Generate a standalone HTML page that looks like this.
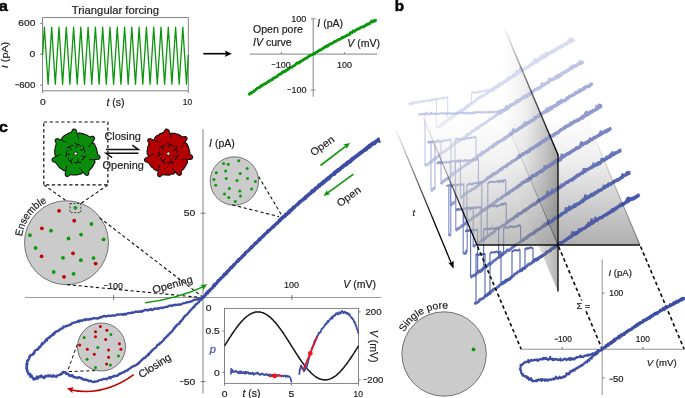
<!DOCTYPE html>
<html lang="en"><head><meta charset="utf-8"><title>Figure</title>
<style>
html,body{margin:0;padding:0;background:#fff;}
body{width:685px;height:398px;overflow:hidden;}
svg{display:block;font-family:"Liberation Sans","DejaVu Sans",sans-serif;}
</style></head><body>
<svg width="685" height="398" viewBox="0 0 685 398">
<rect width="685" height="398" fill="#fff"/>
<g id="panel-b">
<defs>
<linearGradient id="gfloor" gradientUnits="userSpaceOnUse" x1="0" y1="115" x2="0" y2="245">
<stop offset="0" stop-color="#7a7a7a" stop-opacity="0"/><stop offset="0.35" stop-color="#7a7a7a" stop-opacity="0.12"/><stop offset="1" stop-color="#7a7a7a" stop-opacity="0.6"/></linearGradient>
<linearGradient id="gvert" gradientUnits="userSpaceOnUse" x1="503" y1="0" x2="558" y2="0">
<stop offset="0" stop-color="#6e6e6e" stop-opacity="0"/><stop offset="0.4" stop-color="#6e6e6e" stop-opacity="0.1"/><stop offset="0.75" stop-color="#6e6e6e" stop-opacity="0.34"/><stop offset="1" stop-color="#6e6e6e" stop-opacity="0.58"/></linearGradient>
<linearGradient id="gedge" gradientUnits="userSpaceOnUse" x1="0" y1="117" x2="0" y2="245">
<stop offset="0" stop-color="#000" stop-opacity="0.05"/><stop offset="0.45" stop-color="#000" stop-opacity="0.35"/><stop offset="0.7" stop-color="#000" stop-opacity="0.9"/><stop offset="1" stop-color="#000" stop-opacity="1"/></linearGradient>
<linearGradient id="gedge2" gradientUnits="userSpaceOnUse" x1="0" y1="117" x2="0" y2="245">
<stop offset="0" stop-color="#000" stop-opacity="0"/><stop offset="1" stop-color="#000" stop-opacity="0.45"/></linearGradient>
<linearGradient id="gtop" gradientUnits="userSpaceOnUse" x1="503" y1="0" x2="558" y2="0">
<stop offset="0" stop-color="#000" stop-opacity="0"/><stop offset="0.45" stop-color="#000" stop-opacity="0.55"/><stop offset="1" stop-color="#000" stop-opacity="1"/></linearGradient>
<linearGradient id="gtarr" gradientUnits="userSpaceOnUse" x1="0" y1="125" x2="0" y2="225">
<stop offset="0" stop-color="#000" stop-opacity="0"/><stop offset="1" stop-color="#000" stop-opacity="1"/></linearGradient>
<linearGradient id="gwhite" gradientUnits="userSpaceOnUse" x1="430" y1="0" x2="560" y2="0">
<stop offset="0" stop-color="#fff" stop-opacity="0.45"/><stop offset="1" stop-color="#fff" stop-opacity="0"/></linearGradient>
</defs>
<line x1="436.4" y1="128.2" x2="436.4" y2="99" stroke="#d6dbf0" stroke-width="1.1" opacity="0.95"/>
<line x1="447.7" y1="97.2" x2="447.7" y2="119.9" stroke="#d6dbf0" stroke-width="1.1" opacity="0.95"/>
<line x1="471.6" y1="103.5" x2="471.6" y2="92.9" stroke="#d6dbf0" stroke-width="1.1" opacity="0.95"/>
<path d="M492.2 90 L491.6 90.8 L491.1 90.6 L490.5 90.4 L490 90.8 L489.4 91.5 L488.9 92 L488.3 92.4 L487.7 92.2 L487.2 92.8 L486.6 93.8 L486.1 93.9 L485.5 94.2 L484.9 94.3 L484.4 94.8 L483.8 95.6 L483.3 95.7 L482.7 95.8 L482.2 96.5 L481.6 96.6 L481 96.3 L480.5 97.1 L479.9 97.7 L479.4 97.3 L478.8 97.7 L478.2 98.5 L477.7 98.8 L477.1 98.8 L476.6 99.6 L476 100.7 L475.5 101 L474.9 100.9 L474.3 101.5 L473.8 102.3 L473.2 102.5 L472.7 102.8 L472.1 103.6 L471.6 103.7 L471 103.5 L470.4 104.1 L469.9 104.8 L469.3 105.4 L468.8 105.3 L468.2 105.2 L467.6 105.7 L467.1 105.7 L466.5 106.4 L466 107.5 L465.4 107.6 L464.9 108.3 L464.3 109.2 L463.7 109.3 L463.2 109.6 L462.6 110.1 L462.1 109.9 L461.5 110.2 L461 111.2 L460.4 110.8 L459.8 111.1 L459.3 112 L458.7 112.5 L458.2 112.9 L457.6 113 L457 113.6 L456.5 113.8 L455.9 114.2 L455.4 114.9 L454.8 115.2 L454.3 115.5 L453.7 116.1 L453.1 116.8 L452.6 116.8 L452 117.2 L451.5 118.1 L450.9 118.8 L450.4 118.3 L449.8 118.4 L449.2 119.5 L448.7 119.6 L448.1 119.5 L447.6 120.3 L447 120.7 L446.4 120.8 L445.9 122 L445.3 121.8 L444.8 121.6 L444.2 122.1 L443.7 122.7 L443.1 124 L442.5 125 L442 124.3 L441.4 123.9 L440.9 125.1 L440.3 126.2 L439.7 126.5 L439.2 126.2 L438.6 126.5 L438.1 127.2 L437.5 127.4 L437 127.6 L436.4 128.2" fill="none" stroke="#d6dbf0" stroke-width="2.7" stroke-linejoin="round" opacity="0.92"/>
<path d="M436.4 99 L435.8 98.7 L435.3 98.7 L434.7 99.6 L434.2 99.8 L433.6 99 L433.1 99.6 L432.5 100.3 L431.9 100.7 L431.4 100.6 L430.8 99.9 L430.3 99.5 L429.7 100.2 L429.2 101.6 L428.6 101 L428 100 L427.5 100.6 L426.9 100.6 L426.4 100.4 L425.8 100.7 L425.3 100.9 L424.7 101.5 L424.2 101.5 L423.6 101.6 L423 101.5 L422.5 101.4 L421.9 101 L421.4 100.5 L420.8 101.5 L420.3 101.9 L419.7 101.9 L419.1 102.4 L418.6 102.7 L418 102.9 L417.5 102.9 L416.9 102.7 L416.4 102.2 L415.8 102.1 L415.2 102.3 L414.7 102.3 L414.1 102.3 L413.6 102.8 L413 103.1 L412.5 103.1 L411.9 102.5 L411.3 102.7 L410.8 103.5 L410.2 104 L409.7 104.2 L409.3 103.7 L409.8 103.2 L410.4 103.9 L411 104.3 L411.5 104.1 L412.1 104.5 L412.6 103.5 L413.2 102.9 L413.7 103.2 L414.3 103.2 L414.9 103.1 L415.4 102.9 L416 102.7 L416.5 102 L417.1 101.8 L417.6 102 L418.2 102 L418.7 102 L419.3 102 L419.9 102.4 L420.4 102.2 L421 101.9 L421.5 101.7 L422.1 101.4 L422.6 101.2 L423.2 101.1 L423.8 101.2 L424.3 101.3 L424.9 101.2 L425.4 100.7 L426 100.7 L426.5 100.8 L427.1 100.2 L427.7 100.3 L428.2 100.2 L428.8 100.3 L429.3 100.2 L429.9 99.7 L430.4 99.5 L431 100.2 L431.6 100.3 L432.1 99.5 L432.7 99.4 L433.2 99.1 L433.8 99.6 L434.3 99.5 L434.9 99 L435.5 99.6 L436 98.9 L436.6 98.7 L437.1 99.4 L437.7 99.3 L438.2 99 L438.8 99.1 L439.3 98.9 L439.9 98.6 L440.5 98.5 L441 98.5 L441.6 98.1 L442.1 98.1 L442.7 98.1 L443.2 97.4 L443.8 97.6 L444.4 98.4 L444.9 98.5 L445.5 97.7 L446 97.5 L446.6 97.4 L447.1 97.1 L447.7 97.2" fill="none" stroke="#d6dbf0" stroke-width="1.9" stroke-linejoin="round" opacity="0.92"/>
<path d="M447.7 119.9 L448.3 119.2 L448.8 118.7 L449.4 118 L450 117.8 L450.5 118.1 L451.1 118.5 L451.7 117.8 L452.3 117.3 L452.8 116.8 L453.4 115.4 L454 115.2 L454.5 115.5 L455.1 114.9 L455.7 114.5 L456.2 114.4 L456.8 113.6 L457.4 112.6 L457.9 112.4 L458.5 112.4 L459.1 111.9 L459.6 111.9 L460.2 112.2 L460.8 111.3 L461.4 110.6 L461.9 110.7 L462.5 110.3 L463.1 109.9 L463.6 109.2 L464.2 108.7 L464.8 109 L465.3 108.7 L465.9 107.4 L466.5 107 L467 107.2 L467.6 106.7 L468.2 105.7 L468.8 105.7 L469.3 105.1 L469.9 104.4 L470.5 104.4 L471 103.5 L471.6 103.5" fill="none" stroke="#d6dbf0" stroke-width="2.7" stroke-linejoin="round" opacity="0.92"/>
<path d="M471.6 92.9 L472.2 93.1 L472.7 92.2 L473.3 92 L473.9 92.6 L474.5 92.9 L475 92.8 L475.6 92.5 L476.2 92.5 L476.8 92.3 L477.3 92.4 L477.9 92.5 L478.5 92.1 L479 92.1 L479.6 91.6 L480.2 91.1 L480.8 91.8 L481.3 92 L481.9 91.4 L482.5 91.3 L483 91.1 L483.6 91 L484.2 90.8 L484.8 90.7 L485.3 90.4 L485.9 90.6 L486.5 90.8 L487 89.8 L487.6 89.8 L488.2 90.1 L488.8 90.1 L489.3 89.8 L489.9 89.8 L490.5 91.2 L491.1 90.5 L491.6 89.4 L492.2 89.6" fill="none" stroke="#d6dbf0" stroke-width="1.9" stroke-linejoin="round" opacity="0.92"/>
<path d="M490.2 90 L490.7 90.4 L491.3 90.4 L491.8 90.4 L492.3 89.8 L492.8 89 L493.4 89.8 L493.9 89.2 L494.4 87.6 L494.9 87.5 L495.5 87.4 L496 87.4 L496.5 87.1 L497 86.2 L497.6 85.9 L498.1 86.6 L498.6 86.6 L499.1 84.5 L499.7 83.7 L500.2 84 L500.7 83.9 L501.2 83.8 L501.8 83.9 L502.3 83.9 L502.8 83.2 L503.3 82.6 L503.9 82 L504.4 81.7 L504.9 81.8 L505.4 81.5 L506 80.6 L506.5 80.5 L507 80.3 L507.5 79.6 L508.1 78.9 L508.6 78.4 L509.1 78.1 L509.6 77.1 L510.2 77.3 L510.7 78 L511.2 77.3 L511.7 77.1 L512.3 77 L512.8 76.4 L513.3 75.2 L513.8 74.6 L514.4 75.2 L514.9 75.5 L515.4 75.6 L515.9 75.2 L516.5 73.9 L517 71.2 L517.5 72.6 L518 73 L518.6 72.8 L519.1 72.4 L519.6 71.8 L520.1 71.1 L520.7 68.1 L521.2 70.8 L521.7 70.5 L522.2 70.4 L522.8 69.9 L523.3 69.6 L523.8 69.3 L524.3 69.1 L524.9 68.9 L525.4 68.2 L525.9 67.5 L526.4 67.9 L527 67.7 L527.5 67.1 L528 67 L528.5 66.1 L529.1 65.5 L529.6 65.3 L530.1 65.3 L530.6 65.2 L531.2 64.4 L531.7 63.7 L532.2 63.7 L532.7 64.1 L533.3 63 L533.8 62.3 L534.3 62.6 L534.8 62.3 L535.4 62 L535.9 60.3 L536.4 61.9 L536.9 61.6 L537.5 60.9 L538 60.6 L538.5 59.9 L539 59.7 L539.6 59.5 L540.1 58.8 L540.6 58.5 L541.1 58.4 L541.7 58.3 L542.2 58 L542.7 57.3 L543.2 57.5 L543.8 57.6 L544.3 57.3 L544.8 56.8 L545.3 56.1 L545.9 55.4 L546.4 52.7 L546.9 55.2 L547.4 55 L548 53.9 L548.5 53.5 L549 53.2 L549.5 53 L550.1 52.7 L550.6 52 L551.1 52.1 L551.6 52.1 L552.2 51.3 L552.7 51.2 L553.2 52.1 L553.7 51.1 L554.3 50.7 L554.8 50.6 L555.3 49.6 L555.8 49.4 L556.4 48.8 L556.9 49 L557.4 49.3 L557.9 48.3 L558.5 47.8 L559 47.2 L559.5 46.9 L560 47.3 L560.6 46.6 L561.1 45.9 L561.6 46.1 L562.1 46.3 L562.7 46.4 L563.2 45.6 L563.7 44.6 L564.2 44.6 L564.8 44.4 L565.3 43.9 L565.8 44 L566.3 44.4 L566.9 43.8 L567.4 42.9 L567.9 42.7 L568.4 41.8 L569 41.4 L569.5 41.3 L570 39.3 L570.5 42 L571.1 41 L571.6 40.4 L572.1 39.3 L572.6 39.3 L573.2 40.3 L573.7 39.5" fill="none" stroke="#d6dbf0" stroke-width="3.0" stroke-linejoin="round"/>
<line x1="425" y1="165.7" x2="425" y2="113.8" stroke="#bdc4e4" stroke-width="1.1" opacity="0.95"/>
<path d="M501.6 111.7 L501 112.3 L500.5 111.7 L499.9 112.2 L499.4 112.9 L498.8 113.4 L498.3 113.7 L497.7 114.3 L497.2 114.8 L496.6 115 L496 115.4 L495.5 115.6 L494.9 116.5 L494.4 117 L493.8 116.9 L493.3 116.8 L492.7 117.7 L492.2 118.7 L491.6 118.6 L491.1 118.8 L490.5 119 L489.9 118.9 L489.4 119.4 L488.8 120.2 L488.3 120.9 L487.7 120.9 L487.2 121.4 L486.6 122.3 L486.1 122.5 L485.5 123 L484.9 123.2 L484.4 123.2 L483.8 123.8 L483.3 124.2 L482.7 124.7 L482.2 124.7 L481.6 125.3 L481.1 125.8 L480.5 125.7 L480 125.9 L479.4 126.5 L478.8 127.7 L478.3 128.3 L477.7 128.5 L477.2 128 L476.6 127.9 L476.1 128.6 L475.5 129 L475 129.9 L474.4 130.6 L473.8 130.6 L473.3 131.1 L472.7 131.2 L472.2 131.1 L471.6 131.6 L471.1 132.4 L470.5 133.2 L470 133.6 L469.4 134.2 L468.9 134 L468.3 133.8 L467.7 134.7 L467.2 134.8 L466.6 135 L466.1 136.2 L465.5 137.1 L465 137.5 L464.4 137.5 L463.9 137.5 L463.3 138.2 L462.7 138.6 L462.2 138.7 L461.6 139.7 L461.1 139.8 L460.5 139.6 L460 140.1 L459.4 140.9 L458.9 141.4 L458.3 141.7 L457.7 142.1 L457.2 142 L456.6 141.9 L456.1 142.9 L455.5 143.2 L455 143.2 L454.4 143.5 L453.9 144 L453.3 144.7 L452.8 145.1 L452.2 145.6 L451.6 146.9 L451.1 147.2 L450.5 147.4 L450 148 L449.4 147.6 L448.9 147.8 L448.3 148.3 L447.8 149 L447.2 149.4 L446.6 149.9 L446.1 150.9 L445.5 150.2 L445 150.7 L444.4 152.2 L443.9 152.1 L443.3 152.4 L442.8 152.5 L442.2 152.6 L441.7 153.1 L441.1 153.6 L440.5 153.9 L440 153.3 L439.4 154.4 L438.9 156.4 L438.3 156.5 L437.8 156.4 L437.2 157.1 L436.7 157.1 L436.1 157.7 L435.5 158.7 L435 158.6 L434.4 158.6 L433.9 159.5 L433.3 159.3 L432.8 160.1 L432.2 161.6 L431.7 161.2 L431.1 161.6 L430.6 162.3 L430 162.1 L429.4 163 L428.9 163.5 L428.3 163.6 L427.8 164.4 L427.2 165.1 L426.7 165.3 L426.1 164.9 L425.6 164.5 L425 165.7" fill="none" stroke="#bdc4e4" stroke-width="2.7" stroke-linejoin="round" opacity="0.92"/>
<path d="M425 113.8 L424.4 113.7 L423.9 113.7 L423.3 114.3 L422.8 114.4 L422.2 113.8 L421.7 114.1 L421.1 114.5 L420.6 114.2 L420 113.8 L419.4 114.2 L418.9 114.4 L418.9 114.6 L419.4 114.3 L420 114.2 L420.5 114.2 L421.1 114.2 L421.6 114.3 L422.2 113.9 L422.8 113.9 L423.3 114.3 L423.9 115 L424.4 114.7 L425 114 L425.5 114.6 L426.1 113.9 L426.6 112.8 L427.2 113.1 L427.7 113.6 L428.3 114.7 L428.9 114.9 L429.4 114.5 L430 114.3 L430.5 113.1 L431.1 112.4 L431.6 113.5 L432.2 114.3 L432.7 113.5 L433.3 113.8 L433.9 113.7 L434.4 113.7 L435 114.6 L435.5 114 L436.1 113.2 L436.6 113.7 L437.2 113.7 L437.7 113.6 L438.3 113.6 L438.9 113.6 L439.4 114 L440 113.5 L440.5 113.2 L441.1 113.4 L441.6 113.1 L442.2 112.9 L442.7 113.4 L443.3 113.6 L443.9 113.3 L444.4 113.7 L445 113.9 L445.5 113 L446.1 113.5 L446.6 114.4 L447.2 113.9 L447.7 113.1 L448.3 113.1 L448.8 113.2 L449.4 113 L450 113.7 L450.5 114 L451.1 113.5 L451.6 113.5 L452.2 113.4 L452.7 113.5 L453.3 113.8 L453.8 113.4 L454.4 113.1 L455 114 L455.5 114.1 L456.1 113.2 L456.6 113.7 L457.2 113.8 L457.7 112.8 L458.3 113 L458.8 113 L459.4 112.6 L460 113 L460.5 113.1 L461.1 112.7 L461.6 112.6 L462.2 112.6 L462.7 113.1 L463.3 113.1 L463.8 112.5 L464.4 113.4 L465 113.4 L465.5 113.2 L466.1 113.8 L466.6 113.2 L467.2 112.3 L467.7 112.5 L468.3 113.2 L468.8 113.3 L469.4 113.1 L469.9 113.2 L470.5 113.6 L471.1 112.8 L471.6 112.8 L472.2 113.2 L472.7 112.5 L473.3 112.4 L473.8 113.1 L474.4 113.5 L474.9 112.3 L475.5 112 L476.1 112.5 L476.6 112.4 L477.2 112.3 L477.7 111.9 L478.3 112.3 L478.8 112.5 L479.4 112 L479.9 112.1 L480.5 112 L481.1 112.4 L481.6 112.8 L482.2 112.3 L482.7 111.9 L483.3 111.9 L483.8 112.5 L484.4 112.7 L484.9 112.4 L485.5 112.3 L486.1 112.1 L486.6 112.2 L487.2 111.7 L487.7 112.1 L488.3 112.5 L488.8 111.8 L489.4 112.4 L489.9 112.6 L490.5 112.2 L491 111.9 L491.6 111.4 L492.2 111.6 L492.7 112.5 L493.3 112.1 L493.8 112.2 L494.4 112.1 L494.9 111.4 L495.5 111.9 L496 112.1 L496.6 112.2 L497.2 111.9 L497.7 111.4 L498.3 111 L498.8 110.9 L499.4 111.1 L499.9 111.1 L500.5 111.5 L501 111.7 L501.6 111" fill="none" stroke="#bdc4e4" stroke-width="1.9" stroke-linejoin="round" opacity="0.92"/>
<path d="M499.6 112.5 L500.1 111 L500.7 113.2 L501.2 112.1 L501.7 110.9 L502.2 110.6 L502.8 111.1 L503.3 110.9 L503.8 110 L504.3 109.7 L504.9 110 L505.4 109.2 L505.9 108.4 L506.4 106.6 L507 108.5 L507.5 109.2 L508 108.4 L508.5 107.5 L509.1 107 L509.6 106.1 L510.1 105.6 L510.6 105.5 L511.2 104.7 L511.7 104.5 L512.2 104.5 L512.7 104.5 L513.3 104.5 L513.8 104.1 L514.3 103.2 L514.8 103 L515.4 102.9 L515.9 102.8 L516.4 102.2 L516.9 100.6 L517.5 100.4 L518 101.6 L518.5 101.6 L519 100.5 L519.6 100.3 L520.1 100.1 L520.6 99.7 L521.1 99 L521.7 98.6 L522.2 98.4 L522.7 97.9 L523.2 97.1 L523.8 97 L524.3 97.4 L524.8 97.2 L525.3 96.7 L525.9 96.3 L526.4 96.7 L526.9 96.2 L527.4 95.4 L528 95.6 L528.5 95 L529 94.1 L529.5 94.1 L530.1 94.2 L530.6 93.6 L531.1 92.9 L531.6 92.5 L532.2 91.7 L532.7 91.7 L533.2 91.6 L533.7 90.4 L534.3 90.1 L534.8 89.8 L535.3 89.2 L535.8 89.4 L536.4 89.1 L536.9 89.1 L537.4 88.6 L537.9 88 L538.5 88.3 L539 88.4 L539.5 88.2 L540 87.5 L540.6 86.9 L541.1 86.5 L541.6 86.5 L542.1 83.8 L542.7 85.4 L543.2 85.3 L543.7 84.9 L544.2 84.5 L544.8 84.8 L545.3 84.3 L545.8 83.4 L546.3 83.4 L546.9 83.2 L547.4 82.9 L547.9 82.5 L548.4 82.4 L549 81.4 L549.5 79 L550 80.6 L550.5 80.3 L551.1 80 L551.6 79.3 L552.1 79.4 L552.6 79.8 L553.2 79.7 L553.7 79 L554.2 79 L554.7 78.3 L555.3 76.8 L555.8 76.7 L556.3 76.9 L556.8 77.1 L557.4 77.6 L557.9 75.1 L558.4 76.3 L558.9 76.9 L559.5 76 L560 75.3 L560.5 75.5 L561 75.1 L561.6 73.9 L562.1 73.6 L562.6 73 L563.1 72.8 L563.7 72.9 L564.2 72.5 L564.7 72.4 L565.2 71.6 L565.8 71.6 L566.3 71.3 L566.8 70.9 L567.3 70.4 L567.9 69.9 L568.4 69.8 L568.9 69.4 L569.4 69.2 L570 68.2 L570.5 67.7 L571 68.1 L571.5 68.4 L572.1 67.6 L572.6 66.4 L573.1 66.3 L573.6 66.6 L574.2 66.3 L574.7 65.8 L575.2 66 L575.7 66.3 L576.3 65.9 L576.8 65 L577.3 64.5 L577.8 64.4 L578.4 63.7 L578.9 63.7 L579.4 63.9 L579.9 63.1 L580.5 63.3 L581 63.4 L581.5 62.9 L582 62.7 L582.6 62.4 L583.1 61.3" fill="none" stroke="#bdc4e4" stroke-width="3.0" stroke-linejoin="round"/>
<line x1="441" y1="184.1" x2="441" y2="141" stroke="#a5aed8" stroke-width="1.1" opacity="0.95"/>
<line x1="435" y1="142.1" x2="435" y2="187.2" stroke="#a5aed8" stroke-width="1.1" opacity="0.95"/>
<line x1="431" y1="190.4" x2="431" y2="141.8" stroke="#a5aed8" stroke-width="1.1" opacity="0.95"/>
<line x1="451" y1="140" x2="451" y2="175.7" stroke="#a5aed8" stroke-width="1.1" opacity="0.95"/>
<line x1="455" y1="172.7" x2="455" y2="139.9" stroke="#a5aed8" stroke-width="1.1" opacity="0.95"/>
<line x1="476" y1="137.1" x2="476" y2="158.5" stroke="#a5aed8" stroke-width="1.1" opacity="0.95"/>
<path d="M511 134.1 L510.4 134.8 L509.9 135.3 L509.3 135 L508.8 135.6 L508.2 136.2 L507.7 136.3 L507.1 136.3 L506.6 136.5 L506 137 L505.4 137.1 L504.9 137.1 L504.3 138.5 L503.8 139.4 L503.2 139.2 L502.7 140 L502.1 140.2 L501.6 140.4 L501 140.4 L500.4 140.7 L499.9 141.3 L499.3 141.8 L498.8 142.4 L498.2 142.2 L497.7 141.9 L497.1 142.4 L496.6 143.6 L496 144.4 L495.4 144.7 L494.9 144.3 L494.3 143.7 L493.8 144.5 L493.2 145.6 L492.7 146 L492.1 146.6 L491.6 147.1 L491 147 L490.4 147.2 L489.9 148 L489.3 148.7 L488.8 149 L488.2 150 L487.7 150.4 L487.1 150.1 L486.6 150.2 L486 150.4 L485.4 151.3 L484.9 152 L484.3 152.2 L483.8 152.5 L483.2 152.9 L482.7 152.6 L482.1 151.9 L481.6 153.6 L481 155.3 L480.4 155 L479.9 154.5 L479.3 154.5 L478.8 155.9 L478.2 155.8 L477.7 155.7 L477.1 157.2 L476.6 157.8 L476 158.1 L475.4 158.4 L474.9 159.3 L474.3 159.4 L473.8 158.6 L473.2 159.4 L472.7 160.7 L472.1 161 L471.6 161.3 L471 161.5 L470.4 161.2 L469.9 162.2 L469.3 163.5 L468.8 163.9 L468.2 163.7 L467.7 163.2 L467.1 163.4 L466.6 164.1 L466 165 L465.4 165.7 L464.9 165.4 L464.3 165.7 L463.8 166.6 L463.2 166.9 L462.7 167.3 L462.1 167.6 L461.6 168.2 L461 168.7 L460.4 169 L459.9 169.2 L459.3 169.6 L458.8 170.2 L458.2 169.8 L457.7 170.4 L457.1 171.4 L456.6 171.9 L456 172.4 L455.4 172.4 L454.9 173 L454.3 173.4 L453.8 173.6 L453.2 173.4 L452.7 174.6 L452.1 175 L451.6 174.7 L451 175.9 L450.4 176.5 L449.9 176.9 L449.3 177.4 L448.8 178 L448.2 178.3 L447.7 179.2 L447.1 179.2 L446.6 178.8 L446 179.4 L445.4 179.6 L444.9 180.2 L444.3 181.2 L443.8 181.3 L443.2 181 L442.7 181.9 L442.1 182.7 L441.6 183.5 L441 184.1" fill="none" stroke="#a5aed8" stroke-width="2.7" stroke-linejoin="round" opacity="0.92"/>
<path d="M441 141 L440.3 141.1 L439.7 140.6 L439 140.8 L438.3 141.2 L437.7 141.2 L437 141.2 L436.3 141.9 L435.7 142.3 L435 142.1" fill="none" stroke="#a5aed8" stroke-width="1.9" stroke-linejoin="round" opacity="0.92"/>
<path d="M435 187.2 L434.3 188.1 L433.7 188.6 L433 189 L432.3 189.9 L431.7 190.5 L431 190.4" fill="none" stroke="#a5aed8" stroke-width="2.7" stroke-linejoin="round" opacity="0.92"/>
<path d="M431 141.8 L430.4 141.7 L429.9 141.7 L429.3 142.3 L428.7 142.5 L428.2 142 L428.4 141.8 L429 142 L429.5 142.3 L430.1 142.5 L430.7 142.3 L431.2 141.5 L431.8 142 L432.3 142.4 L432.9 142 L433.5 142 L434 141.5 L434.6 141.2 L435.2 141.6 L435.7 141.9 L436.3 141.8 L436.9 140.4 L437.4 140.3 L438 141.3 L438.6 141.8 L439.1 141.8 L439.7 142.1 L440.3 142.3 L440.8 141.9 L441.4 141.7 L442 140.8 L442.5 140.7 L443.1 141.3 L443.7 140.8 L444.2 140.7 L444.8 140.9 L445.3 140.6 L445.9 140.3 L446.5 140.3 L447 140.4 L447.6 140.3 L448.2 140.3 L448.7 139.8 L449.3 139.5 L449.9 139.5 L450.4 139.4 L451 140" fill="none" stroke="#a5aed8" stroke-width="1.9" stroke-linejoin="round" opacity="0.92"/>
<path d="M451 175.7 L451.7 175.8 L452.3 174.9 L453 174.2 L453.7 173.6 L454.3 172.7 L455 172.7" fill="none" stroke="#a5aed8" stroke-width="2.7" stroke-linejoin="round" opacity="0.92"/>
<path d="M455 139.9 L455.6 139.4 L456.1 139.1 L456.7 139.3 L457.3 138.6 L457.8 138.6 L458.4 138.9 L459 139.4 L459.5 139.3 L460.1 139.4 L460.7 139.4 L461.2 139.4 L461.8 139.7 L462.4 139.2 L462.9 139.2 L463.5 139.3 L464.1 139.4 L464.6 139.6 L465.2 139 L465.8 138 L466.4 137.2 L466.9 137.4 L467.5 138.5 L468.1 138.7 L468.6 138.4 L469.2 138.1 L469.8 137.8 L470.3 137.8 L470.9 138 L471.5 137.5 L472 137.6 L472.6 137.6 L473.2 137.3 L473.7 137.5 L474.3 137.4 L474.9 137.2 L475.4 136.9 L476 137.1" fill="none" stroke="#a5aed8" stroke-width="1.9" stroke-linejoin="round" opacity="0.92"/>
<path d="M476 158.5 L476.6 157.1 L477.1 156.7 L477.7 156.1 L478.3 155.1 L478.8 155 L479.4 155.5 L480 154.7 L480.5 154.2 L481.1 153.9 L481.6 153.5 L482.2 153.6 L482.8 153.4 L483.3 153 L483.9 152.2 L484.5 152 L485 151.7 L485.6 151.1 L486.2 151.1 L486.7 150.5 L487.3 149.5 L487.9 149.4 L488.4 149 L489 148.2 L489.5 147.8 L490.1 148 L490.7 147.9 L491.2 146.5 L491.8 146.4 L492.4 147.4 L492.9 147.3 L493.5 146.1 L494.1 145.2 L494.6 145.1 L495.2 145 L495.8 144.5 L496.3 143.5 L496.9 143.3 L497.5 143.5 L498 142.4 L498.6 141.7 L499.1 141.9 L499.7 141.6 L500.3 141.3 L500.8 141.2 L501.4 140.8 L502 140.1 L502.5 139.2 L503.1 139 L503.7 139.5 L504.2 139.6 L504.8 138.7 L505.4 137.7 L505.9 137.8 L506.5 137.9 L507 137.2 L507.6 136.6 L508.2 135.8 L508.7 135.4 L509.3 135 L509.9 134.4 L510.4 134.3 L511 133.8" fill="none" stroke="#a5aed8" stroke-width="2.7" stroke-linejoin="round" opacity="0.92"/>
<path d="M509 135.2 L509.5 135.1 L510.1 134.5 L510.6 134.3 L511.1 134.3 L511.6 134.1 L512.2 133.2 L512.7 132.6 L513.2 129.7 L513.7 131.8 L514.3 131.1 L514.8 131 L515.3 130.8 L515.8 131.2 L516.4 131.1 L516.9 130 L517.4 129.6 L517.9 129.9 L518.5 129.4 L519 128.4 L519.5 128.1 L520 127.7 L520.6 127.6 L521.1 127.7 L521.6 126.9 L522.1 126.2 L522.7 126.8 L523.2 126.3 L523.7 125.4 L524.2 125 L524.8 123.8 L525.3 123.7 L525.8 124.6 L526.3 124.2 L526.9 122.9 L527.4 122.7 L527.9 123 L528.4 122.9 L529 122.8 L529.5 122.1 L530 121.6 L530.5 120.8 L531.1 120.7 L531.6 121 L532.1 120.6 L532.6 120.6 L533.2 119.8 L533.7 119.1 L534.2 118.5 L534.7 117.6 L535.3 117.5 L535.8 117.9 L536.3 117.2 L536.8 117.1 L537.4 117.1 L537.9 116.7 L538.4 116.1 L538.9 115.1 L539.5 115.2 L540 115.6 L540.5 115 L541 114.4 L541.6 114 L542.1 113.7 L542.6 113.3 L543.1 112.4 L543.7 112.5 L544.2 112.3 L544.7 111.6 L545.2 111.7 L545.8 111.6 L546.3 110.8 L546.8 108.8 L547.3 111.2 L547.9 110.7 L548.4 110.6 L548.9 109.8 L549.4 108 L550 108.1 L550.5 109.2 L551 107 L551.5 108.2 L552.1 107.5 L552.6 107.4 L553.1 106.5 L553.6 105.9 L554.2 106 L554.7 106.4 L555.2 106 L555.7 105.7 L556.3 105.6 L556.8 104.2 L557.3 104.6 L557.8 104.5 L558.4 102.1 L558.9 101.9 L559.4 103.5 L559.9 102.3 L560.5 102.5 L561 102.6 L561.5 101.5 L562 100.8 L562.6 100.8 L563.1 101.1 L563.6 100.8 L564.1 100.4 L564.7 100.7 L565.2 100.6 L565.7 100.2 L566.2 99.9 L566.8 98.6 L567.3 98.3 L567.8 98.6 L568.3 97.8 L568.9 97.1 L569.4 96.3 L569.9 96 L570.4 96.2 L571 95.8 L571.5 95.3 L572 95.1 L572.5 95.3 L573.1 95.1 L573.6 94.5 L574.1 94.7 L574.6 94.3 L575.2 93.8 L575.7 93.3 L576.2 92.9 L576.7 92.9 L577.3 92.6 L577.8 92.1 L578.3 91.4 L578.8 91.1 L579.4 91 L579.9 91.1 L580.4 91.2 L580.9 90.2 L581.5 89.8 L582 89.8 L582.5 89.4 L583 89.1 L583.6 88.2 L584.1 88.3 L584.6 88.7 L585.1 87.6 L585.7 86.6 L586.2 86.5 L586.7 86.4 L587.2 86.2 L587.8 86.4 L588.3 86.7 L588.8 86.1 L589.3 85.8 L589.9 86 L590.4 85.1 L590.9 83.9 L591.4 84 L592 84.4 L592.5 84.6" fill="none" stroke="#a5aed8" stroke-width="3.0" stroke-linejoin="round"/>
<line x1="460.4" y1="197.9" x2="460.4" y2="161.1" stroke="#8e99cd" stroke-width="1.1" opacity="0.95"/>
<line x1="450.4" y1="162.2" x2="450.4" y2="205.6" stroke="#8e99cd" stroke-width="1.1" opacity="0.95"/>
<line x1="455.4" y1="202.1" x2="455.4" y2="161.6" stroke="#8e99cd" stroke-width="1.1" opacity="0.95"/>
<line x1="478.4" y1="159.6" x2="478.4" y2="184.3" stroke="#8e99cd" stroke-width="1.1" opacity="0.95"/>
<path d="M520.4 156.3 L519.8 156.5 L519.3 157.2 L518.7 157.6 L518.2 157.4 L517.6 158.2 L517.1 159 L516.5 158.9 L516 159.4 L515.4 159.6 L514.8 160.3 L514.3 160.9 L513.7 160.8 L513.2 161.2 L512.6 161.2 L512.1 161.1 L511.5 161.8 L511 162.7 L510.4 163.4 L509.8 163.8 L509.3 163.4 L508.7 163.8 L508.2 164.8 L507.6 165.3 L507.1 165.5 L506.5 165.2 L506 165.9 L505.4 166.4 L504.8 166.6 L504.3 166.7 L503.7 167.1 L503.2 167.8 L502.6 168.2 L502.1 169.4 L501.5 169.8 L501 169.3 L500.4 169 L499.8 169.5 L499.3 170.3 L498.7 171.1 L498.2 171.3 L497.6 171.7 L497.1 172.2 L496.5 172.7 L496 173.4 L495.4 173.6 L494.8 173.5 L494.3 173.3 L493.7 173.2 L493.2 174 L492.6 174.4 L492.1 175.1 L491.5 176.2 L491 176.4 L490.4 176.3 L489.8 176.6 L489.3 177.2 L488.7 177.6 L488.2 178.1 L487.6 178.7 L487.1 179.1 L486.5 179.6 L486 179.9 L485.4 180.1 L484.8 181 L484.3 181.4 L483.7 181.4 L483.2 181.9 L482.6 181.9 L482.1 182.1 L481.5 182.4 L481 182.9 L480.4 183.4 L479.8 183.6 L479.3 184.6 L478.7 185.1 L478.2 185.5 L477.6 186 L477.1 186.3 L476.5 186.4 L476 186.6 L475.4 188 L474.8 188.6 L474.3 188.5 L473.7 188.7 L473.2 189 L472.6 189 L472.1 188.9 L471.5 189.8 L471 190.7 L470.4 190.8 L469.8 190.9 L469.3 191.3 L468.7 191.7 L468.2 191.9 L467.6 191.9 L467.1 192.6 L466.5 192.9 L466 193 L465.4 193.8 L464.8 194.2 L464.3 194.9 L463.7 195.5 L463.2 195.8 L462.6 196 L462.1 196.2 L461.5 197.1 L461 197.8 L460.4 197.9" fill="none" stroke="#8e99cd" stroke-width="2.7" stroke-linejoin="round" opacity="0.92"/>
<path d="M460.4 161.1 L459.8 161.6 L459.3 161.5 L458.7 161.1 L458.1 161.4 L457.6 161.3 L457 160.8 L456.5 161.1 L455.9 161.6 L455.3 161.5 L454.8 161.5 L454.2 161.5 L453.6 161.2 L453.1 161.4 L452.5 161.1 L452 161.1 L451.4 161.2 L450.8 161.2 L450.3 161.9 L449.7 162 L449.1 161.6 L448.6 161.9 L448 162 L447.5 161.8 L446.9 161.8 L446.3 162.4 L445.8 162.8 L445.2 162.5 L444.6 162 L444.1 162.1 L443.5 162.1 L443 162.1 L442.4 162.2 L441.8 162.7 L441.3 162.6 L440.7 162.4 L440.1 163.2 L439.6 162.3 L439 162 L438.5 163.1 L437.9 163.6 L437.5 162.6 L438 162.1 L438.6 162.2 L439.1 162 L439.7 162.1 L440.3 163 L440.8 163.2 L441.4 162.5 L442 162.3 L442.5 162.5 L443.1 162.8 L443.6 162.2 L444.2 162.4 L444.8 162.3 L445.3 161.7 L445.9 162.2 L446.5 162.8 L447 162.5 L447.6 162 L448.1 162.4 L448.7 162.5 L449.3 162.4 L449.8 162.5 L450.4 162.2" fill="none" stroke="#8e99cd" stroke-width="1.9" stroke-linejoin="round" opacity="0.92"/>
<path d="M450.4 205.6 L451 205.3 L451.6 204.2 L452.3 203 L452.9 203.6 L453.5 203.6 L454.1 202.4 L454.8 202 L455.4 202.1" fill="none" stroke="#8e99cd" stroke-width="2.7" stroke-linejoin="round" opacity="0.92"/>
<path d="M455.4 161.6 L456 161.2 L456.5 161.2 L457.1 161.6 L457.7 161.2 L458.3 160.7 L458.8 161.2 L459.4 160.9 L460 160.1 L460.6 160.6 L461.1 161.1 L461.7 160.8 L462.3 160.8 L462.9 160.5 L463.4 161.3 L464 161.3 L464.6 160.2 L465.2 160 L465.8 159.9 L466.3 160.8 L466.9 160.9 L467.5 160.6 L468 160.4 L468.6 160.7 L469.2 160.9 L469.8 159.9 L470.3 160 L470.9 160.2 L471.5 160.1 L472.1 160.3 L472.6 160.1 L473.2 160.1 L473.8 159.6 L474.4 159.1 L474.9 159.6 L475.5 160 L476.1 159.8 L476.7 159.6 L477.2 158.8 L477.8 158.5 L478.4 159.6" fill="none" stroke="#8e99cd" stroke-width="1.9" stroke-linejoin="round" opacity="0.92"/>
<path d="M478.4 184.3 L479 183.9 L479.5 183.9 L480.1 183.6 L480.6 183.3 L481.2 182.7 L481.8 182.2 L482.3 182 L482.9 181.9 L483.4 181.4 L484 181.5 L484.6 181.2 L485.1 180.3 L485.7 179.6 L486.2 179.5 L486.8 179 L487.4 177.8 L487.9 177.4 L488.5 177.7 L489 177.3 L489.6 177.1 L490.2 177.1 L490.7 175.8 L491.3 175.3 L491.8 176 L492.4 175.4 L493 174 L493.5 174.1 L494.1 174.5 L494.6 174.3 L495.2 173.4 L495.8 172.7 L496.3 172.6 L496.9 172.5 L497.4 172.7 L498 171.9 L498.6 171.2 L499.1 170.8 L499.7 170.2 L500.2 169.6 L500.8 168.8 L501.4 168.8 L501.9 168.4 L502.5 168.2 L503 167.9 L503.6 167.3 L504.2 167 L504.7 166.5 L505.3 166.2 L505.8 166.3 L506.4 166.8 L507 165.7 L507.5 164.5 L508.1 164.4 L508.6 163.7 L509.2 163.4 L509.8 163.1 L510.3 162.6 L510.9 162.9 L511.4 161.9 L512 161.2 L512.6 161.6 L513.1 160.8 L513.7 160.5 L514.2 160.5 L514.8 159.9 L515.4 159.8 L515.9 159.1 L516.5 158.5 L517 158.5 L517.6 157.6 L518.2 157.2 L518.7 157.1 L519.3 157 L519.8 156.3 L520.4 155.6" fill="none" stroke="#8e99cd" stroke-width="2.7" stroke-linejoin="round" opacity="0.92"/>
<path d="M518.4 157.6 L518.9 157.1 L519.5 156.6 L520 156 L520.5 156.2 L521 155.8 L521.6 155.3 L522.1 154.2 L522.6 153.6 L523.1 154.3 L523.7 154.5 L524.2 153.4 L524.7 153.3 L525.2 153 L525.8 152.1 L526.3 151.6 L526.8 151.9 L527.3 152.6 L527.9 151.5 L528.4 150.7 L528.9 150.9 L529.4 151.2 L530 149.8 L530.5 148.8 L531 149.4 L531.5 148.5 L532.1 148.1 L532.6 148.3 L533.1 148.1 L533.6 147.5 L534.2 147.1 L534.7 146.7 L535.2 146.4 L535.7 146.3 L536.3 145.7 L536.8 144.8 L537.3 145.1 L537.8 145.6 L538.4 145 L538.9 144.1 L539.4 143.4 L539.9 143.8 L540.5 143.8 L541 142.7 L541.5 142.1 L542 142.1 L542.6 141.7 L543.1 141 L543.6 141.1 L544.1 141.3 L544.7 140.5 L545.2 139.5 L545.7 139 L546.2 139.2 L546.8 139.3 L547.3 138.8 L547.8 138.6 L548.3 138.4 L548.9 137.5 L549.4 136.2 L549.9 135.8 L550.4 135.8 L551 135.8 L551.5 136.1 L552 136.3 L552.5 135.8 L553.1 134.7 L553.6 135.1 L554.1 135.2 L554.6 134.1 L555.2 133.6 L555.7 132.9 L556.2 132.9 L556.7 133.1 L557.3 133.1 L557.8 133 L558.3 132.4 L558.8 132.1 L559.4 131.4 L559.9 130.6 L560.4 130.3 L560.9 129.7 L561.5 129.4 L562 129.4 L562.5 129.3 L563 129.1 L563.6 127.9 L564.1 127.6 L564.6 128.4 L565.1 127.4 L565.7 126.4 L566.2 126.7 L566.7 126.2 L567.2 125.7 L567.8 125.8 L568.3 125.2 L568.8 125 L569.3 125.2 L569.9 124.4 L570.4 124 L570.9 124.4 L571.4 124 L572 123.5 L572.5 123.4 L573 122.9 L573.5 122.7 L574.1 121.1 L574.6 121.6 L575.1 121.4 L575.6 121.6 L576.2 121.4 L576.7 120.6 L577.2 120.2 L577.7 120.5 L578.3 120.1 L578.8 119.8 L579.3 119.8 L579.8 119.1 L580.4 118.6 L580.9 118.2 L581.4 118 L581.9 117.8 L582.5 116.9 L583 116.6 L583.5 116.5 L584 116.3 L584.6 116.2 L585.1 115.4 L585.6 113.3 L586.1 114.9 L586.7 112.1 L587.2 114.5 L587.7 114.9 L588.2 114.9 L588.8 113.8 L589.3 113.3 L589.8 112.1 L590.3 113.1 L590.9 111.8 L591.4 111.4 L591.9 111.6 L592.4 112 L593 111.1 L593.5 110.6 L594 110.8 L594.5 110.3 L595.1 110 L595.6 109.4 L596.1 109.6 L596.6 109.3 L597.2 108.9 L597.7 108.6 L598.2 107.8 L598.7 107.5 L599.3 105.1 L599.8 106.9 L600.3 107.2 L600.8 106.5 L601.4 105.3 L601.9 105.3" fill="none" stroke="#8e99cd" stroke-width="3.0" stroke-linejoin="round"/>
<line x1="455.8" y1="230.6" x2="455.8" y2="184.9" stroke="#7885c2" stroke-width="1.1" opacity="0.95"/>
<line x1="450.8" y1="185.9" x2="450.8" y2="234.8" stroke="#7885c2" stroke-width="1.1" opacity="0.95"/>
<line x1="448.8" y1="235.7" x2="448.8" y2="185.9" stroke="#7885c2" stroke-width="1.1" opacity="0.95"/>
<line x1="463.8" y1="183.8" x2="463.8" y2="224.2" stroke="#7885c2" stroke-width="1.1" opacity="0.95"/>
<line x1="466.8" y1="222.2" x2="466.8" y2="184.7" stroke="#7885c2" stroke-width="1.1" opacity="0.95"/>
<line x1="481.8" y1="182.3" x2="481.8" y2="211.6" stroke="#7885c2" stroke-width="1.1" opacity="0.95"/>
<line x1="487.8" y1="207.4" x2="487.8" y2="182.9" stroke="#7885c2" stroke-width="1.1" opacity="0.95"/>
<line x1="505.8" y1="180.7" x2="505.8" y2="194.8" stroke="#7885c2" stroke-width="1.1" opacity="0.95"/>
<path d="M529.8 177.3 L529.2 178.4 L528.7 179.6 L528.1 180.7 L527.6 181.2 L527 180.2 L526.5 179.4 L525.9 180.3 L525.3 181.8 L524.8 181.6 L524.2 181.4 L523.7 182.2 L523.1 182.7 L522.6 183.2 L522 183.7 L521.5 184.5 L520.9 184.7 L520.3 185 L519.8 186 L519.2 185.8 L518.7 185.2 L518.1 186.1 L517.6 187.4 L517 187.6 L516.4 187.8 L515.9 188 L515.3 188.3 L514.8 188.6 L514.2 188.9 L513.7 189.6 L513.1 189.9 L512.6 190.6 L512 191.2 L511.4 190.9 L510.9 191.2 L510.3 191.3 L509.8 191.7 L509.2 193.5 L508.7 193.7 L508.1 193.4 L507.5 193.6 L507 194.1 L506.4 194.3 L505.9 194.7 L505.3 195.1 L504.8 195.2 L504.2 195.7 L503.6 196.2 L503.1 196 L502.5 197 L502 198 L501.4 197.2 L500.9 197.9 L500.3 198.8 L499.8 198.9 L499.2 199.5 L498.6 199.6 L498.1 198.8 L497.5 199.4 L497 200.8 L496.4 201.6 L495.9 201.6 L495.3 201.6 L494.7 202.4 L494.2 202.8 L493.6 203 L493.1 203.5 L492.5 203.7 L492 204.5 L491.4 204.9 L490.9 204.8 L490.3 205.4 L489.7 205.6 L489.2 206.2 L488.6 207.2 L488.1 207.8 L487.5 208.1 L487 207.9 L486.4 208.4 L485.8 208.5 L485.3 208.6 L484.7 209.6 L484.2 210.2 L483.6 210 L483.1 209.8 L482.5 211.1 L482 211.8 L481.4 211.1 L480.8 211.3 L480.3 212.2 L479.7 213.4 L479.2 213.8 L478.6 214.2 L478.1 214.7 L477.5 214.8 L476.9 215.5 L476.4 215.6 L475.8 215.8 L475.3 216.2 L474.7 216.3 L474.2 217 L473.6 217.4 L473 217.6 L472.5 218 L471.9 218.4 L471.4 218.9 L470.8 219.6 L470.3 220.2 L469.7 220.3 L469.2 221.2 L468.6 220.7 L468 220.2 L467.5 220.7 L466.9 221.4 L466.4 222.9 L465.8 223.5 L465.3 223.8 L464.7 223.7 L464.1 224.6 L463.6 225.4 L463 225.2 L462.5 225.1 L461.9 225.8 L461.4 226.4 L460.8 226.5 L460.3 227.2 L459.7 227.8 L459.1 227.9 L458.6 228.6 L458 229 L457.5 228.6 L456.9 229.5 L456.4 230.3 L455.8 230.6" fill="none" stroke="#7885c2" stroke-width="2.7" stroke-linejoin="round" opacity="0.92"/>
<path d="M455.8 184.9 L455.2 184.4 L454.5 184.9 L453.9 185.2 L453.3 184.9 L452.7 185.5 L452 185.7 L451.4 186.3 L450.8 185.9" fill="none" stroke="#7885c2" stroke-width="1.9" stroke-linejoin="round" opacity="0.92"/>
<path d="M450.8 234.8 L450.1 235.2 L449.5 234.8 L448.8 235.7" fill="none" stroke="#7885c2" stroke-width="2.7" stroke-linejoin="round" opacity="0.92"/>
<path d="M448.8 185.9 L448.2 185.8 L447.6 185.4 L447.1 185.9 L447.1 185.9 L447.7 185.8 L448.3 185.5 L448.8 185.4 L449.4 185.3 L450 184.7 L450.6 185.6 L451.1 186.2 L451.7 185.9 L452.3 185.4 L452.9 185 L453.4 185.2 L454 184.7 L454.6 184.9 L455.2 185.1 L455.7 184.8 L456.3 184.5 L456.9 184.8 L457.5 185.5 L458 185.2 L458.6 184.6 L459.2 184.3 L459.8 184.9 L460.3 185 L460.9 184.6 L461.5 184.7 L462.1 184.2 L462.6 184.6 L463.2 184.2 L463.8 183.8" fill="none" stroke="#7885c2" stroke-width="1.9" stroke-linejoin="round" opacity="0.92"/>
<path d="M463.8 224.2 L464.5 224.3 L465.3 223.7 L466 222.7 L466.8 222.2" fill="none" stroke="#7885c2" stroke-width="2.7" stroke-linejoin="round" opacity="0.92"/>
<path d="M466.8 184.7 L467.4 184.8 L468 184.5 L468.5 184.6 L469.1 184.1 L469.7 183.4 L470.3 183.8 L470.8 184 L471.4 184.3 L472 184.5 L472.6 184 L473.1 183.6 L473.7 183.4 L474.3 183.2 L474.9 183.1 L475.5 183.4 L476 183.4 L476.6 182.9 L477.2 183.1 L477.8 183 L478.3 182.8 L478.9 182.2 L479.5 182.4 L480.1 182.9 L480.6 182.8 L481.2 183 L481.8 182.3" fill="none" stroke="#7885c2" stroke-width="1.9" stroke-linejoin="round" opacity="0.92"/>
<path d="M481.8 211.6 L482.5 210.5 L483.1 210.2 L483.8 210.4 L484.5 209.6 L485.1 209.1 L485.8 209.2 L486.5 208.5 L487.1 207.3 L487.8 207.4" fill="none" stroke="#7885c2" stroke-width="2.7" stroke-linejoin="round" opacity="0.92"/>
<path d="M487.8 182.9 L488.4 183 L489 182.2 L489.5 182.1 L490.1 182 L490.7 182 L491.3 182.1 L491.9 181.7 L492.4 181.6 L493 181.8 L493.6 182 L494.2 182 L494.8 182.1 L495.3 181.9 L495.9 181.8 L496.5 181.5 L497.1 181.2 L497.7 181.6 L498.3 181 L498.8 180.8 L499.4 182.3 L500 181.6 L500.6 181 L501.2 181 L501.7 180.5 L502.3 181.6 L502.9 181.9 L503.5 181 L504.1 180.1 L504.6 179.8 L505.2 180.4 L505.8 180.7" fill="none" stroke="#7885c2" stroke-width="1.9" stroke-linejoin="round" opacity="0.92"/>
<path d="M505.8 194.8 L506.4 194.5 L506.9 194 L507.5 193 L508.1 193 L508.7 192.2 L509.2 191.8 L509.8 192.1 L510.4 191.2 L510.9 190.9 L511.5 190.4 L512.1 190.2 L512.7 189.8 L513.2 189.1 L513.8 189.1 L514.4 188.8 L514.9 188.6 L515.5 188.4 L516.1 187.3 L516.7 187.1 L517.2 187.2 L517.8 186.4 L518.4 185.7 L518.9 186 L519.5 185.4 L520.1 184.3 L520.7 184.3 L521.2 183.8 L521.8 182.6 L522.4 182 L522.9 182.6 L523.5 182.9 L524.1 182.6 L524.7 182.1 L525.2 181.2 L525.8 180.9 L526.4 181.3 L526.9 180.5 L527.5 180 L528.1 179.7 L528.7 179.1 L529.2 179 L529.8 178.1" fill="none" stroke="#7885c2" stroke-width="2.7" stroke-linejoin="round" opacity="0.92"/>
<path d="M527.8 179.5 L528.3 179.2 L528.9 179 L529.4 179 L529.9 178.5 L530.4 178.5 L531 178.2 L531.5 177.3 L532 175.9 L532.5 175.6 L533.1 176.1 L533.6 175.6 L534.1 175 L534.6 175.1 L535.2 175.4 L535.7 175.5 L536.2 175.2 L536.7 174 L537.3 173.4 L537.8 172.8 L538.3 172.6 L538.8 172.8 L539.4 172 L539.9 171.6 L540.4 171.3 L540.9 170.8 L541.5 171 L542 171.8 L542.5 171.3 L543 170.3 L543.6 169.8 L544.1 169 L544.6 169.3 L545.1 169 L545.7 166.7 L546.2 167.8 L546.7 167.5 L547.2 167.2 L547.8 166.8 L548.3 166.1 L548.8 165.6 L549.3 166.1 L549.9 165.4 L550.4 164.4 L550.9 164.9 L551.4 164.9 L552 164.4 L552.5 163.3 L553 162.6 L553.5 162.6 L554.1 161.8 L554.6 162 L555.1 162.5 L555.6 161.5 L556.2 160.5 L556.7 160.4 L557.2 160.4 L557.7 159.8 L558.3 160.3 L558.8 160.5 L559.3 159.4 L559.8 158.7 L560.4 159.2 L560.9 159.8 L561.4 158.5 L561.9 155 L562.5 155.2 L563 157 L563.5 156.1 L564 156.6 L564.6 156.2 L565.1 155.3 L565.6 154.8 L566.1 154.3 L566.7 154.7 L567.2 154.3 L567.7 153.4 L568.2 153.1 L568.8 153.8 L569.3 153.7 L569.8 152.6 L570.3 152.3 L570.9 152.3 L571.4 151.9 L571.9 150.9 L572.4 150.6 L573 150.8 L573.5 150.7 L574 150 L574.5 149.7 L575.1 149.7 L575.6 148.5 L576.1 148.7 L576.6 148.8 L577.2 148.2 L577.7 148 L578.2 147.9 L578.7 148 L579.3 147.6 L579.8 147.2 L580.3 146 L580.8 144.9 L581.4 142.7 L581.9 145.1 L582.4 144.9 L582.9 144.9 L583.5 144 L584 143.3 L584.5 143.1 L585 142.8 L585.6 142.8 L586.1 143 L586.6 143.1 L587.1 142.3 L587.7 141.4 L588.2 141.9 L588.7 142 L589.2 141.3 L589.8 139.9 L590.3 139.2 L590.8 139.7 L591.3 139.5 L591.9 139.8 L592.4 139.7 L592.9 138.9 L593.4 138.2 L594 137.4 L594.5 137.3 L595 137.1 L595.5 136.9 L596.1 136.9 L596.6 136.8 L597.1 136.7 L597.6 135.8 L598.2 135.3 L598.7 135.5 L599.2 135.6 L599.7 135.2 L600.3 134.4 L600.8 131.8 L601.3 133.7 L601.8 133.8 L602.4 133.1 L602.9 132.5 L603.4 132.4 L603.9 132.5 L604.5 131.8 L605 131.6 L605.5 131.5 L606 131.6 L606.6 131.8 L607.1 130.8 L607.6 129.8 L608.1 130.4 L608.7 130.5 L609.2 129.6 L609.7 129 L610.2 128.5 L610.8 128.6 L611.3 128.5" fill="none" stroke="#7885c2" stroke-width="3.0" stroke-linejoin="round"/>
<line x1="473.2" y1="246.9" x2="473.2" y2="208" stroke="#6473b9" stroke-width="1.1" opacity="0.95"/>
<line x1="463.2" y1="208.9" x2="463.2" y2="253.8" stroke="#6473b9" stroke-width="1.1" opacity="0.95"/>
<line x1="467.2" y1="250.4" x2="467.2" y2="208.4" stroke="#6473b9" stroke-width="1.1" opacity="0.95"/>
<line x1="481.2" y1="206.7" x2="481.2" y2="240.8" stroke="#6473b9" stroke-width="1.1" opacity="0.95"/>
<line x1="487.2" y1="235.8" x2="487.2" y2="206.5" stroke="#6473b9" stroke-width="1.1" opacity="0.95"/>
<line x1="506.2" y1="203.4" x2="506.2" y2="222.4" stroke="#6473b9" stroke-width="1.1" opacity="0.95"/>
<path d="M539.2 200.2 L538.6 200.2 L538.1 200.5 L537.5 201.9 L537 202.5 L536.4 203 L535.8 202.9 L535.3 203.4 L534.7 204.6 L534.2 204.1 L533.6 203.7 L533 204.2 L532.5 204.9 L531.9 205.5 L531.4 205.1 L530.8 205.6 L530.3 206.7 L529.7 206.5 L529.1 207.3 L528.6 207.9 L528 208.3 L527.5 209 L526.9 208.9 L526.3 209.5 L525.8 210.2 L525.2 210 L524.7 209.6 L524.1 210 L523.5 211.1 L523 211.6 L522.4 212.3 L521.9 212.9 L521.3 212.7 L520.7 213.2 L520.2 213.2 L519.6 213.4 L519.1 213.9 L518.5 213.5 L517.9 213.6 L517.4 214.9 L516.8 215.8 L516.3 215.9 L515.7 215.9 L515.1 216.2 L514.6 217.3 L514 217.9 L513.5 217.8 L512.9 218.7 L512.4 219.2 L511.8 219 L511.2 219.8 L510.7 219.7 L510.1 219.9 L509.6 220.5 L509 220.5 L508.4 221 L507.9 221.7 L507.3 222.3 L506.8 222.8 L506.2 223.2 L505.6 223.9 L505.1 224.8 L504.5 225 L504 225.1 L503.4 225.1 L502.8 224.9 L502.3 225.6 L501.7 226.4 L501.2 226.9 L500.6 226.7 L500 227.6 L499.5 228.2 L498.9 227.8 L498.4 228.9 L497.8 228.8 L497.3 228.7 L496.7 228.9 L496.1 229 L495.6 229.5 L495 230.3 L494.5 231.5 L493.9 231.7 L493.3 232.4 L492.8 233.4 L492.2 233.4 L491.7 233.3 L491.1 233.6 L490.5 233.9 L490 234.8 L489.4 235.4 L488.9 235.3 L488.3 235.6 L487.7 236.3 L487.2 236.6 L486.6 236.9 L486.1 237.5 L485.5 238.2 L484.9 239 L484.4 238.5 L483.8 238.5 L483.3 239.6 L482.7 239.9 L482.1 240.3 L481.6 241 L481 241.3 L480.5 241.6 L479.9 241.9 L479.4 242.5 L478.8 242.4 L478.2 242.3 L477.7 242.9 L477.1 244.1 L476.6 244.9 L476 244.9 L475.4 245.3 L474.9 245.4 L474.3 245.5 L473.8 246.4 L473.2 246.9" fill="none" stroke="#6473b9" stroke-width="2.7" stroke-linejoin="round" opacity="0.92"/>
<path d="M473.2 208 L472.6 207.9 L472.1 207.9 L471.5 208 L470.9 208.6 L470.3 209.4 L469.8 208.6 L469.2 208 L468.6 208.7 L468.1 208.4 L467.5 208 L466.9 208.2 L466.3 207.7 L465.8 208.1 L465.2 208.9 L464.6 208.8 L464.1 208.9 L463.5 209 L462.9 209.8 L462.3 209.9 L461.8 209.4 L461.2 209.3 L460.6 209.2 L460.1 209.3 L459.5 209.2 L458.9 209.1 L458.3 209 L457.8 209.4 L457.2 210 L456.6 210.1 L456.3 209.7 L456.9 209.5 L457.5 208.9 L458.1 209 L458.6 209.8 L459.2 209.5 L459.8 209.8 L460.3 209.5 L460.9 209.4 L461.5 209.3 L462.1 209.1 L462.6 209.1 L463.2 208.9" fill="none" stroke="#6473b9" stroke-width="1.9" stroke-linejoin="round" opacity="0.92"/>
<path d="M463.2 253.8 L463.9 253.4 L464.5 253.2 L465.2 253.7 L465.9 252.9 L466.5 250.9 L467.2 250.4" fill="none" stroke="#6473b9" stroke-width="2.7" stroke-linejoin="round" opacity="0.92"/>
<path d="M467.2 208.4 L467.8 208.2 L468.4 207.9 L469 207.5 L469.5 207.7 L470.1 208 L470.7 208.3 L471.3 208.8 L471.9 208.1 L472.5 207.6 L473 207.8 L473.6 208.1 L474.2 207.5 L474.8 207.2 L475.4 208.2 L476 208.1 L476.5 207.6 L477.1 207.5 L477.7 207 L478.3 207.2 L478.9 207.6 L479.5 207.3 L480 207.4 L480.6 207.6 L481.2 206.7" fill="none" stroke="#6473b9" stroke-width="1.9" stroke-linejoin="round" opacity="0.92"/>
<path d="M481.2 240.8 L481.9 240.3 L482.5 239.5 L483.2 239.5 L483.9 239.3 L484.5 238.4 L485.2 237.8 L485.9 237.5 L486.5 237.1 L487.2 235.8" fill="none" stroke="#6473b9" stroke-width="2.7" stroke-linejoin="round" opacity="0.92"/>
<path d="M487.2 206.5 L487.8 207 L488.4 206.4 L488.9 206.5 L489.5 206.8 L490.1 206.2 L490.7 206 L491.2 205.6 L491.8 206.1 L492.4 206.2 L493 205.6 L493.5 206 L494.1 206.5 L494.7 205.6 L495.3 204.9 L495.8 205.4 L496.4 205.9 L497 206.7 L497.6 206 L498.1 205.3 L498.7 205.5 L499.3 205.7 L499.9 205.2 L500.4 205.1 L501 204.9 L501.6 203.7 L502.2 203.4 L502.7 204.3 L503.3 204.9 L503.9 204.1 L504.5 203.2 L505 203.8 L505.6 203.3 L506.2 203.4" fill="none" stroke="#6473b9" stroke-width="1.9" stroke-linejoin="round" opacity="0.92"/>
<path d="M506.2 222.4 L506.8 222.9 L507.3 222.7 L507.9 222.5 L508.5 221.5 L509 221.1 L509.6 221.1 L510.2 220.7 L510.8 220 L511.3 219.1 L511.9 218.8 L512.5 218.9 L513 219 L513.6 218.6 L514.2 217.6 L514.7 217 L515.3 216.8 L515.9 216.6 L516.4 215.7 L517 215.9 L517.6 216.3 L518.1 215.3 L518.7 214 L519.3 214.1 L519.9 213.8 L520.4 213.9 L521 213.8 L521.6 212.8 L522.1 212 L522.7 211.3 L523.3 211.7 L523.8 211.5 L524.4 210.6 L525 210.8 L525.5 210.8 L526.1 209.6 L526.7 208.8 L527.3 208.4 L527.8 208.6 L528.4 208.1 L529 207.3 L529.5 206.9 L530.1 206.9 L530.7 206.7 L531.2 206.2 L531.8 206.1 L532.4 205.2 L532.9 204.9 L533.5 205 L534.1 204 L534.6 203.6 L535.2 204.7 L535.8 204 L536.4 202.7 L536.9 202 L537.5 201.5 L538.1 201.4 L538.6 201.1 L539.2 200.9" fill="none" stroke="#6473b9" stroke-width="2.7" stroke-linejoin="round" opacity="0.92"/>
<path d="M537.2 202.3 L537.7 201.3 L538.3 201 L538.8 200.7 L539.3 200.4 L539.8 200.4 L540.4 199.8 L540.9 199.7 L541.4 199 L541.9 198.8 L542.5 198.2 L543 198.1 L543.5 198.4 L544 197.5 L544.6 196.8 L545.1 196.8 L545.6 196.6 L546.1 196 L546.7 196 L547.2 195.6 L547.7 192.1 L548.2 193.5 L548.8 194.9 L549.3 194.4 L549.8 193.7 L550.3 193.4 L550.9 193.3 L551.4 193.4 L551.9 192.5 L552.4 191.7 L553 191.6 L553.5 191.5 L554 191.7 L554.5 191.1 L555.1 190.4 L555.6 190.4 L556.1 189.6 L556.6 188.6 L557.2 188.6 L557.7 188.5 L558.2 188.3 L558.7 187.8 L559.3 188 L559.8 187.6 L560.3 186.6 L560.8 186.9 L561.4 186.8 L561.9 186.2 L562.4 185.7 L562.9 185.6 L563.5 185.2 L564 184.8 L564.5 184.2 L565 183.6 L565.6 183.1 L566.1 182.4 L566.6 182.2 L567.1 182.6 L567.7 182.5 L568.2 181.9 L568.7 181.4 L569.2 180.9 L569.8 180.8 L570.3 180.2 L570.8 180.2 L571.3 179.7 L571.9 179.3 L572.4 180.3 L572.9 179.5 L573.4 178.3 L574 177.8 L574.5 177.4 L575 177 L575.5 176.9 L576.1 177 L576.6 175.9 L577.1 175.3 L577.6 175 L578.2 175 L578.7 175.5 L579.2 175.1 L579.7 174.1 L580.3 173.7 L580.8 173.8 L581.3 172.9 L581.8 172.8 L582.4 173.3 L582.9 172 L583.4 172 L583.9 169.3 L584.5 171.1 L585 171.7 L585.5 170.9 L586 169.6 L586.6 169.5 L587.1 169.4 L587.6 169.4 L588.1 169.3 L588.7 168.8 L589.2 168.5 L589.7 168.3 L590.2 167.9 L590.8 167.7 L591.3 167.7 L591.8 166.9 L592.3 167.2 L592.9 166.8 L593.4 166.1 L593.9 166 L594.4 165.5 L595 165.6 L595.5 165.5 L596 165.5 L596.5 164.6 L597.1 164.7 L597.6 164.8 L598.1 163.3 L598.6 162.5 L599.2 163.2 L599.7 163.8 L600.2 162.8 L600.7 162.2 L601.3 162.3 L601.8 159.3 L602.3 160.9 L602.8 160.5 L603.4 160.6 L603.9 160.3 L604.4 159.4 L604.9 159.3 L605.5 158.8 L606 158 L606.5 158.7 L607 158.7 L607.6 158 L608.1 157.7 L608.6 157.6 L609.1 157.3 L609.7 156 L610.2 155.8 L610.7 155.1 L611.2 154.1 L611.8 155.3 L612.3 154.2 L612.8 155 L613.3 154.4 L613.9 154.2 L614.4 154.3 L614.9 153.7 L615.4 152.8 L616 152.5 L616.5 152.5 L617 152.5 L617.5 152.1 L618.1 151.9 L618.6 151.4 L619.1 150.8 L619.6 150.7 L620.2 150 L620.7 150.4" fill="none" stroke="#6473b9" stroke-width="3.0" stroke-linejoin="round"/>
<line x1="470.6" y1="277.6" x2="470.6" y2="230.2" stroke="#5364b0" stroke-width="1.1" opacity="0.95"/>
<line x1="477.6" y1="229.4" x2="477.6" y2="272.7" stroke="#5364b0" stroke-width="1.1" opacity="0.95"/>
<line x1="483.6" y1="268" x2="483.6" y2="229.2" stroke="#5364b0" stroke-width="1.1" opacity="0.95"/>
<line x1="498.6" y1="228.2" x2="498.6" y2="257.2" stroke="#5364b0" stroke-width="1.1" opacity="0.95"/>
<line x1="503.6" y1="253.2" x2="503.6" y2="227.6" stroke="#5364b0" stroke-width="1.1" opacity="0.95"/>
<line x1="520.6" y1="225.7" x2="520.6" y2="242.1" stroke="#5364b0" stroke-width="1.1" opacity="0.95"/>
<path d="M548.6 223.2 L548 224.1 L547.5 223.6 L546.9 223.9 L546.4 225 L545.8 225.2 L545.3 225.9 L544.7 226.1 L544.1 226 L543.6 226.4 L543 226.6 L542.5 227 L541.9 226.8 L541.4 227.6 L540.8 228.4 L540.2 228.4 L539.7 229.1 L539.1 229.3 L538.6 229.6 L538 230 L537.5 229.8 L536.9 229.9 L536.3 231.2 L535.8 231.5 L535.2 231.1 L534.7 232.5 L534.1 233.6 L533.6 233.8 L533 233.8 L532.4 233.8 L531.9 234.4 L531.3 234.9 L530.8 235 L530.2 234.7 L529.7 234.8 L529.1 235.2 L528.5 236.3 L528 237.1 L527.4 236.9 L526.9 237.5 L526.3 237.9 L525.8 238.4 L525.2 238.6 L524.6 238.3 L524.1 239.4 L523.5 240.1 L523 239.8 L522.4 240.1 L521.9 240.5 L521.3 241.1 L520.7 241.9 L520.2 242 L519.6 242.2 L519.1 242.7 L518.5 243.4 L518 243.6 L517.4 243.6 L516.8 244.7 L516.3 244.6 L515.7 244.8 L515.2 245.6 L514.6 245.7 L514.1 246 L513.5 247 L512.9 247.5 L512.4 247.5 L511.8 247.7 L511.3 248.4 L510.7 249.2 L510.2 249.7 L509.6 250 L509 250.6 L508.5 250.3 L507.9 249.7 L507.4 249.9 L506.8 251 L506.3 251.4 L505.7 251.5 L505.1 252.9 L504.6 252.8 L504 252.8 L503.5 253.5 L502.9 254.4 L502.4 254.4 L501.8 254.6 L501.2 255.7 L500.7 256.1 L500.1 256.3 L499.6 257.1 L499 257.5 L498.5 257.5 L497.9 257.7 L497.3 258.3 L496.8 258.7 L496.2 259.1 L495.7 259.7 L495.1 260.2 L494.6 260.3 L494 260.4 L493.4 261.2 L492.9 261.7 L492.3 262.3 L491.8 262.7 L491.2 263.1 L490.7 264 L490.1 264.4 L489.5 263.8 L489 263.5 L488.4 264.4 L487.9 265.2 L487.3 265.5 L486.8 266 L486.2 266.7 L485.6 267.5 L485.1 267.2 L484.5 267.3 L484 268 L483.4 267.9 L482.9 268.6 L482.3 269.4 L481.7 269.7 L481.2 271 L480.6 271.6 L480.1 271.6 L479.5 271.5 L479 271.2 L478.4 272.1 L477.8 272.8 L477.3 272.8 L476.7 273.2 L476.2 273.7 L475.6 275 L475.1 275.3 L474.5 274.8 L473.9 275.4 L473.4 276 L472.8 276 L472.3 275.7 L471.7 276.3 L471.2 277.3 L470.6 277.6" fill="none" stroke="#5364b0" stroke-width="2.7" stroke-linejoin="round" opacity="0.92"/>
<path d="M470.6 230.2 L470 230.5 L469.4 230.2 L468.8 230.1 L468.3 230.8 L467.7 231 L467.1 230.5 L466.5 230.4 L465.9 230.9 L465.9 231.3 L466.5 230.7 L467 230.6 L467.6 231 L468.2 230.7 L468.8 231 L469.4 230.6 L470 230.1 L470.6 230.3 L471.2 230.7 L471.7 230.5 L472.3 229.8 L472.9 229.7 L473.5 230.2 L474.1 230.7 L474.7 230.4 L475.3 229.8 L475.8 229.9 L476.4 229.9 L477 229.6 L477.6 229.4" fill="none" stroke="#5364b0" stroke-width="1.9" stroke-linejoin="round" opacity="0.92"/>
<path d="M477.6 272.7 L478.3 271.8 L478.9 271.2 L479.6 270.8 L480.3 270.8 L480.9 271 L481.6 270.3 L482.3 269.8 L482.9 269.1 L483.6 268" fill="none" stroke="#5364b0" stroke-width="2.7" stroke-linejoin="round" opacity="0.92"/>
<path d="M483.6 229.2 L484.2 229.1 L484.8 229.3 L485.3 229.2 L485.9 228.6 L486.5 228.6 L487.1 228.9 L487.6 228.9 L488.2 229 L488.8 228.9 L489.4 228.5 L489.9 229.1 L490.5 229.5 L491.1 228.8 L491.7 228.1 L492.3 228 L492.8 228.3 L493.4 228.7 L494 229.3 L494.6 228.9 L495.1 228.1 L495.7 228 L496.3 227.9 L496.9 227.9 L497.4 227.4 L498 227.8 L498.6 228.2" fill="none" stroke="#5364b0" stroke-width="1.9" stroke-linejoin="round" opacity="0.92"/>
<path d="M498.6 257.2 L499.2 257.1 L499.9 256 L500.5 254.9 L501.1 255.3 L501.7 255.3 L502.4 254.1 L503 253.4 L503.6 253.2" fill="none" stroke="#5364b0" stroke-width="2.7" stroke-linejoin="round" opacity="0.92"/>
<path d="M503.6 227.6 L504.2 227.7 L504.8 227.7 L505.4 226.8 L505.9 227.3 L506.5 227.8 L507.1 227.7 L507.7 227.9 L508.3 227.8 L508.9 227.5 L509.5 226.6 L510 225.9 L510.6 226.5 L511.2 226.8 L511.8 226.8 L512.4 226.5 L513 226.6 L513.6 227.3 L514.2 227.1 L514.7 226.7 L515.3 226.6 L515.9 226.5 L516.5 226.4 L517.1 225.9 L517.7 225.8 L518.3 226 L518.8 225.4 L519.4 225.3 L520 225.8 L520.6 225.7" fill="none" stroke="#5364b0" stroke-width="1.9" stroke-linejoin="round" opacity="0.92"/>
<path d="M520.6 242.1 L521.2 241.4 L521.7 240.9 L522.3 240.9 L522.9 240.7 L523.5 239.7 L524 238.8 L524.6 238.7 L525.2 238.3 L525.7 238.7 L526.3 238.4 L526.9 236.9 L527.5 237 L528 236.7 L528.6 235.4 L529.2 235.1 L529.7 235.1 L530.3 234.6 L530.9 234 L531.5 233.5 L532 233.6 L532.6 233.4 L533.2 232.7 L533.7 232.1 L534.3 231.8 L534.9 231.7 L535.5 231.6 L536 230.7 L536.6 230.6 L537.2 230.4 L537.7 229.9 L538.3 229.5 L538.9 229 L539.5 228.9 L540 228.4 L540.6 228.3 L541.2 228 L541.7 227.5 L542.3 227 L542.9 226.2 L543.5 225.8 L544 225.1 L544.6 224 L545.2 224.2 L545.7 224.5 L546.3 224.7 L546.9 224.6 L547.5 224.1 L548 223.4 L548.6 222.8" fill="none" stroke="#5364b0" stroke-width="2.7" stroke-linejoin="round" opacity="0.92"/>
<path d="M546.6 224.4 L547.1 223.9 L547.7 223.1 L548.2 222.5 L548.7 222 L549.2 222 L549.8 222.1 L550.3 221.4 L550.8 221.2 L551.3 220.9 L551.9 220.8 L552.4 221.2 L552.9 220.7 L553.4 219.5 L554 218.6 L554.5 219.1 L555 219.3 L555.5 218 L556.1 217.8 L556.6 217.3 L557.1 216.5 L557.6 216.6 L558.2 216.3 L558.7 215.7 L559.2 216.2 L559.7 216.1 L560.3 215.1 L560.8 214.9 L561.3 213.9 L561.8 213.4 L562.4 213.6 L562.9 213.8 L563.4 213.3 L563.9 212.7 L564.5 212.4 L565 212.1 L565.5 211.1 L566 208.5 L566.6 211 L567.1 210.3 L567.6 209.3 L568.1 208.8 L568.7 209.5 L569.2 207.9 L569.7 209.5 L570.2 208.2 L570.8 208.3 L571.3 208.3 L571.8 207.6 L572.3 207.1 L572.9 206.8 L573.4 206.7 L573.9 206.8 L574.4 206.8 L575 206.5 L575.5 205.8 L576 205.3 L576.5 205 L577.1 204.3 L577.6 204.4 L578.1 204.4 L578.6 203.9 L579.2 203.2 L579.7 202.8 L580.2 202.8 L580.7 202.1 L581.3 201.4 L581.8 200.9 L582.3 201.3 L582.8 201.7 L583.4 200.8 L583.9 200.2 L584.4 199.6 L584.9 198.6 L585.5 195.7 L586 198 L586.5 198.2 L587 197.7 L587.6 197.7 L588.1 196.6 L588.6 197.3 L589.1 196.3 L589.7 195.8 L590.2 196.1 L590.7 195.4 L591.2 194.4 L591.8 195.1 L592.3 195.7 L592.8 194.6 L593.3 194.6 L593.9 194.7 L594.4 194.1 L594.9 193.5 L595.4 193.2 L596 193.3 L596.5 192.8 L597 191.9 L597.5 191.8 L598.1 190.6 L598.6 190.1 L599.1 190.6 L599.6 190.2 L600.2 190 L600.7 189.8 L601.2 189.6 L601.7 189.2 L602.3 188.8 L602.8 188.6 L603.3 188.1 L603.8 188 L604.4 187.3 L604.9 186.7 L605.4 187.1 L605.9 186.3 L606.5 185.7 L607 186.2 L607.5 186 L608 185 L608.6 183.8 L609.1 183.9 L609.6 184.5 L610.1 184.3 L610.7 184.6 L611.2 184.1 L611.7 183.2 L612.2 182.6 L612.8 182.3 L613.3 182.2 L613.8 182.1 L614.3 182 L614.9 181.2 L615.4 180.6 L615.9 180.9 L616.4 180.5 L617 180 L617.5 180.5 L618 180.2 L618.5 179.4 L619.1 179.3 L619.6 179.1 L620.1 178.3 L620.6 177.8 L621.2 177.9 L621.7 177.9 L622.2 177.7 L622.7 174.8 L623.3 176.2 L623.8 175.8 L624.3 175.7 L624.8 175.3 L625.4 175.2 L625.9 175.3 L626.4 174.4 L626.9 173 L627.5 172.4 L628 173.5 L628.5 173.8 L629 173.1 L629.6 172.7 L630.1 172.4" fill="none" stroke="#5364b0" stroke-width="3.0" stroke-linejoin="round"/>
<line x1="476" y1="302.8" x2="476" y2="254.8" stroke="#4658aa" stroke-width="1.1" opacity="0.95"/>
<line x1="485" y1="253.5" x2="485" y2="296.6" stroke="#4658aa" stroke-width="1.1" opacity="0.95"/>
<line x1="490" y1="292.5" x2="490" y2="253" stroke="#4658aa" stroke-width="1.1" opacity="0.95"/>
<line x1="501" y1="252.1" x2="501" y2="284.2" stroke="#4658aa" stroke-width="1.1" opacity="0.95"/>
<line x1="512" y1="276.7" x2="512" y2="251.1" stroke="#4658aa" stroke-width="1.1" opacity="0.95"/>
<line x1="520" y1="249.4" x2="520" y2="270.8" stroke="#4658aa" stroke-width="1.1" opacity="0.95"/>
<line x1="525" y1="267.4" x2="525" y2="248.4" stroke="#4658aa" stroke-width="1.1" opacity="0.95"/>
<line x1="533" y1="247.9" x2="533" y2="261.3" stroke="#4658aa" stroke-width="1.1" opacity="0.95"/>
<path d="M558 244.8 L557.4 245 L556.9 245.3 L556.3 245.5 L555.8 246.1 L555.2 246.9 L554.7 247.5 L554.1 247.3 L553.5 247.7 L553 248.7 L552.4 248.6 L551.9 248.8 L551.3 248.9 L550.8 249.1 L550.2 250 L549.7 250.8 L549.1 251.1 L548.5 251.8 L548 251.8 L547.4 251.8 L546.9 252.2 L546.3 253 L545.8 253.5 L545.2 253.6 L544.6 254.2 L544.1 254.5 L543.5 255.3 L543 255.4 L542.4 255.5 L541.9 256.6 L541.3 256.3 L540.8 256.5 L540.2 257.3 L539.6 257.7 L539.1 257.6 L538.5 257.8 L538 258.2 L537.4 258.4 L536.9 259.6 L536.3 260 L535.7 259.2 L535.2 259.2 L534.6 259.9 L534.1 261.1 L533.5 261.6 L533 261.2 L532.4 262.1 L531.9 263.1 L531.3 263.2 L530.7 263.3 L530.2 264 L529.6 264.6 L529.1 263.9 L528.5 264 L528 264.7 L527.4 265.4 L526.8 266.3 L526.3 266.5 L525.7 266.5 L525.2 267.8 L524.6 268.4 L524.1 267.9 L523.5 268.3 L523 268.5 L522.4 269 L521.8 270.1 L521.3 270.2 L520.7 270.6 L520.2 271.1 L519.6 271.2 L519.1 271.5 L518.5 271.5 L517.9 271.7 L517.4 272.4 L516.8 273.2 L516.3 273.4 L515.7 273.5 L515.2 273.6 L514.6 274.2 L514.1 275.1 L513.5 275.8 L512.9 275.8 L512.4 276.2 L511.8 277.4 L511.3 277.7 L510.7 278.2 L510.2 278.7 L509.6 278.9 L509 279 L508.5 279.4 L507.9 279.5 L507.4 279.6 L506.8 280.3 L506.3 280 L505.7 280.1 L505.2 281.5 L504.6 282.5 L504 282.9 L503.5 283.2 L502.9 282.3 L502.4 282.7 L501.8 283.9 L501.3 284 L500.7 284.5 L500.1 284.8 L499.6 285 L499 286.1 L498.5 286.9 L497.9 286.8 L497.4 286.9 L496.8 287.8 L496.3 288.5 L495.7 288.6 L495.1 288.5 L494.6 288.7 L494 289.2 L493.5 289.1 L492.9 290.2 L492.4 291.1 L491.8 291.1 L491.2 291.3 L490.7 292.1 L490.1 293.5 L489.6 293.8 L489 293.9 L488.5 293.7 L487.9 293.9 L487.4 294.7 L486.8 295.6 L486.2 295.9 L485.7 295.6 L485.1 296 L484.6 296.5 L484 297.4 L483.5 298.2 L482.9 298.3 L482.3 298.5 L481.8 299.1 L481.2 299.3 L480.7 299.2 L480.1 299.1 L479.6 300.2 L479 301.4 L478.5 301.7 L477.9 301.9 L477.3 302.7 L476.8 302.8 L476.2 303 L475.7 303.5 L475.1 303.4 L475.4 303 L476 302.8" fill="none" stroke="#4658aa" stroke-width="2.7" stroke-linejoin="round" opacity="0.92"/>
<path d="M476 254.8 L476.6 254.1 L477.2 254.4 L477.8 255.2 L478.4 255.2 L479 254.7 L479.6 254.5 L480.2 253.9 L480.8 253.6 L481.4 254.4 L482 254.6 L482.6 253.9 L483.2 254 L483.8 254.1 L484.4 254 L485 253.5" fill="none" stroke="#4658aa" stroke-width="1.9" stroke-linejoin="round" opacity="0.92"/>
<path d="M485 296.6 L485.6 296.2 L486.2 295.6 L486.9 294.9 L487.5 294.6 L488.1 294.5 L488.8 293.4 L489.4 292.5 L490 292.5" fill="none" stroke="#4658aa" stroke-width="2.7" stroke-linejoin="round" opacity="0.92"/>
<path d="M490 253 L490.6 252.8 L491.2 252.6 L491.7 252.1 L492.3 252.5 L492.9 252.5 L493.5 252.4 L494.1 252.3 L494.6 252.3 L495.2 252.3 L495.8 251.8 L496.4 251.4 L496.9 251.7 L497.5 252.3 L498.1 252.7 L498.7 253.3 L499.3 253 L499.8 251.7 L500.4 251.7 L501 252.1" fill="none" stroke="#4658aa" stroke-width="1.9" stroke-linejoin="round" opacity="0.92"/>
<path d="M501 284.2 L501.6 284.1 L502.2 283.3 L502.7 282.5 L503.3 282.9 L503.9 282.1 L504.5 281.4 L505.1 281.6 L505.6 281.6 L506.2 281.4 L506.8 280.3 L507.4 280.1 L507.9 279.7 L508.5 279.6 L509.1 279.8 L509.7 278.8 L510.3 278.1 L510.8 277.7 L511.4 276.8 L512 276.7" fill="none" stroke="#4658aa" stroke-width="2.7" stroke-linejoin="round" opacity="0.92"/>
<path d="M512 251.1 L512.6 251.2 L513.2 251.1 L513.8 250.6 L514.5 250.2 L515.1 250.3 L515.7 250.2 L516.3 249.9 L516.9 250.4 L517.5 250.6 L518.2 250.5 L518.8 250.1 L519.4 249.4 L520 249.4" fill="none" stroke="#4658aa" stroke-width="1.9" stroke-linejoin="round" opacity="0.92"/>
<path d="M520 270.8 L520.6 270.3 L521.2 270.5 L521.9 270.4 L522.5 269.2 L523.1 268.3 L523.8 268.4 L524.4 268.3 L525 267.4" fill="none" stroke="#4658aa" stroke-width="2.7" stroke-linejoin="round" opacity="0.92"/>
<path d="M525 248.4 L525.6 249.3 L526.2 248.5 L526.8 247.9 L527.5 248.9 L528.1 248.9 L528.7 248.2 L529.3 247.9 L529.9 247.4 L530.5 247.2 L531.2 247.8 L531.8 248 L532.4 247.9 L533 247.9" fill="none" stroke="#4658aa" stroke-width="1.9" stroke-linejoin="round" opacity="0.92"/>
<path d="M533 261.3 L533.6 261.3 L534.1 260.9 L534.7 260.3 L535.3 259.3 L535.8 259.4 L536.4 260 L537 260.1 L537.5 259.7 L538.1 259.1 L538.7 258.7 L539.2 257.7 L539.8 257.2 L540.4 256.6 L541 256.1 L541.5 256.1 L542.1 255.3 L542.7 255.3 L543.2 255.6 L543.8 255 L544.4 254.5 L544.9 254.5 L545.5 253.8 L546.1 252.5 L546.6 251.9 L547.2 252.1 L547.8 252.1 L548.3 251 L548.9 251 L549.5 251.2 L550 250.9 L550.6 250.8 L551.2 249.7 L551.8 249 L552.3 248.6 L552.9 247.9 L553.5 247.7 L554 247.7 L554.6 247.9 L555.2 247 L555.7 246.4 L556.3 246.4 L556.9 245.7 L557.4 245.7 L558 245.3" fill="none" stroke="#4658aa" stroke-width="2.7" stroke-linejoin="round" opacity="0.92"/>
<path d="M556 245.9 L556.5 245.9 L557.1 245.4 L557.6 244.5 L558.1 244.5 L558.6 244.5 L559.2 244.2 L559.7 243.2 L560.2 242.5 L560.7 242.9 L561.3 243.2 L561.8 242.4 L562.3 241.9 L562.8 242 L563.4 241.9 L563.9 241.2 L564.4 241 L564.9 240.8 L565.5 240.5 L566 240.5 L566.5 239.4 L567 238.6 L567.6 238.7 L568.1 238.8 L568.6 237.9 L569.1 237.1 L569.7 237.4 L570.2 237.4 L570.7 236.5 L571.2 235.7 L571.8 235.8 L572.3 232.5 L572.8 235.1 L573.3 235.3 L573.9 234.9 L574.4 233.4 L574.9 233.5 L575.4 234.3 L576 234.1 L576.5 233.7 L577 232.3 L577.5 232.2 L578.1 232.5 L578.6 232 L579.1 231.5 L579.6 230.8 L580.2 230.4 L580.7 230.7 L581.2 230.5 L581.7 229.6 L582.3 228.8 L582.8 228.6 L583.3 228.7 L583.8 228.3 L584.4 228.3 L584.9 228.1 L585.4 227.5 L585.9 227 L586.5 226.7 L587 226.5 L587.5 226.4 L588 225.8 L588.6 222.9 L589.1 224.9 L589.6 225.1 L590.1 224.2 L590.7 223.7 L591.2 223.6 L591.7 219.8 L592.2 222.2 L592.8 222.9 L593.3 222.3 L593.8 221.5 L594.3 221.7 L594.9 221.3 L595.4 220.3 L595.9 220.2 L596.4 220.4 L597 220.4 L597.5 219.7 L598 219.1 L598.5 218.9 L599.1 218.6 L599.6 218 L600.1 217.4 L600.6 217.6 L601.2 217.5 L601.7 217.9 L602.2 217.9 L602.7 216.4 L603.3 215.9 L603.8 215.9 L604.3 215.7 L604.8 215.4 L605.4 215.1 L605.9 214.6 L606.4 214.3 L606.9 214.8 L607.5 214.1 L608 213 L608.5 213 L609 213.2 L609.6 212.9 L610.1 212.6 L610.6 212 L611.1 211.2 L611.7 211.1 L612.2 211.1 L612.7 211.1 L613.2 211.1 L613.8 209.6 L614.3 209.1 L614.8 209.1 L615.3 207.9 L615.9 207.9 L616.4 208.2 L616.9 207.7 L617.4 207 L618 206.5 L618.5 206.5 L619 206 L619.5 205.8 L620.1 206 L620.6 205.6 L621.1 205.4 L621.6 205.1 L622.2 204.3 L622.7 203.7 L623.2 203.8 L623.7 204.1 L624.3 203.8 L624.8 203.1 L625.3 202.8 L625.8 202 L626.4 201.4 L626.9 201.5 L627.4 198.7 L627.9 201.2 L628.5 197.9 L629 200.3 L629.5 199.8 L630 200 L630.6 199.3 L631.1 198.5 L631.6 198.7 L632.1 199.2 L632.7 199.3 L633.2 199 L633.7 198.9 L634.2 198 L634.8 197.2 L635.3 196.7 L635.8 196.8 L636.3 197.1 L636.9 196.6 L637.4 196.3 L637.9 195.9 L638.4 195.5 L639 195.1 L639.5 195.1" fill="none" stroke="#4658aa" stroke-width="3.0" stroke-linejoin="round"/>
<polygon points="477,245 640,245 585,115.1 422,115.1" fill="url(#gfloor)" />
<polygon points="477,245 640,245 585,115.1 422,115.1" fill="url(#gwhite)" />
<polygon points="558,245 538.3,245 483.3,115.1 503,115.1" fill="url(#gvert)" opacity="0.35"/>
<polygon points="558,155 558,245 503,115.1 503,25.1" fill="url(#gvert)" />
<polygon points="558,245 558,291.6 538.3,245" fill="url(#gvert)" opacity="0.9"/>
<path d="M490.2 90.2 L490.7 90.4 L491.3 90.2 L491.8 90.7 L492.3 90 L492.8 89 L493.4 88.7 L493.9 87.5 L494.4 87 L494.9 87.3 L495.5 87.3 L496 86.9 L496.5 86.1 L497 86.2 L497.6 86.2 L498.1 85.4 L498.6 84.8 L499.1 84.7 L499.7 84.8 L500.2 85 L500.7 84 L501.2 83.6 L501.8 83.7 L502.3 83.1 L502.8 83 L503.3 82.3 L503.9 81.9 L504.4 81.4 L504.9 80.7 L505.4 80.5 L506 80.8 L506.5 81.3 L507 80.6 L507.5 80 L508.1 79.2 L508.6 79.3 L509.1 79.5 L509.6 78.9 L510.2 78.1 L510.7 77.4 L511.2 77 L511.7 77.2 L512.3 76.6 L512.8 75.9 L513.3 76.4 L513.8 76.3 L514.4 76 L514.9 75.5 L515.4 74.8 L515.9 74.7 L516.5 74.5 L517 73.8 L517.5 73.1 L518 72.2 L518.6 72.5 L519.1 72.5 L519.6 71.5 L520.1 71.5 L520.7 71.2 L521.2 70.1 L521.7 69.9 L522.2 70 L522.8 69.9 L523.3 69.8 L523.8 69.7 L524.3 69.1 L524.9 68.6 L525.4 68.3 L525.9 67.6 L526.4 67.5 L527 67.5 L527.5 67.6 L528 67.3 L528.5 66.2 L529.1 65.9 L529.6 65.7 L530.1 65.7 L530.6 64.9 L531.2 63.9 L531.7 63.9 L532.2 63.8 L532.7 63.6 L533.3 62.8 L533.8 61.9 L534.3 59.2 L534.8 62.9 L535.4 62.9 L535.9 62 L536.4 61.4 L536.9 60.9 L537.5 60 L538 60.3 L538.5 60.7 L539 59.9 L539.6 59.2 L540.1 56.9 L540.6 59.2 L541.1 58.5 L541.7 58.1 L542.2 55 L542.7 57.4 L543.2 56.9 L543.8 57 L544.3 56.7 L544.8 54.3 L545.3 56.1 L545.9 56.6 L546.4 55.9 L546.9 55.1 L547.4 54.7 L548 54 L548.5 53.6 L549 53.8 L549.5 53.4 L550.1 53.2 L550.6 52.7 L551.1 52.3 L551.6 51.7 L552.2 51.3 L552.7 51.3 L553.2 50.6 L553.7 50.4 L554.3 50.5 L554.8 50.1 L555.3 50.1 L555.8 49.7 L556.4 49.4 L556.9 49.6 L557.4 47.4 L557.9 48.7 L558.5 48.1 L559 47.5 L559.5 47.7 L560 47.4 L560.6 46.6 L561.1 45.7 L561.6 45.6 L562.1 45.7 L562.7 45.7 L563.2 45.4 L563.7 44.9 L564.2 44.4 L564.8 43.8 L565.3 43.5 L565.8 43.8 L566.3 44 L566.9 43.3 L567.4 43.1 L567.9 42.5 L568.4 42.1 L569 41.9 L569.5 41.4 L570 41.1 L570.5 40.5 L571.1 40.3 L571.6 40.7 L572.1 40.4 L572.6 39.8 L573.2 39.8 L573.7 39.4" fill="none" stroke="#d6dbf0" stroke-width="2.8" stroke-linejoin="round" opacity="0.8"/>
<path d="M499.6 113 L500.1 112.8 L500.7 112.1 L501.2 112.2 L501.7 110.4 L502.2 111.6 L502.8 110.7 L503.3 110.8 L503.8 109.8 L504.3 109.5 L504.9 110.5 L505.4 109.4 L505.9 109 L506.4 109.1 L507 108.5 L507.5 107.3 L508 106.7 L508.5 107 L509.1 106.7 L509.6 106.3 L510.1 106 L510.6 104.9 L511.2 104.6 L511.7 104.9 L512.2 104.6 L512.7 104.3 L513.3 104 L513.8 103.9 L514.3 104.1 L514.8 103.4 L515.4 103 L515.9 102.9 L516.4 101.7 L516.9 101 L517.5 101.2 L518 100.9 L518.5 100.5 L519 100.8 L519.6 100 L520.1 99.3 L520.6 99.3 L521.1 99.2 L521.7 99 L522.2 98.6 L522.7 97.9 L523.2 97.7 L523.8 97.1 L524.3 96.9 L524.8 95.7 L525.3 96 L525.9 95.3 L526.4 95.3 L526.9 94.7 L527.4 94.9 L528 95.4 L528.5 94.3 L529 93.6 L529.5 94.2 L530.1 94 L530.6 92.8 L531.1 91.7 L531.6 91.2 L532.2 91.9 L532.7 92.2 L533.2 91 L533.7 90.8 L534.3 90.8 L534.8 90 L535.3 89.7 L535.8 89.4 L536.4 89.8 L536.9 89.3 L537.4 88.3 L537.9 88.7 L538.5 89 L539 87.9 L539.5 87.8 L540 88.1 L540.6 86.7 L541.1 86.5 L541.6 86.2 L542.1 85.5 L542.7 85.3 L543.2 84.2 L543.7 84.5 L544.2 84.9 L544.8 84.3 L545.3 83.9 L545.8 83.6 L546.3 83.1 L546.9 82.5 L547.4 82.4 L547.9 82.4 L548.4 81.9 L549 81.3 L549.5 79.2 L550 80.4 L550.5 80.1 L551.1 79.9 L551.6 80.1 L552.1 79.8 L552.6 78.9 L553.2 78.9 L553.7 79 L554.2 78.8 L554.7 78.3 L555.3 78.5 L555.8 78.1 L556.3 77.2 L556.8 77.8 L557.4 77.1 L557.9 76.2 L558.4 76.3 L558.9 75.3 L559.5 74.6 L560 75 L560.5 74.4 L561 73.8 L561.6 74.2 L562.1 73.9 L562.6 73.4 L563.1 72.9 L563.7 72.4 L564.2 72.1 L564.7 71.8 L565.2 71.9 L565.8 71.7 L566.3 71.9 L566.8 71.7 L567.3 70.8 L567.9 71.1 L568.4 70.6 L568.9 69.4 L569.4 69.1 L570 68.7 L570.5 68.6 L571 69 L571.5 68.8 L572.1 66 L572.6 67.3 L573.1 67.3 L573.6 67.4 L574.2 66.8 L574.7 66 L575.2 66.2 L575.7 66.1 L576.3 65.6 L576.8 65.3 L577.3 64.7 L577.8 64.2 L578.4 64.5 L578.9 64.1 L579.4 63.4 L579.9 61.2 L580.5 63.2 L581 63.6 L581.5 62.9 L582 61.8 L582.6 62.4 L583.1 62.1" fill="none" stroke="#bdc4e4" stroke-width="2.8" stroke-linejoin="round" opacity="0.8"/>
<path d="M509 135.2 L509.5 134.5 L510.1 133.6 L510.6 133.3 L511.1 134.1 L511.6 133.8 L512.2 133.9 L512.7 133.3 L513.2 132.1 L513.7 131.8 L514.3 131.4 L514.8 131.2 L515.3 130.5 L515.8 130 L516.4 130.8 L516.9 130.7 L517.4 130 L517.9 129.3 L518.5 128.6 L519 128.9 L519.5 128.5 L520 127.8 L520.6 127.5 L521.1 127.3 L521.6 127.3 L522.1 127.3 L522.7 126.3 L523.2 124.9 L523.7 124.9 L524.2 125.2 L524.8 122.5 L525.3 125.2 L525.8 124.4 L526.3 124.4 L526.9 124.3 L527.4 122.8 L527.9 122.7 L528.4 123 L529 122.4 L529.5 121.5 L530 121 L530.5 121.2 L531.1 120.9 L531.6 120.7 L532.1 120.8 L532.6 120.8 L533.2 120.4 L533.7 119.6 L534.2 119.4 L534.7 119.2 L535.3 118.6 L535.8 118.1 L536.3 117 L536.8 116.1 L537.4 116.2 L537.9 116.4 L538.4 116 L538.9 116.2 L539.5 115.3 L540 114.2 L540.5 114.4 L541 114.8 L541.6 114.3 L542.1 113.6 L542.6 112.9 L543.1 112.7 L543.7 112.6 L544.2 112.5 L544.7 112.7 L545.2 112 L545.8 111.5 L546.3 111.4 L546.8 111.2 L547.3 111.3 L547.9 111 L548.4 110.4 L548.9 110.1 L549.4 109.4 L550 108.8 L550.5 108.8 L551 108.8 L551.5 108.8 L552.1 108.8 L552.6 107.7 L553.1 106.7 L553.6 106.1 L554.2 105.7 L554.7 105.4 L555.2 105.6 L555.7 106 L556.3 105 L556.8 104.5 L557.3 102.7 L557.8 104.9 L558.4 104.6 L558.9 103.8 L559.4 103.2 L559.9 103 L560.5 102.8 L561 100.1 L561.5 101.4 L562 101.5 L562.6 101.4 L563.1 100.6 L563.6 100.8 L564.1 100.5 L564.7 100.3 L565.2 99.7 L565.7 99.2 L566.2 98.9 L566.8 97.8 L567.3 97.6 L567.8 97.8 L568.3 97.6 L568.9 96.8 L569.4 97.1 L569.9 96.9 L570.4 96.2 L571 96.3 L571.5 95.8 L572 95.5 L572.5 95.6 L573.1 95.1 L573.6 94.9 L574.1 94.5 L574.6 93.5 L575.2 92.1 L575.7 93.2 L576.2 92.9 L576.7 92.9 L577.3 92.3 L577.8 92.2 L578.3 92.2 L578.8 90.8 L579.4 90.2 L579.9 89.6 L580.4 90.8 L580.9 90.3 L581.5 89.5 L582 89.4 L582.5 89.7 L583 88.7 L583.6 87.7 L584.1 87.8 L584.6 87.2 L585.1 86.9 L585.7 87.6 L586.2 87.2 L586.7 86.7 L587.2 86.4 L587.8 86.2 L588.3 86.4 L588.8 86.4 L589.3 85.9 L589.9 85.5 L590.4 85.3 L590.9 84.5 L591.4 84.6 L592 84.2 L592.5 83.5" fill="none" stroke="#a5aed8" stroke-width="2.8" stroke-linejoin="round" opacity="0.8"/>
<path d="M518.4 158.5 L518.9 155.4 L519.5 155.9 L520 155.8 L520.5 155.6 L521 155.9 L521.6 155.6 L522.1 154.8 L522.6 154.2 L523.1 153.8 L523.7 153.7 L524.2 153.5 L524.7 152.9 L525.2 152.5 L525.8 152.8 L526.3 152.6 L526.8 151.7 L527.3 151.5 L527.9 151.8 L528.4 151.3 L528.9 150.3 L529.4 149.4 L530 149.4 L530.5 149.2 L531 148.5 L531.5 148.7 L532.1 149.1 L532.6 148.7 L533.1 148.5 L533.6 148.2 L534.2 147.1 L534.7 146.8 L535.2 146.9 L535.7 146.3 L536.3 146.4 L536.8 146.1 L537.3 145.8 L537.8 145.3 L538.4 144.3 L538.9 143.8 L539.4 143.5 L539.9 142.9 L540.5 142.5 L541 142.7 L541.5 142.2 L542 141.2 L542.6 140.4 L543.1 141 L543.6 141 L544.1 140.9 L544.7 140.6 L545.2 140 L545.7 139.4 L546.2 138.7 L546.8 138.8 L547.3 138.9 L547.8 139.1 L548.3 138.9 L548.9 137.6 L549.4 137 L549.9 137 L550.4 136.5 L551 136.4 L551.5 136.8 L552 136.1 L552.5 135.6 L553.1 135.9 L553.6 134.9 L554.1 134.7 L554.6 135.2 L555.2 134.4 L555.7 134.1 L556.2 133.8 L556.7 133.2 L557.3 133 L557.8 132.1 L558.3 131.6 L558.8 131.5 L559.4 131 L559.9 130.3 L560.4 129.9 L560.9 129.6 L561.5 129.8 L562 129.3 L562.5 128.6 L563 128.7 L563.6 128 L564.1 128.1 L564.6 127.9 L565.1 127.7 L565.7 126.1 L566.2 127 L566.7 126.7 L567.2 126.5 L567.8 126.5 L568.3 125.8 L568.8 125.2 L569.3 125.6 L569.9 125.1 L570.4 122.7 L570.9 124.5 L571.4 123.5 L572 122.7 L572.5 122.3 L573 122 L573.5 121.8 L574.1 122.2 L574.6 122.1 L575.1 121.3 L575.6 120.7 L576.2 120.4 L576.7 119.9 L577.2 119.4 L577.7 120.2 L578.3 120.4 L578.8 119.1 L579.3 119 L579.8 119.4 L580.4 118.7 L580.9 117.9 L581.4 117.3 L581.9 116.6 L582.5 117.1 L583 118.4 L583.5 117.4 L584 115.5 L584.6 115.8 L585.1 116.4 L585.6 115.8 L586.1 114.3 L586.7 115 L587.2 114.3 L587.7 114.4 L588.2 113.9 L588.8 113.5 L589.3 113.2 L589.8 112.9 L590.3 112.7 L590.9 111.6 L591.4 111.3 L591.9 111.2 L592.4 110.6 L593 110.2 L593.5 110.4 L594 110.5 L594.5 109.9 L595.1 110 L595.6 110.1 L596.1 109.3 L596.6 105.8 L597.2 108.1 L597.7 108.4 L598.2 107.8 L598.7 107.8 L599.3 107.4 L599.8 106.8 L600.3 107 L600.8 106.9 L601.4 106.1 L601.9 106.1" fill="none" stroke="#8e99cd" stroke-width="2.8" stroke-linejoin="round" opacity="0.8"/>
<path d="M527.8 179.7 L528.3 179.4 L528.9 178.5 L529.4 178.3 L529.9 178.9 L530.4 178.9 L531 177.4 L531.5 176.4 L532 176.9 L532.5 176.9 L533.1 176.3 L533.6 175.9 L534.1 175.5 L534.6 174.9 L535.2 174.9 L535.7 174.6 L536.2 173.8 L536.7 174.3 L537.3 174.3 L537.8 173.5 L538.3 172.8 L538.8 172.3 L539.4 171.8 L539.9 171.5 L540.4 171.8 L540.9 171.4 L541.5 170.8 L542 170.7 L542.5 170.3 L543 169.7 L543.6 169.5 L544.1 169.3 L544.6 166.5 L545.1 168.2 L545.7 167.2 L546.2 167.2 L546.7 167.8 L547.2 167.1 L547.8 166.4 L548.3 166.4 L548.8 165.8 L549.3 165.6 L549.9 165.8 L550.4 165.5 L550.9 165.2 L551.4 164 L552 163.5 L552.5 163.7 L553 163.5 L553.5 163.6 L554.1 163.2 L554.6 162.5 L555.1 162.8 L555.6 162.5 L556.2 160.9 L556.7 160.9 L557.2 160.5 L557.7 160.4 L558.3 160.9 L558.8 160.4 L559.3 160.1 L559.8 158.2 L560.4 158.4 L560.9 157.7 L561.4 158 L561.9 157.8 L562.5 157.4 L563 156.9 L563.5 156.2 L564 156.2 L564.6 156.3 L565.1 155.9 L565.6 155 L566.1 154.2 L566.7 154.8 L567.2 154.7 L567.7 153.4 L568.2 153.2 L568.8 153.4 L569.3 153.1 L569.8 152.7 L570.3 152.7 L570.9 151.8 L571.4 151.5 L571.9 151.1 L572.4 150.7 L573 151 L573.5 150.6 L574 149.8 L574.5 149.4 L575.1 149.3 L575.6 149.2 L576.1 148.2 L576.6 147.2 L577.2 147.8 L577.7 148 L578.2 147.5 L578.7 147.3 L579.3 146.9 L579.8 146.4 L580.3 146.2 L580.8 146.2 L581.4 146 L581.9 143 L582.4 144.7 L582.9 144.4 L583.5 144.1 L584 143.5 L584.5 143.6 L585 143.5 L585.6 143.5 L586.1 143.4 L586.6 142.9 L587.1 142.2 L587.7 141.8 L588.2 141.5 L588.7 141.7 L589.2 141.6 L589.8 140.5 L590.3 138.5 L590.8 140.1 L591.3 139.8 L591.9 139.2 L592.4 139.2 L592.9 139.1 L593.4 138.5 L594 138 L594.5 138 L595 137.8 L595.5 137.9 L596.1 137.3 L596.6 136.5 L597.1 136.5 L597.6 135.8 L598.2 135.3 L598.7 135.1 L599.2 134.3 L599.7 133.8 L600.3 133.4 L600.8 133.9 L601.3 134.3 L601.8 133.8 L602.4 133.6 L602.9 133.2 L603.4 132.4 L603.9 131.8 L604.5 131.9 L605 130.6 L605.5 132 L606 131.2 L606.6 130.4 L607.1 130 L607.6 130.1 L608.1 130.4 L608.7 129.9 L609.2 129.4 L609.7 128.9 L610.2 128.5 L610.8 128.6 L611.3 128.2" fill="none" stroke="#7885c2" stroke-width="2.8" stroke-linejoin="round" opacity="0.8"/>
<path d="M537.2 201.5 L537.7 202.3 L538.3 201.6 L538.8 200.9 L539.3 200.6 L539.8 199.9 L540.4 200 L540.9 199.6 L541.4 199.2 L541.9 199.6 L542.5 199 L543 198.7 L543.5 197.9 L544 197.3 L544.6 197.4 L545.1 197.5 L545.6 197.2 L546.1 195.8 L546.7 196 L547.2 195.4 L547.7 194.7 L548.2 194.6 L548.8 194.5 L549.3 194.4 L549.8 193.9 L550.3 193.5 L550.9 192.6 L551.4 191.6 L551.9 192.1 L552.4 189.6 L553 191.3 L553.5 190.8 L554 191.1 L554.5 190.4 L555.1 190.5 L555.6 190.5 L556.1 189.3 L556.6 189.5 L557.2 189.3 L557.7 188.3 L558.2 188.2 L558.7 188.3 L559.3 188 L559.8 187.2 L560.3 186.2 L560.8 186.3 L561.4 184.7 L561.9 185 L562.4 184.6 L562.9 185.2 L563.5 184.8 L564 184.7 L564.5 184.4 L565 183.6 L565.6 182.9 L566.1 182.4 L566.6 182.5 L567.1 182.6 L567.7 182.4 L568.2 182.2 L568.7 181.1 L569.2 180.5 L569.8 180.8 L570.3 180.1 L570.8 179.8 L571.3 179.6 L571.9 179.4 L572.4 179.2 L572.9 178.9 L573.4 178.4 L574 178.3 L574.5 178.4 L575 178.2 L575.5 177.7 L576.1 176.7 L576.6 176.4 L577.1 176.1 L577.6 175.4 L578.2 175.2 L578.7 175.2 L579.2 174.7 L579.7 174.3 L580.3 173.8 L580.8 173.7 L581.3 173.2 L581.8 173.4 L582.4 173.5 L582.9 173 L583.4 172.2 L583.9 171.7 L584.5 171.8 L585 171.6 L585.5 171.6 L586 170.5 L586.6 170.2 L587.1 170 L587.6 169.7 L588.1 169.9 L588.7 168.7 L589.2 168.6 L589.7 168.7 L590.2 167.9 L590.8 167.3 L591.3 167.4 L591.8 166.9 L592.3 166.2 L592.9 166.9 L593.4 163.7 L593.9 165.8 L594.4 165.9 L595 165.8 L595.5 165.6 L596 164.2 L596.5 163.4 L597.1 164.3 L597.6 163.9 L598.1 163.8 L598.6 163.8 L599.2 162.5 L599.7 162.3 L600.2 163 L600.7 162.3 L601.3 161.5 L601.8 161.1 L602.3 160.5 L602.8 160.5 L603.4 160.5 L603.9 160.3 L604.4 159.9 L604.9 160.2 L605.5 159.5 L606 157.8 L606.5 158 L607 156.5 L607.6 157.4 L608.1 157.6 L608.6 157.6 L609.1 156.2 L609.7 156.3 L610.2 156.7 L610.7 157 L611.2 156 L611.8 154.5 L612.3 152.4 L612.8 154.6 L613.3 154.3 L613.9 153.9 L614.4 153.1 L614.9 152.9 L615.4 153.4 L616 153.4 L616.5 152.7 L617 152.3 L617.5 152.4 L618.1 151.7 L618.6 151.2 L619.1 151.1 L619.6 151.8 L620.2 151.5 L620.7 150" fill="none" stroke="#6473b9" stroke-width="2.8" stroke-linejoin="round" opacity="0.8"/>
<path d="M546.6 223.9 L547.1 223 L547.7 223.2 L548.2 223 L548.7 220.6 L549.2 222.5 L549.8 221.9 L550.3 221.6 L550.8 222.3 L551.3 221.7 L551.9 220.9 L552.4 220.9 L552.9 219.8 L553.4 218.8 L554 218.8 L554.5 218.2 L555 217.9 L555.5 218.3 L556.1 218.1 L556.6 217.8 L557.1 217.8 L557.6 217.2 L558.2 216.8 L558.7 216.8 L559.2 216.2 L559.7 215.6 L560.3 215.4 L560.8 214.9 L561.3 214.4 L561.8 214.7 L562.4 213.9 L562.9 212.9 L563.4 212.5 L563.9 212.5 L564.5 212.5 L565 212.5 L565.5 212.6 L566 212.5 L566.6 211.7 L567.1 210.7 L567.6 209.9 L568.1 209.9 L568.7 210.1 L569.2 206.6 L569.7 208.9 L570.2 208.6 L570.8 207.5 L571.3 207.2 L571.8 207.8 L572.3 207.4 L572.9 206.6 L573.4 206.4 L573.9 206.5 L574.4 204.4 L575 206.6 L575.5 205.9 L576 205.2 L576.5 204.2 L577.1 203.8 L577.6 203.4 L578.1 203.2 L578.6 203.7 L579.2 203.7 L579.7 203.3 L580.2 202.7 L580.7 202.4 L581.3 201.9 L581.8 200.7 L582.3 200.5 L582.8 199.4 L583.4 199.9 L583.9 199.3 L584.4 198.8 L584.9 198.5 L585.5 199.3 L586 198.9 L586.5 198.7 L587 198.6 L587.6 197.6 L588.1 196.6 L588.6 196.8 L589.1 197.3 L589.7 196.2 L590.2 195.5 L590.7 196.1 L591.2 195.6 L591.8 195.1 L592.3 194.4 L592.8 193.6 L593.3 194.2 L593.9 193.8 L594.4 192.7 L594.9 192.3 L595.4 192.4 L596 192 L596.5 191.8 L597 192.1 L597.5 192.3 L598.1 191.7 L598.6 191.4 L599.1 191.4 L599.6 190.5 L600.2 190.2 L600.7 190.4 L601.2 190.4 L601.7 189.8 L602.3 189 L602.8 188.7 L603.3 188.5 L603.8 185.8 L604.4 187.7 L604.9 187.9 L605.4 187.1 L605.9 186.2 L606.5 185.9 L607 185.9 L607.5 186.3 L608 186.1 L608.6 185.3 L609.1 184.6 L609.6 184.7 L610.1 184.4 L610.7 183.9 L611.2 183.6 L611.7 183.3 L612.2 182.9 L612.8 182.6 L613.3 181.9 L613.8 181.3 L614.3 181 L614.9 180.8 L615.4 180.7 L615.9 180.6 L616.4 180.9 L617 180.1 L617.5 179.1 L618 179.3 L618.5 179.7 L619.1 179.5 L619.6 178.9 L620.1 178.3 L620.6 177.8 L621.2 177.6 L621.7 177.6 L622.2 177.2 L622.7 176.6 L623.3 175.7 L623.8 175.3 L624.3 175.4 L624.8 175 L625.4 174.9 L625.9 174.5 L626.4 174 L626.9 174.3 L627.5 174.3 L628 174 L628.5 173.8 L629 173.3 L629.6 172.3 L630.1 172.6" fill="none" stroke="#5364b0" stroke-width="2.8" stroke-linejoin="round" opacity="0.8"/>
<path d="M556 246.4 L556.5 245.9 L557.1 245.5 L557.6 244.8 L558.1 244.2 L558.6 244.3 L559.2 243.7 L559.7 243 L560.2 243.5 L560.7 243.4 L561.3 242.9 L561.8 243.1 L562.3 242.5 L562.8 242.1 L563.4 241.7 L563.9 240.8 L564.4 240.5 L564.9 240.4 L565.5 240.2 L566 239.8 L566.5 239.3 L567 239.3 L567.6 239 L568.1 238.2 L568.6 238.2 L569.1 237.7 L569.7 237 L570.2 237.5 L570.7 237.2 L571.2 236.8 L571.8 236.4 L572.3 235.4 L572.8 235.1 L573.3 234.7 L573.9 234.3 L574.4 234 L574.9 232.4 L575.4 234 L576 233.3 L576.5 232.6 L577 233.4 L577.5 233.2 L578.1 232.3 L578.6 231.7 L579.1 229.4 L579.6 231.1 L580.2 230.6 L580.7 229.5 L581.2 229.5 L581.7 229.3 L582.3 228.9 L582.8 228.9 L583.3 228.9 L583.8 228.6 L584.4 228.1 L584.9 228.1 L585.4 228.1 L585.9 227.2 L586.5 225.9 L587 225.3 L587.5 225.9 L588 225.8 L588.6 224.9 L589.1 224.5 L589.6 225 L590.1 224.8 L590.7 223.8 L591.2 223.3 L591.7 222.7 L592.2 223.5 L592.8 223.5 L593.3 222.3 L593.8 221.9 L594.3 221.9 L594.9 221.3 L595.4 217.8 L595.9 219.9 L596.4 220.2 L597 220.8 L597.5 220.4 L598 219 L598.5 218.7 L599.1 218.4 L599.6 217.9 L600.1 217.8 L600.6 217.9 L601.2 217.3 L601.7 217.2 L602.2 217.1 L602.7 216.5 L603.3 216 L603.8 215.7 L604.3 215.7 L604.8 215.5 L605.4 214.8 L605.9 214.5 L606.4 214.2 L606.9 213.7 L607.5 213.8 L608 214 L608.5 213.3 L609 212.1 L609.6 212 L610.1 212.4 L610.6 211.9 L611.1 212 L611.7 211.2 L612.2 209.1 L612.7 211.2 L613.2 210.8 L613.8 209.8 L614.3 209.6 L614.8 209.9 L615.3 209.6 L615.9 208.8 L616.4 208 L616.9 208.2 L617.4 208.1 L618 207.2 L618.5 206.5 L619 206.4 L619.5 206 L620.1 205.7 L620.6 204 L621.1 204.9 L621.6 204.7 L622.2 205.3 L622.7 204.9 L623.2 203.8 L623.7 203.2 L624.3 203.6 L624.8 203.1 L625.3 202.4 L625.8 202.8 L626.4 202.6 L626.9 201.7 L627.4 201.7 L627.9 202.1 L628.5 201.7 L629 200.4 L629.5 199.5 L630 199.5 L630.6 199.2 L631.1 198.9 L631.6 199.5 L632.1 198.4 L632.7 197.7 L633.2 198.4 L633.7 197.9 L634.2 197.7 L634.8 197.7 L635.3 197.6 L635.8 198 L636.3 197.5 L636.9 196 L637.4 195.3 L637.9 194.9 L638.4 195.1 L639 195.3 L639.5 194.9" fill="none" stroke="#4658aa" stroke-width="2.8" stroke-linejoin="round" opacity="0.8"/>
<line x1="477" y1="245" x2="640" y2="245" stroke="#111" stroke-width="1.4" />
<line x1="477" y1="245" x2="422" y2="115.1" stroke="url(#gedge)" stroke-width="1.3" />
<line x1="640" y1="245" x2="585" y2="115.1" stroke="url(#gedge2)" stroke-width="1.1" />
<line x1="558" y1="245" x2="503" y2="115.1" stroke="url(#gedge2)" stroke-width="1.0" />
<line x1="558" y1="155" x2="558" y2="291.6" stroke="#111" stroke-width="1.4" />
<line x1="558.3" y1="155.4" x2="503" y2="25.1" stroke="url(#gtop)" stroke-width="1.4" />
<line x1="396.5" y1="131" x2="451.2" y2="263" stroke="url(#gtarr)" stroke-width="1.3" />
<path d="M453.6 268.8 L448.2 262.6 L451.2 263 L453.6 260.4Z" fill="#000"/>
<text transform="translate(413.8 215.8)" font-size="9.2" text-anchor="middle" fill="#222" font-weight="normal"  stroke="#222" stroke-width="0.2"><tspan font-style="italic">t</tspan></text>
<line x1="477.6" y1="246.5" x2="521.2" y2="349.2" stroke="#111" stroke-width="1.65" stroke-dasharray="3.6 2.8"/>
<line x1="558.6" y1="246.5" x2="602.2" y2="349.2" stroke="#111" stroke-width="1.65" stroke-dasharray="3.6 2.8"/>
<line x1="640.6" y1="246.5" x2="684.2" y2="349.2" stroke="#111" stroke-width="1.65" stroke-dasharray="3.6 2.8"/>
<line x1="521" y1="349.2" x2="684" y2="349.2" stroke="#888" stroke-width="0.9" />
<line x1="602.2" y1="259.3" x2="602.2" y2="395" stroke="#888" stroke-width="0.9" />
<line x1="562.2" y1="347" x2="562.2" y2="349.2" stroke="#666" stroke-width="0.9" />
<line x1="643" y1="347" x2="643" y2="349.2" stroke="#666" stroke-width="0.9" />
<line x1="602.2" y1="293.1" x2="604.6" y2="293.1" stroke="#666" stroke-width="0.9" />
<line x1="602.2" y1="378" x2="604.6" y2="378" stroke="#666" stroke-width="0.9" />
<text transform="translate(608.5 275.6)" font-size="9.6" text-anchor="start" fill="#222" font-weight="normal"  stroke="#222" stroke-width="0.2"><tspan font-style="italic">I</tspan> (pA)</text>
<text transform="translate(609.3 296.1) scale(1.05 1)" font-size="9.0" text-anchor="start" fill="#222" font-weight="normal"  stroke="#222" stroke-width="0.2"><tspan textLength="13.3" lengthAdjust="spacingAndGlyphs">100</tspan></text>
<text transform="translate(609.3 381.7) scale(1.05 1)" font-size="9.0" text-anchor="start" fill="#222" font-weight="normal"  stroke="#222" stroke-width="0.2"><tspan textLength="3.6" lengthAdjust="spacingAndGlyphs">−</tspan>50</text>
<rect x="576" y="300.5" width="15" height="10.5" fill="#fff"/>
<text transform="translate(583.4 308.7) scale(1.05 1)" font-size="9.0" text-anchor="middle" fill="#222" font-weight="normal"  stroke="#222" stroke-width="0.2">Σ =</text>
<text transform="translate(563 342.2) scale(1.05 1)" font-size="9.0" text-anchor="middle" fill="#222" font-weight="normal"  stroke="#222" stroke-width="0.2"><tspan textLength="3.6" lengthAdjust="spacingAndGlyphs">−</tspan><tspan textLength="13.3" lengthAdjust="spacingAndGlyphs">100</tspan></text>
<text transform="translate(642.8 342.2) scale(1.05 1)" font-size="9.0" text-anchor="middle" fill="#222" font-weight="normal"  stroke="#222" stroke-width="0.2"><tspan textLength="13.3" lengthAdjust="spacingAndGlyphs">100</tspan></text>
<text transform="translate(646.8 366)" font-size="9.6" text-anchor="start" fill="#222" font-weight="normal"  stroke="#222" stroke-width="0.2"><tspan font-style="italic">V</tspan> (mV)</text>
<path d="M602.5 349.3 L602.2 348.2 L601 349.9 L600.4 349.9 L600.3 350 L600.4 350.4 L600 351 L599.6 351.4 L599.2 351.1 L598.4 350.8 L598.2 350.6 L597.9 350 L597.7 350.9 L597.3 351.2 L596.5 351.8 L596.1 352.6 L595.7 352.4 L595.5 352.8 L595.1 352.6 L594.9 353.1 L594.6 353.3 L594.3 354.1 L593.8 353.7 L593.3 353.3 L593.2 353.3 L592.5 353.2 L592.3 353.7 L592.3 354.4 L591.4 354.4 L590.6 354.3 L590.1 354.9 L589.7 355.1 L589.3 354.7 L588.7 354.5 L588.2 354.9 L587.9 355.7 L587.8 355.4 L587.7 354.9 L587.3 355.6 L587.2 354.9 L586.5 355.4 L586 355.5 L585.6 356 L584.8 355.5 L584.1 356 L583.6 356.3 L583.7 356.3 L583.3 357.1 L582.5 356.7 L582 357 L581.5 356.7 L580.9 355.9 L580.3 356 L580.3 355.6 L580.4 357.2 L579.7 356.8 L578.7 356.7 L578.3 356.7 L578.5 357.1 L577.9 357.2 L576.9 357.4 L576.7 357.8 L576.5 357.1 L575.9 358.1 L575.4 358.5 L575 358.2 L574.5 359.4 L573.9 359.2 L573.7 358.9 L573.4 359.3 L572.7 358.8 L572.6 359.3 L572.4 358.2 L572.2 358.6 L571.8 359.4 L570.9 358.3 L570.4 357.9 L570.5 360 L570.3 359.5 L569.2 359.4 L568.6 358.4 L568.1 359.6 L567.7 359.1 L567.3 359.2 L566.6 359.8 L566.4 360.2 L566.3 359.4 L566 359.4 L565.4 358.5 L564.8 359.1 L563.7 358.9 L563.2 359.4 L563.2 360 L562.9 360 L562.9 360.1 L562.5 360.1 L561.3 360.4 L560.7 360.5 L560.6 358.9 L560.3 358.5 L559.9 359.8 L558.9 359.9 L558.3 359.9 L558.2 359.5 L557.5 360.1 L557.1 359.7 L557.1 359.2 L556.9 359.6 L556.5 358.9 L555.7 358.7 L555.2 358.9 L554.9 359.3 L554.7 359.9 L554.1 359.3 L552.9 360.3 L553.3 358.8 L553.5 359.5 L552.5 358.8 L552.4 359.7 L551.7 359 L550.6 359.1 L550.3 356.9 L550.1 358 L549.7 359 L549.3 358.5 L548.9 358.5 L548.5 359.1 L548.3 360.1 L547.2 358.8 L546.6 358.9 L546.3 358.4 L545.9 359.2 L545.7 358.6 L545.7 358 L545.2 357.8 L544 359 L543.6 359.3 L543.3 359.3 L543.2 357.9 L543.1 358.2 L542.7 358.8 L542 359.6 L541 359.1 L540.7 358.9 L540.2 359 L539.5 359.9 L539.2 359.8 L538.9 360.2 L538.3 360.4 L537.4 359.7 L537.6 359.3 L537.5 361 L536.7 359.9 L536.5 359.7 L536.2 359.7 L535.5 360 L534.9 360 L535 359.9 L534.9 359.5 L534.3 360.4 L533.9 360.3 L532.9 360.1 L532.2 360.7 L532.1 360.8 L531.2 359.8 L530.9 360 L531 360 L530.6 360.9 L529.6 361.2 L529.1 362.4 L529.1 360.7 L528.6 360.4 L528.2 360 L528 362.2 L527.8 361.9 L527.3 362 L527.2 361.9 L526.7 362 L525.8 361.7 L525.5 362.5 L525.1 362.1 L524.4 362.4 L524.3 362.4 L523.6 363.4 L522.5 363.8 L523.1 364.1 L523.3 364 L522.6 364.3 L522.2 364.5 L521.8 365.4 L521.3 365.2 L520.9 365.4 L520.6 364.8 L520.7 365.8 L520.9 366.1 L520.6 366.4 L520.4 368.2 L520.3 368.5 L519.9 369.1 L520.3 369.1 L520.7 369.3 L520.3 368.7 L520.4 370.5 L520.7 369.2 L521 371 L521 371.6 L521 372.2 L521 372.4 L521.3 373.1 L521.8 373.1 L522 373.7 L521.7 373.7 L522 374 L522.7 374.3 L523.1 374.2 L522.7 375.7 L522.5 374.9 L523.5 375.8 L524 375.9 L524.5 375.8 L525 376.7 L525.5 376.1 L525.8 376.1 L525.7 376.4 L526.4 376.5 L526.9 376.6 L526.9 377.6 L526.9 378.3 L528.3 377.3 L529 378.7 L528.7 379.4 L528.7 378.8 L528.9 379.8 L529.7 379.3 L530.4 379.7 L531 378 L531.1 380.2 L531.5 380.4 L532.3 381 L532.5 381.4 L532.6 380.1 L532.7 380.9 L533 380.6 L533.5 380.8 L534.2 381.3 L534.9 381.3 L535.5 380.6 L536 381 L536.3 380.2 L536.8 381.3 L537.1 380.7 L537.2 379.8 L537.9 379.8 L538.6 379.4 L538.3 380 L538.6 379.6 L539.2 380.4 L540 380.4 L540.9 379.1 L541.5 379 L542.1 379.9 L542.1 379.4 L541.7 379.4 L542 380.9 L543 379.7 L543 379.4 L543.3 379.5 L544.5 379.6 L544.9 380.8 L545.1 380.5 L545.5 379.4 L546.4 379.5 L547.4 380.8 L547.3 379.5 L547.1 380.2 L547.8 380.7 L548.5 380.1 L549 380 L549.5 379.4 L550 379.3 L550.6 379.8 L551.2 379.6 L551.4 379.8 L551.3 379.4 L551.7 379.3 L552.7 379.2 L553.4 379.6 L553.5 378.3 L554 379.1 L554.6 379.1 L555.2 378.7 L555.2 378 L555.2 378.2 L556 376.7 L556.6 378.1 L556.8 378.5 L556.7 377.9 L557.1 378 L557.8 377.8 L558.3 378.7 L559.1 378 L559.7 376.9 L559.6 376.7 L559.7 377.8 L560.5 378.2 L561.3 377.9 L561.7 377.3 L561.9 377.5 L562 377.9 L562.2 377.5 L562.8 377 L563.3 376.7 L563.8 376.2 L563.9 377.4 L564.1 376.2 L564.7 376.4 L565.2 376.7 L565.8 376.1 L566.3 374.4 L566.4 373.4 L566.9 374 L567.1 374.5 L567.4 373.9 L567.9 373.5 L568.2 374.1 L568.6 374.3 L568.6 373 L568.7 374.1 L569.3 374.1 L570.2 372.3 L570.2 371.1 L570.9 372 L571.5 371.5 L571.3 371.6 L572.1 370.7 L572.6 370.4 L572.9 370 L572.8 371.2 L573.3 369.6 L574.3 370.2 L574.3 370.1 L574.7 370.5 L574.8 370 L575.3 368.6 L576 368.5 L576.3 368.8 L576.5 368.6 L576.5 368.7 L577.1 367.7 L577.9 367.5 L578.2 367.9 L578.4 367.5 L578.6 366.6 L579.2 366.7 L580 366.6 L580.2 366.1 L580 366.6 L581 365.3 L581.2 366.1 L581.1 365.1 L581.7 365.2 L582.3 365.5 L582.7 365 L582.4 364.8 L582.5 364.9 L583.3 364.3 L583.9 363.4 L584.1 363.9 L584.3 363.4 L584.5 363.5 L584.6 363 L585.2 362.6 L585.7 361.7 L586.1 361.6 L586.4 361.7 L587.1 362.4 L587.3 361.7 L587.5 360.8 L588.4 359.8 L588.9 360.3 L589.4 360.6 L589.1 360.3 L589.2 359.3 L590 358.5 L590.5 358.1 L590.8 357.6 L590.8 358.4 L591.3 358.1 L591.7 358.6 L591.6 357.8 L592 357.1 L592.4 356.3 L592.5 356.8 L593 355.9 L594 355.1 L594.4 355.4 L594.2 355.1 L594.3 355.5 L594.7 354.4 L594.9 353.5 L595.3 354.1 L595.9 354.6 L596.2 353.5 L596.6 354.4 L596.8 352.7 L597.2 353.3 L597.7 353.2 L598.1 352 L598.3 351.7 L598.7 351.5 L599 350.8 L599.5 351.2 L599.9 351.2 L600.2 349.8 L600.7 350.4 L600.8 349.9 L600.9 350 L601.4 350.1 L602.1 349.5 L602.3 349.9 L602.2 348.4 L602.6 349 L603 348.3 L603.4 347.6 L603.8 347.4 L604.3 346.9 L604.7 346.8 L605.1 346.1 L605.5 346.9 L605.9 346.4 L606.3 344.7 L606.7 344.9 L607.1 344.9 L607.5 344.4 L608 343.5 L608.4 344.3 L608.8 343.3 L609.2 343.7 L609.6 343.4 L610 343.5 L610.4 342.2 L610.8 343 L611.2 341.5 L611.7 342.3 L612.1 341.8 L612.5 341.3 L612.9 340.4 L613.3 341.2 L613.7 340.6 L614.1 339.3 L614.5 338.6 L614.9 339.1 L615.4 338.7 L615.8 339.1 L616.2 338.5 L616.6 338.3 L617 337.7 L617.4 338 L617.8 337.1 L618.2 336.4 L618.6 335.8 L619.1 336.7 L619.5 335.9 L619.9 335.2 L620.3 335.3 L620.7 335.2 L621.1 335.3 L621.5 333.9 L621.9 334.3 L622.3 334.5 L622.8 334.1 L623.2 334 L623.6 334.2 L624 332.7 L624.4 332.6 L624.8 333 L625.2 332.9 L625.6 332.1 L626 331.6 L626.5 331 L626.9 331.4 L627.3 331 L627.7 330.2 L628.1 330.1 L628.5 329.7 L628.9 330 L629.3 329.5 L629.7 329.7 L630.2 329.5 L630.6 328.8 L631 328.9 L631.4 328.6 L631.8 328.5 L632.2 327.4 L632.6 327.6 L633 327.8 L633.4 327.1 L633.9 326.4 L634.3 326.4 L634.7 327 L635.1 325.6 L635.5 325.2 L635.9 325.6 L636.3 324.8 L636.7 324.1 L637.1 323.8 L637.6 324.2 L638 323.7 L638.4 324.3 L638.8 323.2 L639.2 322.6 L639.6 322.6 L640 322.1 L640.4 322.8 L640.8 321.8 L641.3 322.5 L641.7 321.8 L642.1 322.2 L642.5 321 L642.9 321.2 L643.3 319.7 L643.7 320.1 L644.1 319.8 L644.5 320.3 L644.9 319.5 L645.4 319.6 L645.8 318.8 L646.2 318.3 L646.6 318.5 L647 318.8 L647.4 318 L647.8 318.4 L648.2 317.4 L648.6 317.2 L649.1 316.9 L649.5 316.7 L649.9 316.3 L650.3 316.2 L650.7 315.7 L651.1 315.4 L651.5 316.2 L651.9 315.7 L652.3 315 L652.8 314.6 L653.2 314 L653.6 314.6 L654 313.8 L654.4 314.6 L654.8 312.9 L655.2 313.5 L655.6 313.6 L656 312.7 L656.5 313.5 L656.9 312.8 L657.3 312.6 L657.7 311.6 L658.1 312.1 L658.5 311.9 L658.9 311.3 L659.3 311.7 L659.7 310.9 L660.2 309.6 L660.6 310.4 L661 310.8 L661.4 309.6 L661.8 309.9 L662.2 309.1 L662.6 309.1 L663 307.8 L663.4 307.9 L663.9 308.3 L664.3 308 L664.7 307.2 L665.1 308.1 L665.5 307.7 L665.9 306.9 L666.3 306.2 L666.7 307.1 L667.1 306.4 L667.6 306.7 L668 306.6 L668.4 305.8 L668.8 305.6 L669.2 305.8 L669.6 305.2 L670 304.2 L670.4 305.1 L670.8 304.7 L671.3 304.1 L671.7 304.4 L672.1 303.8 L672.5 303.5 L672.9 303.8 L673.3 302.7 L673.7 302.4 L674.1 302.8 L674.5 302.1 L675 302.7 L675.4 301.9 L675.8 301.3 L676.2 301.6 L676.6 300.6 L677 301.9 L677.4 301.1 L677.8 301.2 L678.2 300.9 L678.7 300.6 L679.1 299.8 L679.5 300.4 L679.9 299.7 L680.3 299.3 L680.7 298.6 L681.1 299.7 L681.5 298.9 L681.9 298.6 L682.4 297.8 L682.8 298.8 L683.2 298.1 L683.6 298.4 L684 297.8 L684 299.2 L683.6 298.5 L683.2 298.7 L682.8 299.6 L682.4 300.1 L681.9 300.5 L681.5 300.2 L681.1 300.4 L680.7 300.7 L680.3 300.7 L679.9 300.8 L679.5 301.5 L679.1 301.3 L678.7 301.6 L678.2 302.4 L677.8 302.2 L677.4 302.1 L677 302.8 L676.6 302.7 L676.2 303.2 L675.8 302.8 L675.4 303.1 L675 303 L674.5 304.3 L674.1 304.6 L673.7 304.7 L673.3 304.6 L672.9 304.8 L672.5 304.8 L672.1 305.4 L671.7 305.3 L671.3 305.1 L670.8 306.2 L670.4 306.4 L670 306.4 L669.6 306.4 L669.2 306.5 L668.8 306.9 L668.4 307.2 L668 306.9 L667.6 307.4 L667.1 307.4 L666.7 308.5 L666.3 307.7 L665.9 308 L665.5 308.3 L665.1 309 L664.7 308.8 L664.3 310.1 L663.9 309.9 L663.4 308.9 L663 310.2 L662.6 310.4 L662.2 310 L661.8 310.7 L661.4 311 L661 311 L660.6 311.4 L660.2 311.8 L659.7 311.7 L659.3 312.1 L658.9 311.9 L658.5 312.9 L658.1 312.6 L657.7 313.6 L657.3 314.2 L656.9 314.3 L656.5 313.6 L656 314.2 L655.6 314.2 L655.2 314.7 L654.8 314.4 L654.4 314.6 L654 315.2 L653.6 315.2 L653.2 316.2 L652.8 316.3 L652.3 316.4 L651.9 316.4 L651.5 316.7 L651.1 317.4 L650.7 317.2 L650.3 317.5 L649.9 318.5 L649.5 318 L649.1 318.1 L648.6 318.4 L648.2 319.2 L647.8 318.7 L647.4 319 L647 319.9 L646.6 320.2 L646.2 320.5 L645.8 319.9 L645.4 320.6 L644.9 320.5 L644.5 321.1 L644.1 320.6 L643.7 321.4 L643.3 322.2 L642.9 322.1 L642.5 321.3 L642.1 322.9 L641.7 322.9 L641.3 322.9 L640.8 323.3 L640.4 323.4 L640 324.2 L639.6 324 L639.2 323.7 L638.8 324.2 L638.4 325.5 L638 325.5 L637.6 325.7 L637.1 325.3 L636.7 326.1 L636.3 326.6 L635.9 326.4 L635.5 327 L635.1 327.4 L634.7 327.6 L634.3 327.7 L633.9 327.9 L633.4 327.5 L633 328.2 L632.6 328.9 L632.2 329.5 L631.8 329.2 L631.4 329.8 L631 329.6 L630.6 329.5 L630.2 330.3 L629.7 330.6 L629.3 330.3 L628.9 330.6 L628.5 331.3 L628.1 331.3 L627.7 332 L627.3 331.5 L626.9 332.7 L626.5 332.4 L626 333 L625.6 332.6 L625.2 333.8 L624.8 333.8 L624.4 334.9 L624 333.6 L623.6 333.8 L623.2 335.1 L622.8 335.5 L622.3 334.7 L621.9 335.9 L621.5 336.4 L621.1 336.8 L620.7 336.6 L620.3 336.2 L619.9 336.3 L619.5 338.2 L619.1 337.8 L618.6 338.4 L618.2 338.1 L617.8 338.4 L617.4 338.7 L617 338.7 L616.6 339.3 L616.2 339.2 L615.8 339.8 L615.4 340.7 L614.9 340.6 L614.5 340.6 L614.1 341.8 L613.7 342 L613.3 341.7 L612.9 341.3 L612.5 342.8 L612.1 343.1 L611.7 342.7 L611.2 343.8 L610.8 343.2 L610.4 343.7 L610 343.9 L609.6 344.5 L609.2 344.6 L608.8 345.6 L608.4 345.1 L608 345.8 L607.5 345.9 L607.1 346.3 L606.7 346.1 L606.3 346.8 L605.9 347.6 L605.5 347.7 L605.1 347.2 L604.7 347.8 L604.3 347.9 L603.8 348.3 L603.4 348.6 L603 348.7 L602.6 349.7 L602.2 350.2" fill="none" stroke="#3c4da3" stroke-width="2.1" stroke-linejoin="round" stroke-linecap="round"/>
<circle cx="444.1" cy="354.0" r="42.2" fill="#cbcbcb" stroke="#555" stroke-width="0.8"/>
<circle cx="473.5" cy="349.4" r="1.9" fill="#0b9a0b"/>
<path id="sparc" d="M404.2 332.3 A45.4 45.4 0 0 1 456.1 310.2" fill="none"/>
<text font-size="10" stroke="#222" stroke-width="0.2" fill="#222"><textPath href="#sparc" startOffset="0" textLength="52.5" lengthAdjust="spacingAndGlyphs">Single pore</textPath></text>
</g>
<g id="panel-ac">
<text transform="translate(-1.3 11) scale(1.08 1)" font-size="15.2" text-anchor="start" fill="#000" font-weight="bold" stroke="#000" stroke-width="0.5">a</text>
<text transform="translate(394.8 11)" font-size="15.2" text-anchor="start" fill="#000" font-weight="bold" stroke="#000" stroke-width="0.5">b</text>
<text transform="translate(-1.2 132) scale(1.1 1)" font-size="15.0" text-anchor="start" fill="#000" font-weight="bold" stroke="#000" stroke-width="0.5">c</text>
<rect x="42.6" y="17.6" width="145.70000000000002" height="73.19999999999999" fill="none" stroke="#777" stroke-width="0.9"/>
<line x1="40" y1="23.3" x2="42.6" y2="23.3" stroke="#777" stroke-width="0.9" />
<line x1="40" y1="54.2" x2="42.6" y2="54.2" stroke="#777" stroke-width="0.9" />
<line x1="40" y1="85.2" x2="42.6" y2="85.2" stroke="#777" stroke-width="0.9" />
<line x1="42.6" y1="90.8" x2="42.6" y2="93" stroke="#777" stroke-width="0.9" />
<line x1="188.3" y1="90.8" x2="188.3" y2="93" stroke="#777" stroke-width="0.9" />
<path d="M42.6 55 L44.4 27.2 L48.1 84.3 L51.7 27.2 L55.3 84.3 L59 27.2 L62.6 84.3 L66.3 27.2 L69.9 84.3 L73.6 27.2 L77.2 84.3 L80.8 27.2 L84.5 84.3 L88.1 27.2 L91.8 84.3 L95.4 27.2 L99.1 84.3 L102.7 27.2 L106.3 84.3 L110 27.2 L113.6 84.3 L117.3 27.2 L120.9 84.3 L124.6 27.2 L128.2 84.3 L131.8 27.2 L135.5 84.3 L139.1 27.2 L142.8 84.3 L146.4 27.2 L150.1 84.3 L153.7 27.2 L157.3 84.3 L161 27.2 L164.6 84.3 L168.3 27.2 L171.9 84.3 L175.6 27.2 L179.2 84.3 L182.8 27.2 L186.5 84.3 L188.3 55" fill="none" stroke="#0b970b" stroke-width="1.3" stroke-linejoin="round"/>
<text transform="translate(35.3 26.1) scale(1.065 1)" font-size="9.7" text-anchor="end" fill="#222" font-weight="normal"  stroke="#222" stroke-width="0.2"><tspan textLength="16" lengthAdjust="spacingAndGlyphs">600</tspan></text>
<text transform="translate(35.3 57) scale(1.065 1)" font-size="9.7" text-anchor="end" fill="#222" font-weight="normal"  stroke="#222" stroke-width="0.2">0</text>
<text transform="translate(35.3 88) scale(1.12 1)" font-size="9.2" text-anchor="end" fill="#222" font-weight="normal"  stroke="#222" stroke-width="0.2"><tspan textLength="3.7" lengthAdjust="spacingAndGlyphs">−</tspan><tspan textLength="14.4" lengthAdjust="spacingAndGlyphs">600</tspan></text>
<text transform="translate(42.8 105) scale(1.065 1)" font-size="9.7" text-anchor="middle" fill="#222" font-weight="normal"  stroke="#222" stroke-width="0.2">0</text>
<text transform="translate(187.5 105) scale(1.065 1)" font-size="9.7" text-anchor="middle" fill="#222" font-weight="normal"  stroke="#222" stroke-width="0.2"><tspan textLength="8.8" lengthAdjust="spacingAndGlyphs">10</tspan></text>
<text transform="translate(115.5 105.5) scale(1.005 1)" font-size="10.5" text-anchor="middle" fill="#222" font-weight="normal"  stroke="#222" stroke-width="0.2"><tspan font-style="italic">t</tspan> (s)</text>
<text transform="translate(115.5 14.4) scale(1.045 1)" font-size="10.8" text-anchor="middle" fill="#222" font-weight="normal"  stroke="#222" stroke-width="0.2">Triangular forcing</text>
<text transform="translate(8.2 55) rotate(-90) scale(1.1 1)" font-size="9.8" text-anchor="middle" fill="#222" font-weight="normal"  stroke="#222" stroke-width="0.2"><tspan font-style="italic">I</tspan> (pA)</text>
<line x1="203.3" y1="53.7" x2="227" y2="53.7" stroke="#000" stroke-width="1.6" />
<path d="M231.8 53.7 L224.6 50.4 L226.3 53.7 L224.6 57Z" fill="#000"/>
<line x1="249.7" y1="54.1" x2="377.3" y2="54.1" stroke="#777" stroke-width="0.9" />
<line x1="313.2" y1="18.8" x2="313.2" y2="96.7" stroke="#777" stroke-width="0.9" />
<line x1="281.5" y1="52.1" x2="281.5" y2="54.1" stroke="#777" stroke-width="0.9" />
<line x1="344.6" y1="52.1" x2="344.6" y2="54.1" stroke="#777" stroke-width="0.9" />
<line x1="311" y1="18.8" x2="315.4" y2="18.8" stroke="#777" stroke-width="0.9" />
<line x1="311" y1="90" x2="315.4" y2="90" stroke="#777" stroke-width="0.9" />
<path d="M248.3 95 L248.8 94.6 L249.3 94 L249.8 93.6 L250.3 93.2 L250.8 93 L251.3 93.3 L251.8 92.8 L252.3 92 L252.8 91.9 L253.3 91.8 L253.8 91.4 L254.2 90.7 L254.7 90.4 L255.2 90.4 L255.7 89.8 L256.2 89.2 L256.7 88.7 L257.2 88.2 L257.7 87.8 L258.2 87.8 L258.7 87.6 L259.2 87.4 L259.7 87.4 L260.2 87 L260.7 86 L261.2 85.6 L261.7 85.9 L262.2 85.7 L262.7 85 L263.2 84.5 L263.7 84.4 L264.2 84 L264.7 84.1 L265.2 83.8 L265.7 83.2 L266.1 83.3 L266.6 82.9 L267.1 82.3 L267.6 82.1 L268.1 81.9 L268.6 81.2 L269.1 80.9 L269.6 81.2 L270.1 80.5 L270.6 80.1 L271.1 80.1 L271.6 79.5 L272.1 79.6 L272.6 79.6 L273.1 78.5 L273.6 78 L274.1 78.2 L274.6 77.8 L275.1 77.5 L275.6 77.2 L276.1 76.9 L276.6 76.9 L277.1 76.3 L277.5 75.7 L278 75.4 L278.5 75.1 L279 74.6 L279.5 74.1 L280 74 L280.5 74.1 L281 74.1 L281.5 73.3 L282 72.5 L282.5 72.6 L283 72 L283.5 71.4 L284 71.6 L284.5 71.7 L285 71.6 L285.5 70.9 L286 70.3 L286.5 70 L287 70.2 L287.5 69.9 L288 69.1 L288.5 69 L289 68.7 L289.4 68.3 L289.9 67.7 L290.4 67.5 L290.9 67.3 L291.4 67.3 L291.9 67.3 L292.4 66.7 L292.9 66.4 L293.4 66 L293.9 65.8 L294.4 65.6 L294.9 65.2 L295.4 64.5 L295.9 64.2 L296.4 63.8 L296.9 62.9 L297.4 62.9 L297.9 62.9 L298.4 62.7 L298.9 63.2 L299.4 62.7 L299.9 61.7 L300.4 61.6 L300.8 61.6 L301.3 61.2 L301.8 60.7 L302.3 60.6 L302.8 60.5 L303.3 59.8 L303.8 59.4 L304.3 59.3 L304.8 58.8 L305.3 58.6 L305.8 58.3 L306.3 58.2 L306.8 58.2 L307.3 57.6 L307.8 57.2 L308.3 56.8 L308.8 56.2 L309.3 55.6 L309.8 55.9 L310.3 55.4 L310.8 55.2 L311.3 55 L311.8 54.7 L312.3 54.6 L312.7 54.3 L313.2 54.3 L313.7 53.4 L314.2 53.4 L314.7 53.9 L315.2 53.3 L315.7 52.5 L316.2 52.2 L316.7 51.8 L317.2 51.8 L317.7 51.6 L318.2 51 L318.7 50.7 L319.2 50.3 L319.7 49.9 L320.2 50 L320.7 50 L321.2 49.7 L321.7 49.4 L322.2 48.8 L322.7 48.4 L323.2 48.1 L323.7 47.9 L324.2 47.7 L324.6 47.3 L325.1 46.8 L325.6 46.4 L326.1 46.9 L326.6 46.6 L327.1 45.7 L327.6 45.6 L328.1 46 L328.6 45.3 L329.1 44.6 L329.6 44.5 L330.1 43.8 L330.6 43.9 L331.1 44 L331.6 43.6 L332.1 43.2 L332.6 43 L333.1 42.7 L333.6 42.3 L334.1 41.9 L334.6 41.4 L335.1 41.7 L335.6 41.6 L336 41.1 L336.5 40.9 L337 40.5 L337.5 40.1 L338 40.1 L338.5 39.8 L339 39.4 L339.5 39.2 L340 39.2 L340.5 39.1 L341 38.7 L341.5 38.1 L342 37.4 L342.5 37.5 L343 37.8 L343.5 37.3 L344 36.9 L344.5 36.8 L345 36.6 L345.5 36.4 L346 35.8 L346.5 35.7 L347 35.2 L347.5 34.8 L347.9 35 L348.4 34.7 L348.9 34.8 L349.4 34.7 L349.9 33.7 L350.4 32.6 L350.9 32.8 L351.4 32.7 L351.9 32.3 L352.4 32.5 L352.9 31.8 L353.4 30.8 L353.9 31 L354.4 31.3 L354.9 30.9 L355.4 30.6 L355.9 30.2 L356.4 29.6 L356.9 29.5 L357.4 29.4 L357.9 28.7 L358.4 28.9 L358.9 29 L359.3 28.7 L359.8 28.2 L360.3 27.7 L360.8 27.4 L361.3 27.1 L361.8 27.2 L362.3 26.9 L362.8 26.7 L363.3 26.7 L363.8 26.9 L364.3 26.2 L364.8 25.7 L365.3 25.7 L365.8 25.3 L366.3 24.7 L366.8 24.3 L367.3 24.6 L367.8 24.4 L368.3 24 L368.8 23.7 L369.3 23.7 L369.8 23.6 L370.3 22.5 L370.8 22.1 L371.2 21.9 L371.7 21 L372.2 21.1 L372.7 22 L373.2 21.9 L373.7 21 L374.2 20.5 L374.7 20.8 L375.2 20.9 L375.7 20.3 L376.2 20 L376.7 19.8" fill="none" stroke="#0b970b" stroke-width="2.8" stroke-linecap="butt" stroke-linejoin="round"/>
<text transform="translate(306.3 22) scale(1.065 1)" font-size="9.7" text-anchor="end" fill="#222" font-weight="normal"  stroke="#222" stroke-width="0.2"><tspan textLength="14.1" lengthAdjust="spacingAndGlyphs">100</tspan></text>
<text transform="translate(306.5 93.2) scale(1.065 1)" font-size="9.7" text-anchor="end" fill="#222" font-weight="normal"  stroke="#222" stroke-width="0.2"><tspan textLength="3.9" lengthAdjust="spacingAndGlyphs">−</tspan><tspan textLength="14.1" lengthAdjust="spacingAndGlyphs">100</tspan></text>
<text transform="translate(317.3 26.5) scale(1.005 1)" font-size="10.5" text-anchor="start" fill="#222" font-weight="normal"  stroke="#222" stroke-width="0.2"><tspan font-style="italic">I</tspan> (pA)</text>
<text transform="translate(253 33.2) scale(1.005 1)" font-size="10.5" text-anchor="start" fill="#222" font-weight="normal"  stroke="#222" stroke-width="0.2">Open pore</text>
<text transform="translate(253 45.7) scale(1.005 1)" font-size="10.5" text-anchor="start" fill="#222" font-weight="normal"  stroke="#222" stroke-width="0.2"><tspan font-style="italic">IV</tspan> curve</text>
<text transform="translate(347.2 47) scale(1.005 1)" font-size="10.5" text-anchor="start" fill="#222" font-weight="normal"  stroke="#222" stroke-width="0.2"><tspan font-style="italic">V</tspan> (mV)</text>
<text transform="translate(281.2 67.8) scale(1.065 1)" font-size="9.7" text-anchor="middle" fill="#222" font-weight="normal"  stroke="#222" stroke-width="0.2"><tspan textLength="3.9" lengthAdjust="spacingAndGlyphs">−</tspan><tspan textLength="14.1" lengthAdjust="spacingAndGlyphs">100</tspan></text>
<text transform="translate(344.6 67.8) scale(1.065 1)" font-size="9.7" text-anchor="middle" fill="#222" font-weight="normal"  stroke="#222" stroke-width="0.2"><tspan textLength="14.1" lengthAdjust="spacingAndGlyphs">100</tspan></text>
<line x1="25" y1="297.5" x2="381.2" y2="297.5" stroke="#999" stroke-width="1.2" />
<line x1="203" y1="129" x2="203" y2="393.6" stroke="#999" stroke-width="1.2" />
<line x1="113.6" y1="295" x2="113.6" y2="300" stroke="#666" stroke-width="0.9" />
<line x1="291.9" y1="295" x2="291.9" y2="300" stroke="#666" stroke-width="0.9" />
<line x1="200.5" y1="213.2" x2="205.5" y2="213.2" stroke="#666" stroke-width="0.9" />
<line x1="200.5" y1="381.6" x2="205.5" y2="381.6" stroke="#666" stroke-width="0.9" />
<text transform="translate(195.3 216.3) scale(1.065 1)" font-size="9.7" text-anchor="end" fill="#222" font-weight="normal"  stroke="#222" stroke-width="0.2">50</text>
<text transform="translate(195.3 384.7) scale(1.065 1)" font-size="9.7" text-anchor="end" fill="#222" font-weight="normal"  stroke="#222" stroke-width="0.2"><tspan textLength="3.9" lengthAdjust="spacingAndGlyphs">−</tspan>50</text>
<text transform="translate(113.4 288.6) scale(1.065 1)" font-size="9.7" text-anchor="middle" fill="#222" font-weight="normal"  stroke="#222" stroke-width="0.2"><tspan textLength="3.9" lengthAdjust="spacingAndGlyphs">−</tspan><tspan textLength="14.1" lengthAdjust="spacingAndGlyphs">100</tspan></text>
<text transform="translate(291.5 287.6) scale(1.065 1)" font-size="9.7" text-anchor="middle" fill="#222" font-weight="normal"  stroke="#222" stroke-width="0.2"><tspan textLength="14.1" lengthAdjust="spacingAndGlyphs">100</tspan></text>
<text transform="translate(343.3 287.8) scale(1.005 1)" font-size="10.5" text-anchor="start" fill="#222" font-weight="normal"  stroke="#222" stroke-width="0.2"><tspan font-style="italic">V</tspan> (mV)</text>
<text transform="translate(209.1 147.2) scale(1.005 1)" font-size="10.5" text-anchor="start" fill="#222" font-weight="normal"  stroke="#222" stroke-width="0.2"><tspan font-style="italic">I</tspan> (pA)</text>
<text transform="translate(208.6 310.7) scale(1.065 1)" font-size="9.7" text-anchor="middle" fill="#222" font-weight="normal"  stroke="#222" stroke-width="0.2">0</text>
<rect x="43.8" y="122" width="64.1" height="62.9" fill="none" stroke="#111" stroke-width="1.2" stroke-dasharray="3.3 2.5"/>
<path d="M97.5 153.6 L97.5 153.9 L97.6 154.3 L97.9 154.6 L98.5 155 L99 155.3 L99.4 155.7 L99.8 156.1 L99.9 156.5 L100 156.9 L100 157.3 L100 157.6 L99.8 158 L99.7 158.3 L99.5 158.6 L99.1 158.9 L98.5 159.2 L97.7 159.3 L96.8 159.4 L95.9 159.5 L95.1 159.6 L94.5 159.7 L94.4 160 L94.4 160.3 L94.5 160.6 L94.8 161.1 L95.1 161.5 L95 161.8 L94.9 162.1 L94.9 162.5 L94.8 162.8 L94.6 163.1 L94.5 163.4 L94.3 163.6 L94.1 163.9 L93.9 164.1 L93.7 164.4 L93.5 164.6 L93.5 165 L93.3 165.2 L93.1 165.5 L93 165.8 L92.9 166.1 L92.7 166.3 L92.6 166.6 L92.4 166.9 L92.3 167.2 L92 167.4 L91.9 167.7 L91.6 168 L91.4 168.2 L91.2 168.4 L91 168.7 L90.8 168.9 L90.6 169.1 L90.3 169.3 L90.1 169.6 L89.9 169.8 L89.6 170 L89.4 170.3 L89.2 170.5 L88.9 170.7 L88.7 171 L88.7 171.5 L88.8 172.1 L88.8 172.8 L88.8 173.5 L88.7 173.9 L88.5 174.3 L88.3 174.8 L88.1 175 L87.7 175.1 L87.4 175.3 L87 175.4 L86.6 175.3 L86.1 175.2 L85.6 174.9 L85 174.4 L84.3 173.7 L83.6 172.9 L83.1 172.4 L82.7 172.2 L82.4 172.2 L82.2 172.6 L82 173 L81.8 173.4 L81.6 173.7 L81.3 173.9 L81 174 L80.7 174.1 L80.4 174.2 L80.1 174.1 L79.7 174.2 L79.4 174.2 L79.1 174.3 L78.8 174.3 L78.5 174.5 L78.2 174.6 L77.9 174.6 L77.6 174.8 L77.3 174.9 L77 175 L76.7 174.9 L76.3 174.9 L76 175 L75.7 174.9 L75.4 174.9 L75.1 174.9 L74.7 175 L74.4 175 L74.1 175 L73.8 175 L73.5 175 L73.1 175 L72.8 174.9 L72.5 174.9 L72.2 175 L71.8 174.9 L71.5 174.7 L71.2 174.7 L70.9 174.8 L70.6 174.6 L70.2 174.7 L69.8 175.1 L69.3 175.4 L68.9 175.7 L68.4 176.1 L67.9 176.4 L67.5 176.5 L67.1 176.6 L66.7 176.5 L66.4 176.3 L66.1 176.1 L65.8 175.9 L65.5 175.6 L65.4 175.1 L65.2 174.5 L65.2 173.8 L65.3 172.9 L65.5 171.9 L65.5 171.2 L65.4 170.8 L65.2 170.5 L64.9 170.5 L64.5 170.6 L64.1 170.6 L63.7 170.6 L63.4 170.5 L63.2 170.3 L63 170.1 L62.7 169.9 L62.4 169.8 L62.2 169.6 L61.9 169.4 L61.7 169.2 L61.4 169 L61.2 168.8 L60.9 168.6 L60.7 168.4 L60.3 168.3 L60.1 168.1 L59.9 167.9 L59.5 167.7 L59.3 167.5 L59.1 167.3 L58.9 167 L58.7 166.7 L58.6 166.4 L58.4 166.2 L58.2 165.9 L58.1 165.6 L57.8 165.4 L57.7 165.1 L57.5 164.8 L57.3 164.6 L57 164.4 L56.8 164.1 L56.6 163.9 L56.4 163.6 L56.1 163.4 L55.9 163.1 L55.9 162.8 L55.7 162.5 L55.2 162.4 L54.8 162.2 L54.2 162 L53.6 161.9 L53 161.7 L52.6 161.5 L52.4 161.2 L52.2 160.8 L52.2 160.5 L52.1 160.1 L52.1 159.7 L52 159.4 L52.3 158.9 L52.5 158.5 L53 158.1 L54 157.5 L54.9 157.1 L55.5 156.6 L55.9 156.3 L56.1 156 L55.7 155.7 L55.5 155.4 L55.2 155.1 L54.9 154.8 L54.8 154.5 L54.9 154.2 L54.8 153.9 L54.8 153.6 L54.8 153.3 L54.8 153 L54.8 152.7 L54.8 152.3 L54.8 152 L54.7 151.7 L54.6 151.4 L54.7 151.1 L54.7 150.8 L54.7 150.4 L54.8 150.1 L54.9 149.8 L54.9 149.5 L55 149.2 L55.1 148.9 L55.1 148.6 L55 148.2 L55.2 147.9 L55.3 147.6 L55.3 147.3 L55.4 147 L55.5 146.7 L55.6 146.4 L55.6 146 L55.7 145.8 L55.8 145.5 L55.9 145.1 L56 144.8 L56.2 144.5 L56.1 144.2 L56.3 143.9 L56.4 143.6 L56.2 143.1 L55.8 142.5 L55.6 142 L55.4 141.4 L55.2 140.9 L55.2 140.5 L55.2 140.1 L55.3 139.7 L55.6 139.4 L55.9 139.2 L56.1 138.9 L56.4 138.7 L57 138.7 L57.6 138.7 L58.2 138.8 L59.3 139.2 L60.3 139.7 L61 139.9 L61.4 139.9 L61.7 139.8 L61.7 139.4 L61.7 138.9 L61.7 138.5 L61.8 138.2 L61.9 137.9 L62.3 137.7 L62.4 137.4 L62.6 137.2 L62.9 137 L63.1 136.8 L63.2 136.4 L63.6 136.5 L63.8 136.2 L64 135.9 L64.3 135.8 L64.6 135.6 L64.8 135.3 L65.1 135.2 L65.4 135.1 L65.6 134.9 L65.9 134.7 L66.2 134.7 L66.5 134.5 L66.8 134.4 L67.1 134.2 L67.3 134 L67.6 133.7 L67.8 133.6 L68.1 133.4 L68.4 133.3 L68.7 133.2 L69 133 L69.3 132.9 L69.6 132.8 L69.9 132.7 L70.2 132.6 L70.6 132.7 L70.9 132.5 L71.2 132.4 L71.5 132.1 L71.7 131.7 L72 131.1 L72.2 130.4 L72.5 129.9 L72.8 129.5 L73.1 129.2 L73.5 129.1 L73.9 129.1 L74.2 129.1 L74.6 129.2 L75 129.2 L75.3 129.5 L75.7 129.7 L76.1 130.1 L76.4 130.8 L76.7 131.8 L77 132.7 L77.2 133.5 L77.5 133.9 L77.8 134 L78.1 133.8 L78.4 133.6 L78.8 133.3 L79.1 133 L79.5 132.9 L79.8 132.9 L80.1 133 L80.4 133.1 L80.7 133.2 L81 133.2 L81.3 133.2 L81.6 133.3 L81.9 133.4 L82.2 133.5 L82.5 133.6 L82.8 133.9 L83.1 133.8 L83.4 133.9 L83.8 133.9 L84 134.1 L84.4 134.2 L84.7 134.3 L85 134.4 L85.2 134.5 L85.5 134.7 L85.8 134.8 L86.1 134.9 L86.4 135 L86.7 135.2 L87.1 135.2 L87.3 135.4 L87.6 135.6 L87.8 135.8 L88.1 135.9 L88.4 136.1 L88.7 136.2 L89 136.4 L89.3 136.6 L89.6 136.7 L89.9 136.9 L90.3 136.8 L91 136.6 L91.6 136.4 L92.2 136.3 L92.6 136.4 L93.1 136.4 L93.5 136.5 L93.8 136.8 L93.8 137.3 L94.2 137.5 L94.4 137.7 L94.4 138.2 L94.5 138.6 L94.4 139.1 L94.1 139.8 L93.5 140.7 L93 141.4 L92.6 142.1 L92.4 142.6 L92.5 142.9 L92.8 143 L93.2 143.1 L93.6 143.3 L94 143.4 L94.3 143.6 L94.4 143.9 L94.5 144.2 L94.7 144.5 L94.7 144.8 L94.8 145.1 L95 145.4 L95.1 145.7 L95.3 145.9 L95.4 146.2 L95.5 146.5 L95.6 146.8 L95.9 147 L95.9 147.4 L96.1 147.6 L96.3 147.9 L96.4 148.2 L96.5 148.5 L96.6 148.8 L96.5 149.2 L96.6 149.5 L96.6 149.8 L96.6 150.1 L96.7 150.4 L96.9 150.7 L97 151 L97.1 151.4 L97.2 151.7 L97.3 152 L97.3 152.3 L97.3 152.6 L97.4 153 L97.4 153.3Z" fill="#0a8c0a" stroke="#111" stroke-width="1.1" stroke-linejoin="round"/>
<path d="M77.5 133.9 Q77.3 136.2 78.6 138.9" fill="none" stroke="#111" stroke-width="0.9" stroke-linecap="round"/>
<path d="M92.2 142.7 Q90.3 144 89 146.7" fill="none" stroke="#111" stroke-width="0.9" stroke-linecap="round"/>
<path d="M94.5 159.8 Q92.3 159 89.4 159.7" fill="none" stroke="#111" stroke-width="0.9" stroke-linecap="round"/>
<path d="M82.6 172.1 Q81.8 170 79.5 168.1" fill="none" stroke="#111" stroke-width="0.9" stroke-linecap="round"/>
<path d="M65.5 170.6 Q66.7 168.6 66.7 165.6" fill="none" stroke="#111" stroke-width="0.9" stroke-linecap="round"/>
<path d="M56.1 156.2 Q58.4 155.9 60.7 154.1" fill="none" stroke="#111" stroke-width="0.9" stroke-linecap="round"/>
<path d="M61.4 139.9 Q63.1 141.5 66 142.2" fill="none" stroke="#111" stroke-width="0.9" stroke-linecap="round"/>
<path d="M81.5 155.3 L82.7 156.6 L84.3 156.8 L86.2 155.1 L84.3 156.8 L83.5 159.2 L81.6 159.9" fill="none" stroke="#111" stroke-width="1.0" stroke-linecap="round" stroke-linejoin="round"/>
<path d="M78 159.1 L77.8 160.9 L78.6 162.3 L81.1 162.7 L78.6 162.3 L76.2 163.2 L74.4 162.1" fill="none" stroke="#111" stroke-width="1.0" stroke-linecap="round" stroke-linejoin="round"/>
<path d="M72.8 158.9 L71.3 159.8 L70.7 161.3 L71.9 163.5 L70.7 161.3 L68.5 160 L68.3 157.9" fill="none" stroke="#111" stroke-width="1.0" stroke-linecap="round" stroke-linejoin="round"/>
<path d="M69.8 154.6 L68.1 154 L66.5 154.5 L65.6 156.8 L66.5 154.5 L66.2 152 L67.7 150.5" fill="none" stroke="#111" stroke-width="1.0" stroke-linecap="round" stroke-linejoin="round"/>
<path d="M71.2 149.6 L70.7 147.9 L69.3 147 L66.9 147.7 L69.3 147 L71.1 145.2 L73.1 145.4" fill="none" stroke="#111" stroke-width="1.0" stroke-linecap="round" stroke-linejoin="round"/>
<path d="M76 147.6 L77 146.1 L76.9 144.5 L74.8 143 L76.9 144.5 L79.4 144.7 L80.5 146.5" fill="none" stroke="#111" stroke-width="1.0" stroke-linecap="round" stroke-linejoin="round"/>
<path d="M80.6 150.1 L82.4 150 L83.6 148.8 L83.4 146.3 L83.6 148.8 L84.9 151 L84.3 152.9" fill="none" stroke="#111" stroke-width="1.0" stroke-linecap="round" stroke-linejoin="round"/>
<circle cx="75.7" cy="153.6" r="1.6" fill="#fff" stroke="#111" stroke-width="0.8"/>
<path d="M189.9 153.6 L190 153.9 L190.2 154.3 L190.5 154.6 L191.2 155 L191.6 155.3 L192 155.7 L192.3 156.1 L192.5 156.5 L192.6 156.9 L192.7 157.3 L192.5 157.6 L192.5 158 L192.3 158.3 L192.1 158.7 L191.7 158.9 L191.2 159.2 L190.4 159.4 L189.5 159.4 L188.5 159.5 L187.7 159.6 L187.3 159.8 L187.3 160.1 L187.2 160.4 L187.3 160.7 L187.4 161.1 L187.5 161.5 L187.3 161.7 L187.4 162.1 L187.4 162.4 L187.4 162.8 L187.2 163.1 L187.1 163.4 L187 163.6 L186.7 163.9 L186.6 164.1 L186.4 164.4 L186.4 164.8 L186.2 165 L186 165.3 L185.8 165.6 L185.7 165.9 L185.4 166.1 L185.4 166.4 L185.1 166.6 L185 167 L184.9 167.2 L184.6 167.4 L184.4 167.6 L184.3 168 L184.1 168.2 L183.9 168.5 L183.8 168.9 L183.6 169.1 L183.3 169.3 L183.1 169.5 L182.8 169.7 L182.5 169.9 L182.3 170.1 L182.1 170.3 L181.9 170.6 L181.6 170.8 L181.3 171 L181.2 171.4 L181.3 172 L181.3 172.7 L181.4 173.4 L181.3 173.9 L181.2 174.5 L180.9 174.8 L180.7 175 L180.2 175 L179.9 175.1 L179.6 175.4 L179.2 175.4 L178.7 175.3 L178.2 175.1 L177.6 174.6 L176.9 173.8 L176.3 173 L175.7 172.4 L175.3 172.2 L175 172.3 L174.8 172.5 L174.6 172.9 L174.4 173.3 L174.2 173.6 L173.9 173.8 L173.6 173.9 L173.3 173.9 L173 174.1 L172.7 174.1 L172.4 174.2 L172 174.2 L171.7 174.3 L171.4 174.3 L171.1 174.3 L170.8 174.4 L170.5 174.5 L170.2 174.7 L169.9 174.8 L169.6 175.1 L169.3 175.1 L168.9 175.1 L168.6 175.2 L168.3 175.1 L168 175.1 L167.7 175 L167.3 175.1 L167 174.8 L166.7 174.9 L166.4 174.9 L166.1 174.9 L165.7 174.9 L165.4 175.1 L165.1 175 L164.8 175 L164.4 175 L164.1 174.8 L163.8 174.8 L163.5 174.8 L163.1 174.8 L162.8 174.8 L162.4 175 L162 175.3 L161.5 175.7 L161 176 L160.5 176.3 L160.1 176.6 L159.7 176.6 L159.3 176.6 L158.9 176.5 L158.6 176.4 L158.3 176.1 L158 175.8 L157.8 175.3 L157.7 174.7 L157.8 173.8 L157.9 172.8 L158.1 171.8 L158.2 171.1 L158.1 170.7 L157.9 170.5 L157.5 170.5 L157.1 170.6 L156.6 170.8 L156.3 170.6 L155.9 170.6 L155.8 170.3 L155.5 170.1 L155.3 169.9 L155 169.8 L154.7 169.6 L154.4 169.5 L154.1 169.3 L153.9 169.1 L153.7 168.9 L153.5 168.6 L153.3 168.4 L153.2 168.1 L152.9 167.9 L152.6 167.7 L152.4 167.5 L152.1 167.3 L151.7 167.2 L151.6 167 L151.4 166.7 L151.1 166.5 L151 166.2 L150.8 165.9 L150.6 165.7 L150.3 165.5 L150.2 165.1 L150.1 164.9 L149.9 164.6 L149.7 164.3 L149.5 164.1 L149.3 163.8 L149.1 163.5 L148.9 163.3 L148.8 163 L148.6 162.7 L148.2 162.5 L147.8 162.4 L147.1 162.3 L146.6 162.1 L146.1 161.9 L145.6 161.7 L145.2 161.5 L145 161.2 L144.7 160.9 L144.5 160.5 L144.5 160.2 L144.5 159.8 L144.5 159.4 L144.8 159 L145.3 158.5 L145.9 158 L146.7 157.5 L147.7 157 L148.2 156.6 L148.5 156.3 L148.5 156 L148.5 155.7 L148.2 155.4 L147.9 155.1 L147.7 154.8 L147.4 154.5 L147.3 154.2 L147.2 153.9 L147.2 153.6 L147.2 153.3 L147.2 153 L147.1 152.7 L147.1 152.3 L147.2 152 L147.1 151.7 L147 151.4 L147.1 151.1 L147.3 150.8 L147.2 150.4 L147.4 150.1 L147.5 149.8 L147.6 149.5 L147.4 149.2 L147.6 148.9 L147.7 148.6 L147.5 148.2 L147.4 147.8 L147.5 147.5 L147.5 147.2 L147.5 146.9 L147.9 146.6 L148.1 146.4 L148.3 146.1 L148.4 145.8 L148.6 145.5 L148.6 145.2 L148.7 144.9 L148.7 144.5 L148.7 144.2 L148.8 143.8 L148.9 143.5 L148.9 143.2 L148.6 142.6 L148.3 142 L148 141.5 L147.8 141 L147.8 140.5 L147.8 140.1 L148 139.8 L148.3 139.5 L148.5 139.2 L148.7 138.9 L149 138.7 L149.5 138.6 L150 138.6 L150.9 138.9 L151.9 139.3 L152.9 139.7 L153.5 139.9 L154 140 L154.2 139.7 L154.4 139.5 L154.4 139.1 L154.5 138.7 L154.6 138.4 L154.7 138.1 L154.9 137.8 L155 137.4 L155.2 137.1 L155.4 136.9 L155.6 136.6 L155.8 136.4 L156.1 136.2 L156.3 136.1 L156.6 135.9 L156.9 135.7 L157.1 135.5 L157.5 135.5 L157.8 135.4 L158 135.2 L158.4 135.1 L158.7 135.1 L158.9 134.8 L159.1 134.6 L159.4 134.4 L159.6 134 L159.8 133.8 L160.1 133.5 L160.4 133.4 L160.7 133.3 L161.1 133.4 L161.4 133.3 L161.7 133.3 L162 133.2 L162.3 133 L162.5 132.7 L162.8 132.5 L163.1 132.4 L163.4 132.2 L163.7 132.1 L164 132 L164.3 131.7 L164.6 131.1 L164.8 130.5 L165.1 130 L165.4 129.6 L165.7 129.3 L166.1 129 L166.5 129 L166.8 129.1 L167.2 129.2 L167.6 129.3 L167.9 129.5 L168.3 129.7 L168.7 130.1 L169 130.8 L169.3 131.6 L169.6 132.7 L169.8 133.5 L170.1 133.8 L170.4 133.8 L170.7 133.8 L171 133.4 L171.4 133.2 L171.7 133 L172 133.1 L172.3 133.2 L172.6 133.2 L172.9 133.2 L173.3 133.3 L173.6 133.3 L173.9 133.3 L174.2 133.3 L174.5 133.4 L174.9 133.4 L175.2 133.4 L175.5 133.6 L175.7 133.8 L176.1 133.8 L176.3 134 L176.7 134.1 L177 134.1 L177.4 134 L177.7 134.1 L178 134.3 L178.2 134.4 L178.6 134.5 L178.8 134.8 L179.1 135 L179.4 135 L179.7 135.1 L179.9 135.4 L180.3 135.4 L180.5 135.7 L180.7 135.9 L181 136.2 L181.2 136.3 L181.5 136.5 L181.8 136.6 L182.1 136.8 L182.4 136.9 L182.9 136.8 L183.5 136.7 L184 136.7 L184.5 136.6 L185.1 136.6 L185.5 136.6 L185.9 136.8 L186.3 136.9 L186.5 137.2 L186.8 137.4 L187 137.8 L187.2 138.1 L187.1 138.6 L187 139.2 L186.5 139.9 L186 140.7 L185.4 141.6 L185 142.2 L184.9 142.6 L185.1 142.8 L185.4 143 L185.9 143.1 L186.3 143.2 L186.7 143.4 L186.8 143.6 L187.1 143.9 L187.2 144.1 L187.4 144.4 L187.4 144.7 L187.5 145 L187.5 145.4 L187.7 145.7 L187.9 145.9 L188 146.2 L188.3 146.4 L188.5 146.7 L188.5 147 L188.6 147.3 L188.8 147.6 L188.7 148 L188.7 148.3 L188.9 148.6 L189 148.9 L188.9 149.2 L189.1 149.5 L189.3 149.8 L189.3 150.1 L189.4 150.4 L189.6 150.7 L189.6 151 L189.6 151.4 L189.7 151.7 L189.7 152 L189.8 152.3 L189.9 152.6 L189.9 153 L189.9 153.3Z" fill="#b40000" stroke="#111" stroke-width="1.1" stroke-linejoin="round"/>
<path d="M170.1 133.9 Q169.9 136.2 171.2 138.9" fill="none" stroke="#111" stroke-width="0.9" stroke-linecap="round"/>
<path d="M184.8 142.7 Q182.9 144 181.6 146.7" fill="none" stroke="#111" stroke-width="0.9" stroke-linecap="round"/>
<path d="M187.1 159.8 Q184.9 159 182 159.7" fill="none" stroke="#111" stroke-width="0.9" stroke-linecap="round"/>
<path d="M175.2 172.1 Q174.4 170 172.1 168.1" fill="none" stroke="#111" stroke-width="0.9" stroke-linecap="round"/>
<path d="M158.1 170.6 Q159.3 168.6 159.3 165.6" fill="none" stroke="#111" stroke-width="0.9" stroke-linecap="round"/>
<path d="M148.7 156.2 Q151 155.9 153.3 154.1" fill="none" stroke="#111" stroke-width="0.9" stroke-linecap="round"/>
<path d="M154 139.9 Q155.7 141.5 158.6 142.2" fill="none" stroke="#111" stroke-width="0.9" stroke-linecap="round"/>
<path d="M174.1 155.3 L175.3 156.6 L176.9 156.8 L178.8 155.1 L176.9 156.8 L176.1 159.2 L174.2 159.9" fill="none" stroke="#111" stroke-width="1.0" stroke-linecap="round" stroke-linejoin="round"/>
<path d="M170.6 159.1 L170.4 160.9 L171.2 162.3 L173.7 162.7 L171.2 162.3 L168.8 163.2 L167 162.1" fill="none" stroke="#111" stroke-width="1.0" stroke-linecap="round" stroke-linejoin="round"/>
<path d="M165.4 158.9 L163.9 159.8 L163.3 161.3 L164.5 163.5 L163.3 161.3 L161.1 160 L160.9 157.9" fill="none" stroke="#111" stroke-width="1.0" stroke-linecap="round" stroke-linejoin="round"/>
<path d="M162.4 154.6 L160.7 154 L159.1 154.5 L158.2 156.8 L159.1 154.5 L158.8 152 L160.3 150.5" fill="none" stroke="#111" stroke-width="1.0" stroke-linecap="round" stroke-linejoin="round"/>
<path d="M163.8 149.6 L163.3 147.9 L161.9 147 L159.5 147.7 L161.9 147 L163.7 145.2 L165.7 145.4" fill="none" stroke="#111" stroke-width="1.0" stroke-linecap="round" stroke-linejoin="round"/>
<path d="M168.6 147.6 L169.6 146.1 L169.5 144.5 L167.4 143 L169.5 144.5 L172 144.7 L173.1 146.5" fill="none" stroke="#111" stroke-width="1.0" stroke-linecap="round" stroke-linejoin="round"/>
<path d="M173.2 150.1 L175 150 L176.2 148.8 L176 146.3 L176.2 148.8 L177.5 151 L176.9 152.9" fill="none" stroke="#111" stroke-width="1.0" stroke-linecap="round" stroke-linejoin="round"/>
<circle cx="168.3" cy="153.6" r="1.6" fill="#fff" stroke="#111" stroke-width="0.8"/>
<line x1="43.8" y1="184.9" x2="70" y2="203.5" stroke="#111" stroke-width="1.1" stroke-dasharray="3.3 2.5"/>
<line x1="107.9" y1="184.9" x2="80.8" y2="203.5" stroke="#111" stroke-width="1.1" stroke-dasharray="3.3 2.5"/>
<text transform="translate(122.6 139.7) scale(1.04 1)" font-size="10.5" text-anchor="middle" fill="#222" font-weight="normal"  stroke="#222" stroke-width="0.2">Closing</text>
<text transform="translate(123.2 168.8) scale(1.04 1)" font-size="10.5" text-anchor="middle" fill="#222" font-weight="normal"  stroke="#222" stroke-width="0.2">Opening</text>
<path d="M106 149.6 H138.4 L132.3 145.2" fill="none" stroke="#111" stroke-width="1.5" stroke-linejoin="miter"/>
<path d="M138.4 153.3 H106 L112.1 157.7" fill="none" stroke="#111" stroke-width="1.5" stroke-linejoin="miter"/>
<circle cx="66.5" cy="242.7" r="42" fill="#cbcbcb" stroke="#555" stroke-width="0.8"/>
<circle cx="75.4" cy="207.8" r="1.9" fill="#0b9a0b"/>
<circle cx="91.4" cy="224" r="1.9" fill="#0b9a0b"/>
<circle cx="51" cy="230.7" r="1.9" fill="#0b9a0b"/>
<circle cx="29.9" cy="235.2" r="1.9" fill="#0b9a0b"/>
<circle cx="81.1" cy="234.6" r="1.9" fill="#0b9a0b"/>
<circle cx="68.5" cy="238.5" r="1.9" fill="#0b9a0b"/>
<circle cx="103.5" cy="239.4" r="1.9" fill="#0b9a0b"/>
<circle cx="35.6" cy="247.9" r="1.9" fill="#0b9a0b"/>
<circle cx="63" cy="257.8" r="1.9" fill="#0b9a0b"/>
<circle cx="80.8" cy="260.2" r="1.9" fill="#0b9a0b"/>
<circle cx="93.5" cy="258.1" r="1.9" fill="#0b9a0b"/>
<circle cx="53.7" cy="272" r="1.9" fill="#0b9a0b"/>
<circle cx="73.6" cy="273.8" r="1.9" fill="#0b9a0b"/>
<circle cx="59.1" cy="210.8" r="1.9" fill="#c00000"/>
<circle cx="74.2" cy="220.7" r="1.9" fill="#c00000"/>
<circle cx="41.9" cy="228.3" r="1.9" fill="#c00000"/>
<circle cx="73" cy="253.3" r="1.9" fill="#c00000"/>
<circle cx="41.6" cy="256.3" r="1.9" fill="#c00000"/>
<circle cx="95.6" cy="263.6" r="1.9" fill="#c00000"/>
<circle cx="64" cy="276.8" r="1.9" fill="#c00000"/>
<rect x="70" y="203.5" width="10.8" height="9.1" fill="none" stroke="#222" stroke-width="0.8" stroke-dasharray="2 1.5"/>
<line x1="99.5" y1="217.7" x2="202" y2="296.5" stroke="#111" stroke-width="1.1" stroke-dasharray="3.3 2.5"/>
<line x1="67" y1="284.6" x2="201" y2="297.5" stroke="#111" stroke-width="1.1" stroke-dasharray="3.3 2.5"/>
<path id="ensarc" d="M22.1 236.5 A44.8 44.8 0 0 1 66.5 197.9" fill="none"/>
<text font-size="10.5" stroke="#222" stroke-width="0.2" fill="#222"><textPath href="#ensarc" startOffset="0" textLength="44" lengthAdjust="spacingAndGlyphs">Ensemble</textPath></text>
<circle cx="234.4" cy="181.0" r="24.2" fill="#cbcbcb" stroke="#555" stroke-width="0.8"/>
<circle cx="223.6" cy="163.4" r="1.5" fill="#0b9a0b"/>
<circle cx="228.2" cy="164.3" r="1.5" fill="#0b9a0b"/>
<circle cx="238.8" cy="160.8" r="1.5" fill="#0b9a0b"/>
<circle cx="247.2" cy="168.4" r="1.5" fill="#0b9a0b"/>
<circle cx="225.6" cy="171" r="1.5" fill="#0b9a0b"/>
<circle cx="216.3" cy="172.8" r="1.5" fill="#0b9a0b"/>
<circle cx="240.2" cy="173.4" r="1.5" fill="#0b9a0b"/>
<circle cx="213.9" cy="179.5" r="1.5" fill="#0b9a0b"/>
<circle cx="226.2" cy="178.6" r="1.5" fill="#0b9a0b"/>
<circle cx="237" cy="180.4" r="1.5" fill="#0b9a0b"/>
<circle cx="247.5" cy="178.6" r="1.5" fill="#0b9a0b"/>
<circle cx="255.4" cy="181.5" r="1.5" fill="#0b9a0b"/>
<circle cx="215.7" cy="185.3" r="1.5" fill="#0b9a0b"/>
<circle cx="229.4" cy="188.5" r="1.5" fill="#0b9a0b"/>
<circle cx="239.9" cy="190.9" r="1.5" fill="#0b9a0b"/>
<circle cx="251.6" cy="189.1" r="1.5" fill="#0b9a0b"/>
<circle cx="224.5" cy="194.1" r="1.5" fill="#0b9a0b"/>
<circle cx="228.8" cy="197.6" r="1.5" fill="#0b9a0b"/>
<circle cx="240.5" cy="196.1" r="1.5" fill="#0b9a0b"/>
<circle cx="235.3" cy="201.4" r="1.5" fill="#0b9a0b"/>
<line x1="258.6" y1="176.6" x2="281.1" y2="214.2" stroke="#111" stroke-width="1.1" stroke-dasharray="3.3 2.5"/>
<line x1="232.3" y1="204.9" x2="279" y2="216.6" stroke="#111" stroke-width="1.1" stroke-dasharray="3.3 2.5"/>
<circle cx="101.5" cy="347.0" r="24" fill="#cbcbcb" stroke="#555" stroke-width="0.8"/>
<circle cx="100.4" cy="326.5" r="1.5" fill="#c00000"/>
<circle cx="95.5" cy="331.8" r="1.5" fill="#c00000"/>
<circle cx="106.9" cy="330.3" r="1.5" fill="#c00000"/>
<circle cx="95.5" cy="336.7" r="1.5" fill="#c00000"/>
<circle cx="105.7" cy="339.6" r="1.5" fill="#c00000"/>
<circle cx="79.7" cy="344.9" r="1.5" fill="#c00000"/>
<circle cx="119.4" cy="343.7" r="1.5" fill="#c00000"/>
<circle cx="87.3" cy="349.3" r="1.5" fill="#c00000"/>
<circle cx="108.6" cy="349.9" r="1.5" fill="#c00000"/>
<circle cx="120.9" cy="349.3" r="1.5" fill="#c00000"/>
<circle cx="94.3" cy="354.2" r="1.5" fill="#c00000"/>
<circle cx="108.6" cy="357.2" r="1.5" fill="#c00000"/>
<circle cx="106.6" cy="363.9" r="1.5" fill="#c00000"/>
<circle cx="110.9" cy="334.4" r="1.5" fill="#0b9a0b"/>
<circle cx="84.1" cy="337.6" r="1.5" fill="#0b9a0b"/>
<circle cx="97.8" cy="347.5" r="1.5" fill="#0b9a0b"/>
<circle cx="118.5" cy="356" r="1.5" fill="#0b9a0b"/>
<circle cx="87" cy="359.2" r="1.5" fill="#0b9a0b"/>
<circle cx="110.4" cy="365" r="1.5" fill="#0b9a0b"/>
<circle cx="95.5" cy="367.4" r="1.5" fill="#0b9a0b"/>
<line x1="77.3" y1="344.3" x2="67.8" y2="370.5" stroke="#111" stroke-width="1.0" stroke-dasharray="3.3 2.5"/>
<line x1="95.2" y1="370.6" x2="67.8" y2="371.6" stroke="#111" stroke-width="1.0" stroke-dasharray="3.3 2.5"/>
<path d="M203.2 297.8 L202.2 298 L201.7 298 L201.3 298.1 L200.8 298.5 L200.1 298.5 L199.3 298.8 L199 298.5 L198.2 298.6 L198 299 L198 299.3 L197 299.7 L196.3 299.4 L195.9 299.7 L194.5 299.9 L193.9 299.8 L193.9 299.8 L193.3 300.2 L192.5 300.8 L191.9 301.2 L191.5 301.2 L191.3 301.4 L190.8 301.6 L190 301.5 L189.7 301.8 L189 302.2 L188 302.2 L187.1 302 L187 302.2 L187 302.5 L186.3 302.5 L185.7 302.8 L184.9 303.1 L184.2 303.1 L183.6 303.2 L182.9 303.3 L182.4 303.7 L182.2 303.7 L181.7 304.2 L180.8 304.5 L180 304.6 L179.2 304.9 L179.2 304.4 L178.8 304.3 L177.9 304.6 L177.1 304.9 L176.3 304.9 L175.8 305 L175.6 304.7 L175 304.8 L174.1 304.8 L173.6 305.1 L173.1 305.6 L172.2 305.4 L171.5 305.7 L171.1 306 L170.8 305.8 L170.2 305.5 L169.6 305.7 L169.5 305.7 L168.7 305.9 L167.6 306.8 L167.2 306.9 L166.7 306.8 L165.9 306.8 L165.4 306.8 L165.5 307.2 L164.7 307.2 L163.6 307.5 L162.9 308 L162.4 308 L161.8 307.7 L160.9 307.6 L160.8 307.8 L160.3 308 L159.7 308.2 L159.6 308.3 L158.8 308.6 L158 308.3 L157.8 308 L157.1 308.7 L155.9 308.8 L155.1 308.5 L154.6 308.6 L154.7 308.6 L154.3 308.8 L153.2 309.7 L152.2 310.1 L151.7 309.4 L151.4 309 L150.8 309.3 L150.2 309.8 L149.8 309.8 L149 309.5 L148.4 310 L147.9 310.5 L147.3 310.3 L146.8 309.9 L146.6 309.8 L146.1 310 L145.1 309.9 L144 310.4 L143.5 310.8 L142.8 310.9 L141.8 311.5 L141.9 311.8 L141.8 311.2 L140.9 311.2 L139.8 311.9 L139.2 311.6 L138.8 311.3 L138.5 311.5 L138.5 311.4 L137.9 311.9 L136.6 311.8 L135.7 311.4 L135.3 311.9 L134.9 312.2 L134.1 312.4 L133.5 312.7 L133 312.6 L132.6 312.9 L132.5 312.6 L131.9 312.4 L131 312.9 L130.3 313 L129.8 313.3 L129 313.1 L128.3 313 L127.5 313.5 L126.7 313.8 L126.6 313.6 L126.2 314 L125.5 314.8 L125.2 314.1 L124.2 313.7 L123.2 314.7 L123 314.9 L122.7 314.4 L122 314.3 L121.6 314.2 L121.1 314.3 L119.9 314.3 L119.1 314.7 L119 314.7 L118.7 314.6 L117.5 314.4 L117.1 314.6 L117.1 314.8 L116.5 314.8 L115.7 315.3 L114.7 315.6 L114 315.4 L114 315.5 L113.6 315.5 L112.9 315.4 L112.2 315.5 L111.2 315.8 L110.4 315.6 L109.7 315.8 L109.7 316.2 L109 315.8 L108.3 315.7 L108.1 315.9 L107.1 316 L106.2 316.2 L105.8 316.5 L105.3 316.6 L104.7 315.9 L104 315.9 L103.5 316.2 L102.8 316.4 L102 317.2 L101.7 317.4 L101.5 317 L100.6 316.8 L99.8 317.6 L99.5 318 L98.6 317.8 L98.4 318 L97.8 318.7 L97.5 318.7 L96.8 318.2 L96 318.3 L95.5 318.4 L94.6 318.4 L94.3 318 L93.8 318.3 L93.2 318.4 L92.7 318.5 L91.6 318.8 L91 319.4 L90.7 319.3 L90.3 318.8 L89.5 319.2 L88.8 319.2 L88.1 319.9 L87.7 319.5 L87.1 319.3 L86.1 319.1 L85.6 319.1 L85.7 320 L84.9 320.1 L83.7 319.7 L83.5 319.8 L82.7 320.2 L82.3 320.9 L82 320.6 L81 320.7 L80.8 320.3 L79.9 320.4 L79.7 321.4 L79.1 321.6 L78.1 320.8 L77.4 321.8 L77.6 321.9 L77.2 321.6 L76.3 322 L75.6 322.4 L75.1 322.1 L74.7 322.5 L74.5 322.7 L73.4 322.9 L72.3 322.8 L71.7 323.9 L71.1 324.1 L71.1 324.6 L70.9 324.7 L69.8 324.5 L68.8 325.4 L68.8 325.4 L68.4 325.7 L67.6 325.7 L66.9 325.6 L66.7 326.3 L66 326.1 L65.6 326.1 L64.9 326.5 L64.3 326.8 L63.4 326.5 L63.4 326.7 L63.7 327.5 L62.8 328 L61.7 328.7 L60.7 328.6 L60.5 329.4 L60.3 329.3 L60 329.5 L59.1 329.8 L58.6 330.9 L58 331 L57.6 331.1 L57.7 330.8 L57.6 330.9 L56.7 331.7 L55.8 331.4 L54.9 333.2 L54.7 332.8 L54.2 333.1 L53.8 332.9 L53.5 334.9 L52.6 334.3 L52.3 334.3 L52.2 335.1 L51.8 335.8 L51.5 335.5 L50.5 336.4 L49.8 336.5 L49.9 337.5 L49.1 337.8 L48.6 338 L48.9 337.6 L47.9 338 L47.5 338.7 L46.9 339.6 L47.1 340.5 L45.9 339.5 L45.8 340.3 L45.3 340.9 L44.7 342.1 L44.9 341.6 L44.5 342.5 L43.6 342.7 L43.2 343.8 L42.8 343.1 L42.2 343.2 L42.3 344.3 L41.7 344.4 L41.5 344.3 L41 346.3 L40.6 346.4 L40.2 346.1 L39.6 347.6 L38.6 348.3 L39.1 346.9 L39.2 347.6 L37.9 349.5 L37.4 349.7 L37.2 349.1 L37.1 349.3 L36.7 349.7 L35.4 350.3 L35.2 350.5 L34.3 351.6 L34.6 351.2 L34.8 351.8 L33.8 353.9 L33.2 353.3 L33.7 353.7 L32.8 354.6 L31.6 354.8 L30.7 354.8 L30.6 355.7 L29.7 355.8 L29.7 357.5 L29.7 356.9 L29.6 356.3 L29.1 357.6 L29 358.7 L28.8 359.3 L28.1 360.5 L28 360.7 L27.3 360.5 L27.3 361.1 L27.5 360.3 L27 361.4 L27.2 361.9 L26.4 364.5 L27.5 363.8 L26.8 363.1 L26.7 364.8 L26.5 365.9 L27.2 365.9 L26.4 366.3 L26.5 366.9 L27.1 367.9 L26.8 368.3 L26.3 368.4 L27.2 369.9 L27 370.2 L27.6 370.5 L27.1 370.2 L27.1 371.3 L28 372.5 L27.7 372.2 L28.7 373.4 L28.3 374.3 L30.3 373.8 L29.8 374.7 L30.5 374.7 L30.2 376.4 L30.9 377 L31.2 376.3 L31.6 375.6 L32.1 377 L33.5 379 L33.6 379.7 L34.5 378.8 L34.7 379 L35.1 378.3 L35 379.1 L36.4 378.6 L36.5 378.1 L37 376.5 L37.9 377.7 L38 378.5 L38.3 377 L39.5 376.4 L40.2 377.1 L40.5 376.1 L41.3 375.5 L42.3 377 L42 376.4 L42.7 376.6 L44.1 378.2 L44.7 377.3 L44.6 376.8 L44.6 376.9 L45.3 376 L46 376.1 L46.4 376.6 L47.4 375.7 L48.6 375.5 L49.1 376.4 L49.4 375.8 L50.1 375.5 L50.4 375.3 L50.7 375.7 L51.6 376.6 L51.7 376.4 L52.6 376.8 L53.3 375.2 L53.8 376.1 L54.6 375.8 L55.1 376 L55.7 376.7 L56.2 377 L57.3 375.4 L57.6 375.3 L57.6 375.3 L58.8 375.2 L60.4 374.4 L60.5 374.2 L61 373.7 L61.2 374.3 L62 373.6 L61.9 373 L62.5 372.8 L62.7 371.8 L63.4 372.5 L63.8 371.9 L64 372.8 L64.3 372.1 L65.4 372.1 L66.4 372.8 L66.3 374.2 L67.1 374 L68.1 373.8 L68.5 374.5 L69.1 374.8 L69.1 375.4 L69.8 376.1 L70.2 375.4 L71.3 375.4 L71.5 375.3 L71.9 376.4 L72.3 375.2 L72.8 375.8 L73.7 377.2 L74.3 377.2 L74.2 377.5 L75 377 L76.7 377.8 L77.6 378.1 L77.5 378.1 L77.8 377.3 L79 377.6 L79.5 377.4 L79.3 377.1 L80.2 377.8 L81.2 378.1 L81.7 378 L81.7 378.8 L82.4 378.9 L83.6 379.9 L84 379.5 L84.4 379.5 L84.5 379.4 L84.9 379.3 L85.9 380 L86.5 380 L87.2 379.8 L87.7 380.1 L87.6 380.1 L88.7 381.1 L89.3 380.8 L89.6 381 L90.2 381 L90.8 380.7 L90.9 381 L91.9 381.6 L93.1 382 L93.8 382.2 L94.6 381.4 L95 381.7 L94.6 381.9 L95 381.5 L95.8 381.7 L96.5 381.4 L97.5 381.4 L97.6 381.1 L98.4 380.8 L99 380.2 L99.6 380.2 L100.3 379.9 L100.8 379.9 L101.5 379.9 L102.1 379.7 L102.5 379.7 L102.8 379.2 L103.5 378.8 L104.8 378.8 L105.8 379 L106.4 379.3 L106.6 379.3 L106.7 378.6 L107.5 378.6 L108.2 378.2 L108.4 378.1 L108.9 378 L109.6 376.9 L110.1 377.5 L110.6 378.4 L111.1 377.2 L111.6 376.9 L112.9 376.8 L113.5 376.6 L113.5 376.1 L114.2 375.7 L114.9 376 L115.2 376 L115.5 376.1 L116.6 375.7 L117.2 375.9 L117.6 375.5 L118.5 374.8 L118.8 374.3 L119.1 373.7 L119.7 374.2 L120.5 374 L120.7 373.6 L120.7 373.5 L121.6 372.9 L122.4 372.6 L123.2 372.4 L123.9 372.1 L123.9 372.2 L124.3 372.1 L125.1 371.5 L125.3 370.8 L126 370.7 L126.5 370.6 L126.4 370.5 L127.1 370.8 L127.7 370.5 L128.1 369.6 L129.1 369 L129.8 368.6 L130.6 368 L131 367.7 L130.8 367.5 L131.2 367.3 L131.8 367.2 L132.2 366.9 L133 366.4 L133.6 365.8 L133.6 365.9 L134.4 366 L135.3 365.7 L135.7 365.4 L136.2 365 L136.8 364.4 L137.2 363.9 L137.9 364.2 L138.4 363.4 L138.7 362.7 L139.2 363 L139.2 362.5 L139.6 361.9 L140.3 361.7 L140.9 361 L141.1 360.5 L141.9 360 L142.7 359.4 L142.5 359.1 L142.5 358.8 L143.2 358.6 L144 358.4 L144.4 357.6 L144.8 357.6 L145.3 357.8 L145.9 357.1 L146.3 356.3 L146.6 355.7 L147.4 355.6 L148.5 355.3 L148.4 354.4 L148.2 354 L148.7 354.7 L149.4 353.7 L149.8 352.8 L149.9 352.9 L150.6 352.3 L150.9 352.1 L151.1 351.4 L151.7 350.7 L151.9 350.9 L152.1 350.5 L152.9 349.6 L153.7 349.3 L154.2 348.8 L154.2 348.8 L154.5 348.2 L155.5 347.7 L156.2 347.2 L156.4 346.7 L156.5 346.6 L157.1 345.4 L157.6 345 L157.6 344.9 L158 344.4 L159 344.6 L159.7 344 L160 343 L160.3 343.2 L160.7 343 L161.1 342.6 L161.3 342.3 L162.4 341.3 L163 340.8 L162.8 340.8 L163 340.7 L163.6 339.9 L164.3 339.3 L164.5 338.9 L164.3 338.3 L164.7 338.3 L165.6 338.1 L166.1 336.9 L166.8 336.4 L167.2 336.4 L167.5 336.2 L167.6 335.6 L168.1 334.9 L169.2 334.5 L169.6 333.8 L169.6 333.1 L169.8 333.2 L170.6 333 L170.8 332.4 L170.7 332.4 L171.5 332 L172.1 331.3 L172.3 331.2 L172.6 330.9 L173 329.9 L173.4 329.5 L173.8 329.2 L173.9 328.4 L174.4 327.9 L175.2 327.6 L175.4 326.7 L175.5 326.2 L176.3 326.2 L176.5 325.7 L176.8 324.9 L177.2 324.5 L177.8 324.4 L179 324.1 L179.6 323.4 L179.4 323.1 L179.5 322.6 L180 322 L180.2 322.1 L181 321.6 L181 320.7 L181.3 320.7 L182 320.2 L182.5 319.5 L182.9 319.2 L182.9 319 L183.3 318 L184 317.2 L184.3 317 L184.7 316.5 L184.9 316.1 L184.7 315.7 L185.5 315.5 L186.5 315.1 L186.7 314.6 L187 314.4 L187.6 313.8 L187.9 313.3 L187.9 313.4 L188.3 313 L189.2 312 L189.3 311.5 L189.7 311 L190.3 310.6 L190.1 310.6 L191 309.9 L191.6 309.2 L191.4 309.2 L191.8 308.7 L192.7 308.1 L193.4 307.5 L193.5 306.8 L193.8 306.5 L194.4 306.8 L194.6 306.4 L194.9 305.3 L195.5 304.9 L195.7 304.5 L196 304.3 L196.6 304 L197.1 303.9 L197.4 303.5 L197.7 302.9 L198.5 302.5 L199 301.9 L199.4 301.1 L200.1 300.5 L200.4 300.4 L201.1 299.9 L201.2 299 L201.3 298.9 L201.8 298.9 L202.5 298.1 L203.4 297.8 L202.9 297.4 L203 297.1 L203.5 296.3 L204 295.7 L204.5 295.4 L205 295 L205.5 294 L206 293.1 L206.5 292.8 L207 292.3 L207.5 291.6 L208 291 L208.5 290.5 L209 290.2 L209.5 290 L210 289.3 L210.5 289 L211 288.5 L211.5 288.2 L212.1 287.9 L212.6 286.7 L213.1 285.9 L213.6 284.6 L214.1 284.2 L214.6 284.3 L215.1 284.2 L215.6 283.3 L216.1 282.8 L216.6 282.5 L217.1 281.7 L217.6 280.7 L218.1 280 L218.6 280 L219.1 279.6 L219.6 279.1 L220.1 278.2 L220.6 277.9 L221.1 277.7 L221.6 277.1 L222.1 276.7 L222.6 276.2 L223.1 275.5 L223.6 274.4 L224.1 273.6 L224.6 273.7 L225.1 273.6 L225.6 272.8 L226.1 272 L226.6 271.5 L227.1 271.1 L227.6 270.5 L228.1 269.8 L228.6 269.8 L229.1 269.5 L229.7 268.4 L230.2 267.5 L230.7 267 L231.2 266.9 L231.7 266.7 L232.2 266 L232.7 265.3 L233.2 264.8 L233.7 264 L234.2 263.9 L234.7 263.7 L235.2 263.4 L235.7 262.7 L236.2 261.6 L236.7 261.4 L237.2 260.9 L237.7 259.9 L238.2 259.2 L238.7 259 L239.2 258.8 L239.7 258.3 L240.2 257.9 L240.7 257.6 L241.2 257 L241.7 256.3 L242.2 255.6 L242.7 255.2 L243.2 255 L243.7 254.4 L244.2 253.8 L244.7 253.2 L245.2 252.3 L245.7 251.6 L246.2 251.6 L246.7 251.4 L247.3 251.1 L247.8 250.5 L248.3 249.8 L248.8 249.6 L249.3 249.1 L249.8 248.2 L250.3 247.5 L250.8 247.2 L251.3 246.5 L251.8 246.1 L252.3 246 L252.8 245.3 L253.3 245 L253.8 244.6 L254.3 243.6 L254.8 243.1 L255.3 242.5 L255.8 242.2 L256.3 241.8 L256.8 241.6 L257.3 241.2 L257.8 240.5 L258.3 239.9 L258.8 239 L259.3 238.5 L259.8 238.1 L260.3 237.9 L260.8 237.5 L261.3 237.2 L261.8 236.9 L262.3 236.2 L262.8 235.6 L263.3 235 L263.8 234.6 L264.3 234.3 L264.9 233.5 L265.4 233 L265.9 233.2 L266.4 232.6 L266.9 231.5 L267.4 230.9 L267.9 230.2 L268.4 230.1 L268.9 229.9 L269.4 229.3 L269.9 229.2 L270.4 229.2 L270.9 228.1 L271.4 227.3 L271.9 227.2 L272.4 226.6 L272.9 226.1 L273.4 225.5 L273.9 225.3 L274.4 224.9 L274.9 224.2 L275.4 223.9 L275.9 223.5 L276.4 222.9 L276.9 222.3 L277.4 222.1 L277.9 221.7 L278.4 220.8 L278.9 220 L279.4 219.5 L279.9 219 L280.4 218.7 L280.9 218.5 L281.4 217.5 L281.9 217 L282.5 217.1 L283 216.7 L283.5 215.9 L284 215.7 L284.5 215.3 L285 214.3 L285.5 213.8 L286 213.6 L286.5 213.5 L287 213.3 L287.5 212.7 L288 211.7 L288.5 211.1 L289 210.7 L289.5 210.4 L290 209.7 L290.5 209.3 L291 209.4 L291.5 208.9 L292 208.4 L292.5 207.8 L293 206.9 L293.5 206.5 L294 206.6 L294.5 206.5 L295 205.8 L295.5 205.3 L296 204.9 L296.5 204.5 L297 204.3 L297.5 203.4 L298 203 L298.5 202.5 L299 201.7 L299.6 201.1 L300.1 200.9 L300.6 200.8 L301.1 200.3 L301.6 199.7 L302.1 199.6 L302.6 199.2 L303.1 198.3 L303.6 198.2 L304.1 198.2 L304.6 197.6 L305.1 196.5 L305.6 195.8 L306.1 195.9 L306.6 195.6 L307.1 195.4 L307.6 194.6 L308.1 194 L308.6 193.7 L309.1 193.4 L309.6 193.1 L310.1 192.6 L310.6 192.1 L311.1 191.1 L311.6 190.6 L312.1 190.3 L312.6 189.9 L313.1 189.9 L313.6 190 L314.1 189.3 L314.6 188.4 L315.1 187.9 L315.6 187.5 L316.1 187.5 L316.6 187.2 L317.2 186.6 L317.7 186 L318.2 185.1 L318.7 184.6 L319.2 184.3 L319.7 184.2 L320.2 184 L320.7 183.3 L321.2 182.8 L321.7 182.9 L322.2 182.4 L322.7 181.4 L323.2 181.1 L323.7 180.8 L324.2 180.3 L324.7 180.2 L325.2 180.2 L325.7 179.3 L326.2 178.5 L326.7 178.5 L327.2 178.1 L327.7 177.6 L328.2 177.1 L328.7 177 L329.2 176.5 L329.7 175.9 L330.2 175.6 L330.7 175.2 L331.2 174.8 L331.7 174.5 L332.2 174.2 L332.7 173.6 L333.2 173.2 L333.7 172.5 L334.2 171.9 L334.8 171.5 L335.3 171.3 L335.8 171 L336.3 170.3 L336.8 170.1 L337.3 170.1 L337.8 169.2 L338.3 169.1 L338.8 169.1 L339.3 168.3 L339.8 168.1 L340.3 167.7 L340.8 167 L341.3 167 L341.8 166.5 L342.3 165.7 L342.8 165.7 L343.3 165.1 L343.8 164.5 L344.3 164.4 L344.8 164.5 L345.3 163.9 L345.8 162.9 L346.3 162.9 L346.8 162.5 L347.3 161.7 L347.8 161.4 L348.3 161.3 L348.8 160.9 L349.3 160.7 L349.8 160.5 L350.3 159.9 L350.8 159.4 L351.3 158.7 L351.8 158.2 L352.4 158.1 L352.9 157.7 L353.4 157.2 L353.9 156.8 L354.4 156.7 L354.9 156.9 L355.4 156.1 L355.9 155.4 L356.4 155 L356.9 154.8 L357.4 154.6 L357.9 154 L358.4 153.5 L358.9 153.1 L359.4 152.5 L359.9 152.3 L360.4 152 L360.9 151.6 L361.4 151.4 L361.9 151.1 L362.4 150.7 L362.9 150.3 L363.4 149.7 L363.9 149.3 L364.4 149.1 L364.9 148.6 L365.4 148.3 L365.9 148.1 L366.4 147.3 L366.9 146.8 L367.4 146.5 L367.9 146.3 L368.4 145.8 L368.9 145 L369.4 144.7 L370 144.9 L370.5 144.6 L371 143.9 L371.5 143.7 L372 142.9 L372.5 142.6 L373 142.8 L373.5 142.4 L374 142.1 L374.5 141.7 L375 141.2 L375.5 140.8 L376 140.5 L376.5 140.6 L377 140.3 L377.5 139.6 L378 139 L378.5 138.4 L378.5 140.8 L378 141 L377.5 141.5 L377 141.8 L376.5 142.1 L376 142.7 L375.5 143.5 L375 144.1 L374.5 143.9 L374 144 L373.5 144.7 L373 144.8 L372.5 145.1 L372 145.1 L371.5 145.2 L371 146.1 L370.5 146.9 L370 147.4 L369.4 147.5 L368.9 147.9 L368.4 148 L367.9 147.8 L367.4 148.7 L366.9 149.7 L366.4 149.5 L365.9 150.2 L365.4 150.8 L364.9 150.6 L364.4 150.9 L363.9 151.1 L363.4 151.9 L362.9 152.2 L362.4 152.5 L361.9 153.2 L361.4 153 L360.9 153.2 L360.4 154.1 L359.9 154.4 L359.4 155 L358.9 155.4 L358.4 155.2 L357.9 155.9 L357.4 156.4 L356.9 156.8 L356.4 157.1 L355.9 157.4 L355.4 157.8 L354.9 158.3 L354.4 158.7 L353.9 158.8 L353.4 159.4 L352.9 160.1 L352.4 160.5 L351.8 160.7 L351.3 161.5 L350.8 162.2 L350.3 162.4 L349.8 162.6 L349.3 162.5 L348.8 162.6 L348.3 163.3 L347.8 164 L347.3 164.6 L346.8 165 L346.3 165.1 L345.8 165.5 L345.3 165.7 L344.8 166.1 L344.3 166.4 L343.8 166.4 L343.3 167.2 L342.8 167.8 L342.3 167.9 L341.8 168.1 L341.3 168.7 L340.8 169.4 L340.3 169.9 L339.8 170.2 L339.3 170.1 L338.8 170.7 L338.3 171.6 L337.8 171.5 L337.3 171.5 L336.8 172 L336.3 172.6 L335.8 173.2 L335.3 173.7 L334.8 174.7 L334.2 174.9 L333.7 174.8 L333.2 174.7 L332.7 175 L332.2 175.8 L331.7 176.2 L331.2 176.7 L330.7 177.1 L330.2 177.7 L329.7 178.6 L329.2 179.3 L328.7 179.5 L328.2 179.6 L327.7 179.5 L327.2 179.7 L326.7 180.7 L326.2 181.2 L325.7 181.6 L325.2 181.8 L324.7 182.2 L324.2 183.1 L323.7 183 L323.2 183.2 L322.7 184.3 L322.2 184.5 L321.7 184.8 L321.2 185.2 L320.7 185.2 L320.2 186.1 L319.7 186.8 L319.2 186.8 L318.7 186.8 L318.2 187.2 L317.7 188 L317.2 188.4 L316.6 189 L316.1 188.9 L315.6 189.3 L315.1 190.4 L314.6 190.9 L314.1 191.4 L313.6 191.8 L313.1 191.9 L312.6 192.2 L312.1 192.7 L311.6 193.1 L311.1 193.6 L310.6 194.1 L310.1 194.3 L309.6 194.6 L309.1 195.3 L308.6 195.6 L308.1 196.3 L307.6 196.6 L307.1 196.5 L306.6 197.4 L306.1 198.3 L305.6 198.9 L305.1 199 L304.6 199 L304.1 199.5 L303.6 200.1 L303.1 200.6 L302.6 200.5 L302.1 200.9 L301.6 201.2 L301.1 201.9 L300.6 202.7 L300.1 202.8 L299.6 203.2 L299 203.8 L298.5 204.5 L298 204.6 L297.5 205 L297 205.6 L296.5 205.9 L296 206.2 L295.5 206.7 L295 207.4 L294.5 208 L294 208.2 L293.5 208.6 L293 209.5 L292.5 210 L292 210.4 L291.5 210.6 L291 210.9 L290.5 211.5 L290 212.7 L289.5 213.1 L289 212.9 L288.5 213.5 L288 213.9 L287.5 214.5 L287 215 L286.5 215 L286 215.3 L285.5 216.5 L285 217 L284.5 216.5 L284 217.2 L283.5 218 L283 218.1 L282.5 218.6 L281.9 219.2 L281.4 219.9 L280.9 220.4 L280.4 220.9 L279.9 221.3 L279.4 221.6 L278.9 222 L278.4 222.7 L277.9 223.3 L277.4 223.7 L276.9 224.3 L276.4 224.6 L275.9 224.5 L275.4 225 L274.9 225.7 L274.4 226.6 L273.9 227.1 L273.4 227.5 L272.9 227.9 L272.4 227.8 L271.9 228.2 L271.4 228.9 L270.9 229.5 L270.4 229.7 L269.9 230.3 L269.4 231 L268.9 231.6 L268.4 231.9 L267.9 232.2 L267.4 232.7 L266.9 233.3 L266.4 233.8 L265.9 233.8 L265.4 234.1 L264.9 235.1 L264.3 235.9 L263.8 236.4 L263.3 236.6 L262.8 237 L262.3 237.7 L261.8 237.9 L261.3 238.2 L260.8 239.1 L260.3 239.9 L259.8 240.4 L259.3 240.5 L258.8 240.5 L258.3 241 L257.8 241.9 L257.3 243 L256.8 243.3 L256.3 243.4 L255.8 243.9 L255.3 244.6 L254.8 244.7 L254.3 245.2 L253.8 246 L253.3 246.5 L252.8 247.3 L252.3 247.8 L251.8 247.5 L251.3 248.2 L250.8 248.9 L250.3 249.1 L249.8 249.6 L249.3 250.3 L248.8 251.1 L248.3 251 L247.8 251.3 L247.3 252.2 L246.7 252.4 L246.2 252.8 L245.7 253.7 L245.2 254.6 L244.7 255.4 L244.2 255.5 L243.7 255.8 L243.2 256.4 L242.7 256.7 L242.2 257.2 L241.7 258.1 L241.2 258.4 L240.7 258.9 L240.2 259.3 L239.7 259.8 L239.2 260.7 L238.7 261.1 L238.2 261.5 L237.7 261.6 L237.2 261.9 L236.7 262.3 L236.2 262.9 L235.7 263.7 L235.2 264.4 L234.7 265.1 L234.2 265.5 L233.7 266.1 L233.2 266.5 L232.7 266.9 L232.2 267.9 L231.7 268.3 L231.2 268.3 L230.7 268.4 L230.2 269.3 L229.7 270.2 L229.1 270.9 L228.6 271.3 L228.1 271.6 L227.6 272.5 L227.1 273.4 L226.6 273.7 L226.1 274.1 L225.6 274.6 L225.1 275 L224.6 275.4 L224.1 275.9 L223.6 276.7 L223.1 277.1 L222.6 277.3 L222.1 277.7 L221.6 278.4 L221.1 279 L220.6 279.3 L220.1 279.9 L219.6 280.4 L219.1 281 L218.6 281.6 L218.1 281.9 L217.6 282.3 L217.1 283.5 L216.6 283.9 L216.1 283.6 L215.6 284.7 L215.1 286 L214.6 286.1 L214.1 286.2 L213.6 286.8 L213.1 287.7 L212.6 288.2 L212.1 288.8 L211.5 288.9 L211 289.1 L210.5 290.4 L210 291.2 L209.5 291.1 L209 291.2 L208.5 292.5 L208 293.3 L207.5 293.3 L207 293.5 L206.5 294.4 L206 295.2 L205.5 295.1 L205 296 L204.5 297 L204 297.1 L203.5 297.5 L203 297.8" fill="none" stroke="#3c4da3" stroke-width="2.3" stroke-linejoin="round" stroke-linecap="round"/>
<path d="M378.5 139.6 l1 2.2" stroke="#3c4da3" stroke-width="2.4" fill="none" stroke-linecap="round"/>
<path d="M145.1 302.8 Q178 298.5 203.5 286.6" fill="none" stroke="#0b970b" stroke-width="1.6"/>
<path d="M207.2 284.2 L200.3 285 L202.7 287 L203.1 290.2Z" fill="#0b970b"/>
<text transform="translate(153.5 293.5) rotate(-15.5) scale(1.04 1)" font-size="10.5" text-anchor="start" fill="#222" font-weight="normal"  stroke="#222" stroke-width="0.2">Opening</text>
<line x1="320.5" y1="165.5" x2="346.5" y2="145.6" stroke="#0b970b" stroke-width="1.6" />
<path d="M350 142.9 L343.2 144.6 L345.8 146.1 L346.6 149Z" fill="#0b970b"/>
<line x1="353.5" y1="174.2" x2="327" y2="193.3" stroke="#0b970b" stroke-width="1.6" />
<path d="M323.5 195.9 L330.3 194.3 L327.7 192.8 L326.9 189.9Z" fill="#0b970b"/>
<text transform="translate(313.5 156.5) rotate(-36) scale(1.04 1)" font-size="10.5" text-anchor="start" fill="#222" font-weight="normal"  stroke="#222" stroke-width="0.2">Open</text>
<text transform="translate(340 207.2) rotate(-36) scale(1.04 1)" font-size="10.5" text-anchor="start" fill="#222" font-weight="normal"  stroke="#222" stroke-width="0.2">Open</text>
<path d="M133.7 374.7 Q104 396.5 71 390" fill="none" stroke="#c00000" stroke-width="1.5"/>
<path d="M67 388.2 L73.6 387.3 L72 390 L72.6 393.2Z" fill="#c00000"/>
<text transform="translate(141.3 378.6) rotate(-32.5) scale(1.04 1)" font-size="10.5" text-anchor="start" fill="#222" font-weight="normal"  stroke="#222" stroke-width="0.2">Closing</text>
<rect x="224.5" y="308.4" width="134.0" height="75.0" fill="#fff" stroke="#777" stroke-width="0.9"/>
<line x1="222.3" y1="331.2" x2="224.5" y2="331.2" stroke="#777" stroke-width="0.9" />
<line x1="222.3" y1="372.3" x2="224.5" y2="372.3" stroke="#777" stroke-width="0.9" />
<line x1="358.5" y1="311.9" x2="360.7" y2="311.9" stroke="#777" stroke-width="0.9" />
<line x1="358.5" y1="379.9" x2="360.7" y2="379.9" stroke="#777" stroke-width="0.9" />
<line x1="224.5" y1="383.4" x2="224.5" y2="385.6" stroke="#777" stroke-width="0.9" />
<line x1="291.4" y1="383.4" x2="291.4" y2="385.6" stroke="#777" stroke-width="0.9" />
<line x1="358.5" y1="383.4" x2="358.5" y2="385.6" stroke="#777" stroke-width="0.9" />
<path d="M224.5 345.9 L225.2 344.8 L225.8 343.8 L226.5 342.7 L227.2 341.6 L227.9 340.6 L228.5 339.5 L229.2 338.4 L229.9 337.4 L230.6 336.4 L231.2 335.3 L231.9 334.3 L232.6 333.3 L233.3 332.3 L233.9 331.4 L234.6 330.4 L235.3 329.4 L235.9 328.5 L236.6 327.6 L237.3 326.7 L238 325.8 L238.6 325 L239.3 324.1 L240 323.3 L240.7 322.5 L241.3 321.8 L242 321 L242.7 320.3 L243.4 319.6 L244 318.9 L244.7 318.3 L245.4 317.7 L246 317.1 L246.7 316.5 L247.4 316 L248.1 315.5 L248.7 315.1 L249.4 314.6 L250.1 314.2 L250.8 313.8 L251.4 313.5 L252.1 313.2 L252.8 312.9 L253.5 312.7 L254.1 312.5 L254.8 312.3 L255.5 312.1 L256.1 312 L256.8 312 L257.5 311.9 L258.2 311.9 L258.8 311.9 L259.5 312 L260.2 312.1 L260.9 312.2 L261.5 312.4 L262.2 312.6 L262.9 312.8 L263.6 313 L264.2 313.3 L264.9 313.7 L265.6 314 L266.2 314.4 L266.9 314.8 L267.6 315.3 L268.3 315.8 L268.9 316.3 L269.6 316.8 L270.3 317.4 L271 318 L271.6 318.6 L272.3 319.3 L273 320 L273.7 320.7 L274.3 321.4 L275 322.1 L275.7 322.9 L276.3 323.7 L277 324.6 L277.7 325.4 L278.4 326.3 L279 327.2 L279.7 328.1 L280.4 329 L281.1 329.9 L281.7 330.9 L282.4 331.8 L283.1 332.8 L283.8 333.8 L284.4 334.8 L285.1 335.9 L285.8 336.9 L286.4 337.9 L287.1 339 L287.8 340 L288.5 341.1 L289.1 342.2 L289.8 343.2 L290.5 344.3 L291.2 345.4 L291.8 346.4 L292.5 347.5 L293.2 348.6 L293.9 349.6 L294.5 350.7 L295.2 351.8 L295.9 352.8 L296.6 353.9 L297.2 354.9 L297.9 355.9 L298.6 357 L299.2 358 L299.9 359 L300.6 360 L301.3 360.9 L301.9 361.9 L302.6 362.8 L303.3 363.7 L304 364.6 L304.6 365.5 L305.3 366.4 L306 367.2 L306.7 368.1 L307.3 368.9 L308 369.7 L308.7 370.4 L309.3 371.1 L310 371.8 L310.7 372.5 L311.4 373.2 L312 373.8 L312.7 374.4 L313.4 375 L314.1 375.5 L314.7 376 L315.4 376.5 L316.1 377 L316.8 377.4 L317.4 377.8 L318.1 378.1 L318.8 378.5 L319.4 378.8 L320.1 379 L320.8 379.2 L321.5 379.4 L322.1 379.6 L322.8 379.7 L323.5 379.8 L324.2 379.9 L324.8 379.9 L325.5 379.9 L326.2 379.8 L326.9 379.8 L327.5 379.7 L328.2 379.5 L328.9 379.3 L329.5 379.1 L330.2 378.9 L330.9 378.6 L331.6 378.3 L332.2 378 L332.9 377.6 L333.6 377.2 L334.3 376.7 L334.9 376.3 L335.6 375.8 L336.3 375.3 L337 374.7 L337.6 374.1 L338.3 373.5 L339 372.9 L339.6 372.2 L340.3 371.5 L341 370.8 L341.7 370 L342.3 369.3 L343 368.5 L343.7 367.7 L344.4 366.8 L345 366 L345.7 365.1 L346.4 364.2 L347.1 363.3 L347.7 362.4 L348.4 361.4 L349.1 360.4 L349.7 359.5 L350.4 358.5 L351.1 357.5 L351.8 356.5 L352.4 355.4 L353.1 354.4 L353.8 353.4 L354.5 352.3 L355.1 351.2 L355.8 350.2 L356.5 349.1 L357.2 348 L357.8 347 L358.5 345.9" fill="none" stroke="#111" stroke-width="1.5" />
<path d="M230.9 374.5 L231.3 368.8 L231.6 370 L231.9 370.2 L232.3 369.8 L232.6 371.2 L233 372.1 L233.3 372 L233.6 371.4 L234 371.3 L234.3 371.8 L234.7 371.9 L235 371.3 L235.3 371.2 L235.7 371.8 L236 371.9 L236.3 370.8 L236.7 371.4 L237 372 L237.4 371.9 L237.7 372.4 L238 372.9 L238.4 373.3 L238.7 372.4 L239.1 371.8 L239.4 371.5 L239.7 372.4 L240.1 373.3 L240.4 373.2 L240.7 372.9 L241.1 371.2 L241.4 372.1 L241.8 373.2 L242.1 372.5 L242.4 372.6 L242.8 372.8 L243.1 373.1 L243.5 372 L243.8 372.3 L244.1 372.9 L244.5 372.2 L244.8 373.3 L245.1 373.9 L245.5 373 L245.8 371.7 L246.2 372 L246.5 373.1 L246.8 373.1 L247.2 372.3 L247.5 372 L247.9 372 L248.2 372.5 L248.5 373.5 L248.9 373.9 L249.2 373.2 L249.5 372.9 L249.9 373.5 L250.2 373.2 L250.6 372.9 L250.9 374.1 L251.2 374.2 L251.6 373.7 L251.9 373.5 L252.2 373.1 L252.6 372.6 L252.9 372.6 L253.3 373.9 L253.6 374.8 L253.9 374.9 L254.3 374.3 L254.6 373.8 L255 373.3 L255.3 373.2 L255.6 373.8 L256 373.6 L256.3 373.7 L256.6 373.7 L257 372.6 L257.3 372.6 L257.7 372.7 L258 372.6 L258.3 373.7 L258.7 374.2 L259 373.9 L259.4 374.5 L259.7 374.9 L260 374.3 L260.4 374.3 L260.7 374.7 L261 374.2 L261.4 374.3 L261.7 373.7 L262.1 373.3 L262.4 373.8 L262.7 374.4 L263.1 374.3 L263.4 374.1 L263.8 374.6 L264.1 375.2 L264.4 375.2 L264.8 375.1 L265.1 374.7 L265.4 374.2 L265.8 374.5 L266.1 374.5 L266.5 374.2 L266.8 375 L267.1 375.1 L267.5 374.2 L267.8 374.5 L268.2 375.5 L268.5 375.4 L268.8 375.2 L269.2 375 L269.5 374.5 L269.8 374.4 L270.2 374.6 L270.5 375.5 L270.9 375.1 L271.2 375.1 L271.5 375.2 L271.9 374.6 L272.2 375.2 L272.6 375.5 L272.9 375.4 L273.2 374.7 L273.6 374.7 L273.9 375 L274.2 375.7 L274.6 376 L274.9 375.2 L275.3 375 L275.6 374.8 L275.9 374.8 L276.3 375.3 L276.6 375.6 L277 375.5 L277.3 375.4 L277.6 375.1 L278 375.8 L278.3 375.6 L278.6 374.7 L279 375.2 L279.3 375.4 L279.7 375.2 L280 375.8 L280.3 375.7 L280.7 375.8 L281 375.8 L281.3 376 L281.7 376.6 L282 376.1 L282.4 375.7 L282.7 375.6 L283 375.8 L283.4 376.3 L283.7 375.9 L284.1 375.9 L284.4 376 L284.7 375.5 L285.1 375.4 L285.4 376.2 L285.7 376.8 L286.1 376.3 L286.4 376.1 L286.8 376.4 L287.1 376 L287.4 375.8 L287.8 376.9 L288.1 376.8 L288.5 376.3 L288.8 376.6 L289.1 376.4 L289.5 376.3 L289.8 377.1 L290.1 377.6 L290.5 378.3 L290.8 379.2 L291.2 380.6 L291.5 382.3" fill="none" stroke="#3c4da3" stroke-width="1.7" stroke-linejoin="round"/>
<path d="M299.3 374.7 L299.6 370.9 L299.9 369.4 L300.2 369.4 L300.5 367.7 L300.8 365.9 L301.1 365.5 L301.4 366.7 L301.7 366.9 L302 366.7 L302.2 367.7 L302.5 368.9 L302.8 369.4 L303.1 369.4 L303.4 369.6 L303.7 370.6 L304 371.5 L304.3 370.7 L304.6 369.5 L304.9 369 L305.2 369.5 L305.5 369 L305.8 368.5 L306.1 368.3 L306.4 367.3 L306.7 366.6 L307 365.8 L307.3 364.1 L307.6 362.8 L307.9 363.1 L308.2 361.6 L308.5 359.3 L308.8 359.2 L309.1 358.2 L309.4 356.3 L309.7 354.7 L310 354.1 L310.3 354.1 L310.6 353.4 L310.9 352 L311.2 350.9 L311.5 349.5 L311.8 348.3 L312.1 347.6 L312.4 346.8 L312.7 346.6 L313 346.2 L313.3 344.7 L313.6 344.1 L313.9 343.6 L314.2 342 L314.5 341.5 L314.7 340.6 L315 340.1 L315.3 340.3 L315.6 339.6 L315.9 339.1 L316.2 338.5 L316.5 337.8 L316.8 336.8 L317.1 336.3 L317.4 336 L317.7 335.3 L318 335.1 L318.3 334.9 L318.6 333.7 L318.9 332.5 L319.2 332.6 L319.5 333 L319.8 332.8 L320.1 332.5 L320.4 332.4 L320.7 331.8 L321 330.8 L321.3 329.7 L321.6 328.9 L321.9 328.7 L322.2 328.8 L322.5 328.6 L322.8 328.1 L323.1 327.5 L323.4 327.4 L323.7 327.1 L324 326.6 L324.3 326.2 L324.6 325.5 L324.9 324.5 L325.2 324.6 L325.5 324.8 L325.8 324.1 L326.1 323.4 L326.4 324.1 L326.7 323.6 L327 322.1 L327.2 322.2 L327.5 321.5 L327.8 321 L328.1 322 L328.4 322 L328.7 321.1 L329 320.7 L329.3 320.1 L329.6 320 L329.9 319.6 L330.2 318.7 L330.5 318.5 L330.8 318.7 L331.1 318.6 L331.4 318.2 L331.7 316.9 L332 316.9 L332.3 318.5 L332.6 318.3 L332.9 316.9 L333.2 315.7 L333.5 315.8 L333.8 315.5 L334.1 315.4 L334.4 315.4 L334.7 315.3 L335 315.9 L335.3 314.4 L335.6 313.8 L335.9 314.2 L336.2 313.3 L336.5 313.1 L336.8 313.5 L337.1 314 L337.4 313.3 L337.7 313.2 L338 314.5 L338.3 314.2 L338.6 313.4 L338.9 313 L339.2 312.2 L339.5 312.3 L339.7 312.8 L340 312.8 L340.3 313.6 L340.6 313.5 L340.9 312.5 L341.2 312.8 L341.5 312 L341.8 310.8 L342.1 311.2 L342.4 311.4 L342.7 311.8 L343 311.9 L343.3 312.4 L343.6 313.2 L343.9 312.8 L344.2 312 L344.5 312 L344.8 312.6 L345.1 312 L345.4 311.9 L345.7 312.7 L346 312.8 L346.3 313.3 L346.6 313.9 L346.9 313 L347.2 312.8 L347.5 312.9 L347.8 313.3 L348.1 313.5 L348.4 313.9 L348.7 314.7 L349 315 L349.3 315 L349.6 314.2 L349.9 315.3 L350.2 316.2 L350.5 316.3 L350.8 316.9 L351.1 317 L351.4 317.9 L351.7 318.2 L352 318.4 L352.2 318 L352.5 318.2 L352.8 319.2 L353.1 319.3 L353.4 319.9 L353.7 320.7 L354 321.9 L354.3 321.6 L354.6 321.6 L354.9 322.7 L355.2 323.9 L355.5 324.7 L355.8 325.1 L356.1 325.9 L356.4 326.8 L356.7 328.3 L357 328.7 L357.3 329.3 L357.6 329.8 L357.9 330.9 L358.2 332.9 L358.5 333.6" fill="none" stroke="#3c4da3" stroke-width="1.8" stroke-linejoin="round"/>
<line x1="268.8" y1="376.4" x2="282" y2="375.4" stroke="#f0141c" stroke-width="1.5" />
<circle cx="274.7" cy="375.9" r="2.4" fill="#f0141c"/>
<line x1="303.3" y1="369.6" x2="317.6" y2="336.1" stroke="#f0141c" stroke-width="1.5" />
<circle cx="310.3" cy="353.4" r="2.4" fill="#f0141c"/>
<text transform="translate(219.8 334.3) scale(1.065 1)" font-size="9.7" text-anchor="end" fill="#222" font-weight="normal"  stroke="#222" stroke-width="0.2">0.5</text>
<text transform="translate(219.8 375.5) scale(1.065 1)" font-size="9.7" text-anchor="end" fill="#222" font-weight="normal"  stroke="#222" stroke-width="0.2">0</text>
<text transform="translate(212.8 353) scale(1.1 1)" font-size="10" text-anchor="middle" fill="#3c4da3" font-weight="normal"  stroke="#3c4da3" stroke-width="0.2"><tspan font-style="italic">p</tspan></text>
<text transform="translate(224.5 396.6) scale(1.065 1)" font-size="9.7" text-anchor="middle" fill="#222" font-weight="normal"  stroke="#222" stroke-width="0.2">0</text>
<text transform="translate(291.4 396.6) scale(1.065 1)" font-size="9.7" text-anchor="middle" fill="#222" font-weight="normal"  stroke="#222" stroke-width="0.2">5</text>
<text transform="translate(358.2 396.6) scale(1.065 1)" font-size="9.7" text-anchor="middle" fill="#222" font-weight="normal"  stroke="#222" stroke-width="0.2"><tspan textLength="8.8" lengthAdjust="spacingAndGlyphs">10</tspan></text>
<text transform="translate(251.5 396.6) scale(1.005 1)" font-size="10.5" text-anchor="middle" fill="#222" font-weight="normal"  stroke="#222" stroke-width="0.2"><tspan font-style="italic">t</tspan> (s)</text>
<text transform="translate(365.5 315) scale(1.065 1)" font-size="9.7" text-anchor="start" fill="#222" font-weight="normal"  stroke="#222" stroke-width="0.2"><tspan textLength="15" lengthAdjust="spacingAndGlyphs">200</tspan></text>
<text transform="translate(363.2 383.1) scale(1.065 1)" font-size="9.7" text-anchor="start" fill="#222" font-weight="normal"  stroke="#222" stroke-width="0.2"><tspan textLength="3.9" lengthAdjust="spacingAndGlyphs">−</tspan><tspan textLength="15" lengthAdjust="spacingAndGlyphs">200</tspan></text>
<text transform="translate(369.6 346.2) rotate(90) scale(1.005 1)" font-size="10.5" text-anchor="middle" fill="#222" font-weight="normal"  stroke="#222" stroke-width="0.2"><tspan font-style="italic">V</tspan> (mV)</text>
</g>
</svg>
</body></html>
